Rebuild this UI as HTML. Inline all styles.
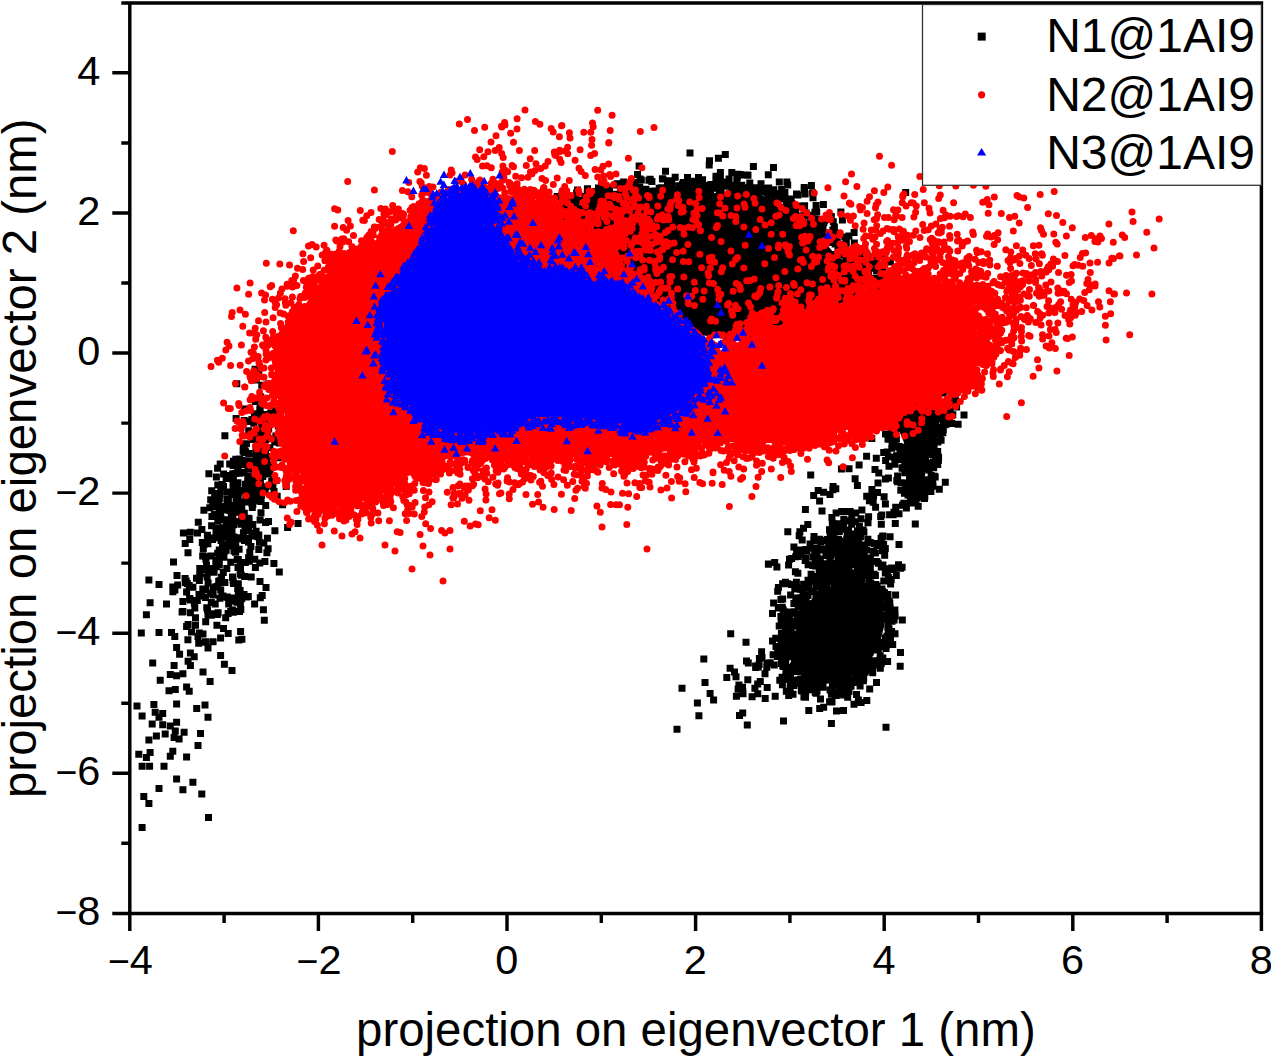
<!DOCTYPE html>
<html><head><meta charset="utf-8"><title>PCA projection</title>
<style>html,body{margin:0;padding:0;background:#fff;}svg{display:block;}text{font-family:"Liberation Sans",sans-serif;fill:#000;}</style></head><body>
<svg width="1271" height="1057" viewBox="0 0 1271 1057">
<rect width="1271" height="1057" fill="#fff"/>
<path d="M565 209L573 208L581 206L589 205L595 204L601 203L609 202L617 201L626 200L636 199L646 198L657 197L669 196L682 195L694 195L705 194L715 193L724 192L733 192L742 192L751 193L760 195L767 197L773 199L778 202L783 207L789 211L795 216L801 220L808 224L813 228L819 233L823 239L828 246L834 253L840 258L848 263L856 267L863 271L871 274L878 278L884 281L888 287L891 295L893 308L894 322L884 331L861 339L825 343L775 343L732 340L695 334L665 325L641 313L619 301L600 290L585 279L572 270L563 260L558 250L555 239L555 227L557 218L560 213z" fill="#000"/>
<path d="M904 404L915 403L924 401L934 400L942 400L948 399L951 400L950 399L950 398L948 402L946 407L943 412L941 418L939 423L937 429L935 436L933 442L931 449L930 455L928 462L927 468L925 475L924 480L922 484L921 488L919 491L918 492L919 492L919 492L920 492L919 491L918 488L916 484L914 478L913 471L911 465L909 459L907 452L905 446L903 440L901 435L898 430L896 425L895 420L894 415L894 411L894 409L898 406z" fill="#000"/>
<path d="M796 630L798 622L801 615L804 609L808 603L813 598L818 594L824 590L830 587L837 585L843 584L850 583L856 584L862 586L868 588L873 591L876 596L880 601L882 607L884 613L884 620L884 627L882 635L880 642L877 649L873 656L868 663L862 669L855 674L848 678L840 682L832 683L825 684L818 684L811 682L806 680L802 677L798 672L796 667L794 662L793 657L793 651L794 645L795 638z" fill="#000"/>
<path d="M566 203.7h0M570.1 199h0M562.8 199.3h0M557.2 196.6h0M570 209.9h0M573.9 207.4h0M561.9 195.1h0M570.1 207.1h0M568.1 196.8h0M574.2 205.3h0M572.1 208.2h0M572.1 206.6h0M566.1 195.2h0M571.3 204.2h0M575.5 200.5h0M575.4 203h0M575.3 199.6h0M577.9 207.9h0M577.5 190.1h0M580.8 200.4h0M576.6 193h0M587.7 203.9h0M585.2 204.1h0M589.8 197.6h0M584.7 196.4h0M588.9 201.7h0M587.2 193.2h0M587.4 189.6h0M587 196.7h0M589.2 199.8h0M592.4 203.7h0M594.1 191.5h0M587.5 188.7h0M592.2 193h0M594.8 198.1h0M597.8 196.8h0M597.3 197.7h0M596.5 204.1h0M595 197.7h0M599.5 195.1h0M605.4 199.8h0M598.5 188h0M598.8 191.4h0M599.9 204.7h0M601.7 189.3h0M604.6 204.7h0M599.3 201.5h0M599.7 191.7h0M601.6 186.4h0M601.7 195.8h0M604.2 202.8h0M611.1 202h0M604.3 194.2h0M605.7 185.8h0M602.5 191.7h0M604.8 193.7h0M610.6 194.9h0M610 195.8h0M612.6 199.7h0M613.5 196.5h0M609.2 194.5h0M615.3 185.1h0M620.5 196.9h0M617.2 183.7h0M615.8 195.8h0M620.4 188.7h0M613.8 194.2h0M621.9 191.8h0M625.7 197.4h0M621.7 185.5h0M620.7 192.1h0M625.8 199.6h0M623.5 195.5h0M629.6 200.6h0M623.6 182.1h0M628.1 188.2h0M630.2 194.3h0M633.4 190.7h0M631.8 190.6h0M629.5 186.2h0M640.4 199.8h0M631.6 199.7h0M628.2 192.9h0M635 182.5h0M631.7 194.3h0M636.4 197.3h0M638.3 197.4h0M639.1 191.4h0M641 198.4h0M639.6 196.4h0M642.5 197.1h0M638 191.8h0M639.1 165.9h0M639.7 187.3h0M646.3 194.7h0M652.1 192.2h0M645.5 193h0M646 189.2h0M650.2 179.3h0M650.6 191.4h0M648.9 180.3h0M654.7 192h0M651 192.4h0M656 192.1h0M641.3 179.9h0M655.5 193.8h0M655.1 194.2h0M653.8 191h0M651.9 181.5h0M659.2 188.3h0M663.1 187.9h0M662.4 178.8h0M661.3 193.1h0M662.8 195.5h0M662.2 192.5h0M662.8 179h0M663.9 191.5h0M665.8 193.8h0M667.1 194.8h0M661.4 187.7h0M667.5 181.6h0M665.5 171.2h0M671.8 183.5h0M670.5 187.6h0M669.9 193.6h0M666.6 188.1h0M673.7 195.9h0M678.5 194.4h0M668.9 180.8h0M679 196.9h0M674.5 190.5h0M681.5 191.2h0M682.3 194.9h0M676.2 190.7h0M684.2 189h0M682.6 184.3h0M676 193h0M678.9 185.8h0M675.8 191.6h0M683.2 193.7h0M683.3 182.4h0M683.9 190.9h0M687.9 191.5h0M689.1 192.3h0M679.9 188.7h0M690 195.4h0M688.6 188.8h0M692.8 181.3h0M694.9 184.2h0M691 185.6h0M687.5 177.6h0M689.6 181.8h0M692.6 184.2h0M691.8 182.8h0M697.4 183.1h0M696.4 184.9h0M697 192.5h0M694.4 191.9h0M703.7 190.9h0M702.6 179.8h0M704.1 186h0M701.6 184.7h0M697.7 191.7h0M703.2 189.7h0M699.5 180.7h0M700 186.7h0M706.2 187.3h0M703.5 188.3h0M706.3 185.5h0M707.3 187.5h0M704 187.2h0M710 186.9h0M706.3 192.6h0M710 192.3h0M710.6 189.6h0M709.2 165.1h0M709.3 187.3h0M710.8 184.4h0M714 187.2h0M712.4 184.8h0M715.9 179h0M717.4 185.2h0M717.2 188.2h0M720.4 179.1h0M717.1 186.5h0M731.8 172.6h0M719.3 192.3h0M720 188.5h0M721.1 190.9h0M709.5 160.8h0M720.9 185.3h0M722.1 184.6h0M716 176.3h0M718.4 158.3h0M724.3 186.3h0M729.1 179.1h0M729.5 193.7h0M731.2 185.7h0M728.9 186.3h0M726.7 182.1h0M731.8 187.8h0M735.9 192.9h0M734.7 185.2h0M735 193.4h0M735 187.5h0M737.4 176.9h0M738 189.3h0M739.5 186.7h0M740.7 174.7h0M747.3 174.9h0M737.4 174.2h0M738.3 187.5h0M742 189h0M736.8 179.8h0M739.4 174.6h0M744 175.1h0M725.3 154.6h0M741.8 185.3h0M749.2 189.6h0M747.2 188.2h0M749.8 190.7h0M751.2 191.6h0M749.1 187.5h0M753.5 190.8h0M753.4 166.6h0M754.3 187.7h0M760.5 189h0M756.7 195h0M763.8 191.4h0M764.4 188.3h0M766.9 192.6h0M765 191.4h0M768.7 187.9h0M769.4 192h0M769.9 193.7h0M772.7 194.7h0M769.2 191.1h0M779.3 182h0M768.5 194.8h0M773.5 167.4h0M773.8 189.8h0M786.9 181.9h0M782.3 193.6h0M774.5 197h0M778.8 194.8h0M784.9 192.6h0M780.7 197.8h0M780.9 193.5h0M781.6 189.6h0M781.9 199.1h0M781.1 195.3h0M782.9 197.8h0M784.2 195.9h0M787.4 198.9h0M790.7 200.8h0M784.3 207.2h0M782.3 207.9h0M797.9 195h0M804.1 189.7h0M786.6 204.8h0M787 208.7h0M791.1 199h0M791.8 203.6h0M792 206.4h0M796.5 193.9h0M787.3 211.1h0M805.1 194h0M804.2 187.6h0M792.2 213.2h0M792.4 208.2h0M804.6 205.8h0M796.9 205.9h0M793 214.2h0M795.6 212.4h0M802.4 222.1h0M801.3 206h0M791.5 215.6h0M804.6 189.4h0M797.6 217.9h0M813 197.8h0M802.3 216.9h0M802.1 215.9h0M803 215.8h0M816.1 205.6h0M806.2 212.9h0M808.4 216h0M811.2 216.9h0M811.2 228.8h0M810.9 217.7h0M811.8 215.3h0M823.4 204.5h0M809.8 223.6h0M814.9 212.3h0M816.7 212h0M818.1 219.5h0M813.8 227h0M813.5 226.8h0M816.2 224.1h0M820 225.2h0M825.5 219.4h0M824.6 220.5h0M816.5 224.2h0M822.7 233.3h0M819.5 228.1h0M823 227.1h0M822 228.6h0M823.9 222.6h0M820.3 229.6h0M833.3 221.7h0M834.4 227.1h0M842.4 220.1h0M840.9 212h0M831.3 216.5h0M823.1 237.8h0M825 237.2h0M833.6 233h0M832.9 230h0M828 233.1h0M833.6 233.8h0M826.5 241h0M848.9 236.1h0M831.9 236.2h0M831.4 242.4h0M837.3 242h0M835.2 233.1h0M833.4 230.5h0M834.2 241.5h0M835.2 244.1h0M835.2 238.6h0M835.9 240.9h0M835.5 243.8h0M845.4 247h0M854.3 242.9h0M833 254.6h0M839.7 245.6h0M844.8 237.1h0M835.5 240h0M846.3 242.4h0M842.7 251.4h0M838 249.4h0M840 252.4h0M842.5 251h0M843.8 253.3h0M842.7 247.9h0M844.3 249.5h0M840 244.4h0M854.1 232.4h0M841.8 250.2h0M842.8 251.7h0M843.7 255.1h0M847.2 254.4h0M844.9 246.5h0M846.6 254.4h0M855.1 254.3h0M851.6 264.1h0M847.8 252.3h0M846 259h0M859.6 251.6h0M853.9 260.3h0M855.1 263.5h0M862.8 258.4h0M863.8 250.1h0M860.1 256.9h0M858.2 264.1h0M859.8 248.7h0M858.6 269.9h0M860.4 265.4h0M859.3 264.8h0M863.7 254h0M862 268.7h0M862.3 266.5h0M867.1 256.3h0M863 268.6h0M864 264.5h0M865.1 262h0M876.8 256.2h0M870.3 256.9h0M864.3 252.9h0M867.6 262h0M868.5 263.6h0M876.8 263.4h0M868.1 262.9h0M869.6 268.2h0M868.6 271.5h0M876 265.6h0M871.3 264.3h0M874 264.3h0M875.8 267.2h0M876.3 278.2h0M881.2 272.9h0M881.7 269.6h0M890.4 261.9h0M876.6 270.8h0M881.8 270.8h0M882.4 272.1h0M878.1 278.2h0M882.7 269.4h0M881.6 279.3h0M883 281.5h0M883.1 256.6h0M890.3 273.3h0M884.4 279.8h0M893.3 278.4h0M894.6 290.2h0M907 259.2h0M886.6 281.6h0M893.8 279.5h0M892.1 281.9h0M891.1 279.8h0M891.3 280h0M890.3 285.3h0M889.7 290.4h0M896.9 287.1h0M897.5 287.4h0M897 289.6h0M897.5 287.7h0M894.7 293.3h0M897.5 288.1h0M898.3 289.6h0M897.4 288.4h0M894.8 297.4h0M899.4 291.1h0M900 292.3h0M895.4 290.5h0M905.3 299.7h0M897.3 302.6h0M901 298h0M898.1 300.8h0M898.2 295.8h0M899.2 306.9h0M897.1 317.5h0M897.2 316.2h0M896.6 321.6h0M909.9 313h0M900.2 319.8h0M905.5 328.4h0M900.5 324.7h0M894.6 320.3h0M896.3 330.6h0M888.1 333h0M876.4 338.7h0M875.3 340.3h0M872.9 358.3h0M863.8 348.7h0M849.6 345.7h0M553.1 259.1h0M545.1 253.1h0M550.3 251.2h0M551.7 250h0M553.4 239.8h0M555.3 247.6h0M546.5 246.8h0M552.8 242.1h0M550 237.3h0M555.3 239.8h0M557.2 236.5h0M546.7 235.9h0M546.7 231.8h0M548.8 231.8h0M549.6 226.4h0M553.9 234.6h0M544.6 230.8h0M554.6 227.4h0M546.4 229.5h0M541.6 227.1h0M542.7 221.5h0M548.5 229.4h0M551.4 226.5h0M552.1 224.8h0M557.5 221.1h0M555.5 220.6h0M547.9 217.6h0M557.9 216h0M552.4 226.2h0M546.4 219.8h0M557.1 217.4h0M548.2 214.4h0M557.1 217.2h0M546.3 206.4h0M544.4 206.4h0M549.7 217.7h0M559 212h0M557.1 204.8h0M554.9 209.7h0M549.6 211.7h0M557.1 208.5h0M554.1 206.1h0M561.1 203.8h0M552.5 199.6h0M564 206h0M550.4 199.3h0M930.1 401.9h0M935.2 391.9h0M934.9 394.5h0M937.2 398.5h0M943.4 391.2h0M942.8 393h0M953.4 394.3h0M951 390.9h0M955.3 395.6h0M951.5 394.1h0M955 393.5h0M955.2 405.2h0M956.1 402.1h0M948.3 399.5h0M949 399.5h0M964 414.9h0M956.6 407h0M945.5 408.7h0M952.8 414.7h0M950.1 411.4h0M950 413.9h0M942.8 409.7h0M948.6 417.4h0M951.7 423.6h0M942 413.1h0M949 420.5h0M942.7 416.6h0M946.8 417.6h0M944.1 415.6h0M949.2 422.7h0M941.2 428.2h0M943.2 419.6h0M958.1 424.3h0M943.3 429.5h0M943.6 422.1h0M945 424.7h0M941.5 419.1h0M947.6 421.1h0M946.4 423.9h0M939.7 429.8h0M940.1 429.5h0M942.9 432.8h0M934.4 432.3h0M940.1 433.5h0M941.1 427.1h0M935.9 429.7h0M933.8 434.8h0M940.1 431.1h0M939.6 430.9h0M941.1 440.3h0M937.6 441.9h0M936 440.9h0M937.3 441.6h0M937.9 441.7h0M934.6 440.9h0M934.1 445.4h0M931.1 443.7h0M938.6 457.3h0M937.7 451.6h0M933.6 450.9h0M935.7 454.9h0M929 449.4h0M931.2 451.5h0M930.3 454.2h0M931.1 451.8h0M935.4 463h0M938.4 460.4h0M933.5 462h0M926.8 463.1h0M937.7 464.6h0M930.4 464.5h0M926.2 467.1h0M933.7 467.8h0M934.4 476.3h0M929.2 469.9h0M935.2 477.1h0M931.2 475.5h0M932.8 479.8h0M930.7 480.9h0M928.3 482.5h0M945.3 482.3h0M929 483.7h0M925 479.8h0M928.3 485.8h0M930.9 491.5h0M939.3 489.2h0M933 486.2h0M927 486.3h0M925.5 484.9h0M922.1 487.5h0M922.4 483.7h0M922.5 496.7h0M924.5 498.4h0M920.7 495.6h0M924.5 492.1h0M919.7 495.2h0M924.8 496.6h0M919.2 496.9h0M914.9 500h0M918 491.6h0M918 493.1h0M917.4 494.3h0M917.1 498.1h0M915.1 494.4h0M914.1 495.9h0M920.1 496.3h0M910.4 501.9h0M893.1 514.8h0M914.6 497.1h0M914.1 488.5h0M908.9 493.6h0M911.3 491.3h0M919.8 491.5h0M911.6 503h0M914 487.3h0M913.2 487.1h0M920.1 492h0M911.6 486.9h0M914.1 492.6h0M904.4 493.2h0M907.3 490.7h0M911.7 481.4h0M908.4 483.5h0M910.3 487h0M910.7 479.6h0M906.9 484.6h0M907.1 483.7h0M916 481.3h0M900.8 490.2h0M905.8 483.1h0M912 480.5h0M909.5 478h0M905.9 484.5h0M901.1 482.7h0M897.6 481.7h0M888.4 478.1h0M896.8 480.4h0M910.7 473.7h0M904.8 472.8h0M904.8 472.8h0M913.6 477.9h0M897.6 475.9h0M885.4 479.1h0M903.6 468.3h0M905.1 468.3h0M905.4 472.8h0M902.9 467.7h0M904.1 466.9h0M904.6 466.8h0M902.1 468.2h0M905.7 465.9h0M906.5 463.7h0M908 465h0M908.2 458.2h0M908.1 460.8h0M903.5 455.7h0M905.7 456.8h0M898.9 457.4h0M900.6 459.6h0M878.8 473h0M894.5 457.2h0M875 469.5h0M897.9 455.7h0M889 466.3h0M899.2 457.4h0M904.5 449.4h0M900.1 451.2h0M908.7 450.5h0M895.3 458.8h0M905.8 451.3h0M899.3 447.2h0M896.5 455.8h0M887.2 451.9h0M888.3 456.8h0M885.6 460.4h0M892.1 443.9h0M891.8 448.3h0M903.5 447.3h0M899 446.5h0M894 446.2h0M876.3 458.3h0M893.3 435.7h0M883.7 452.4h0M896.4 439.3h0M866.6 456.3h0M894 437.7h0M890.6 435.7h0M895.3 434.8h0M885.5 434.1h0M888.9 439.3h0M888 439.1h0M894.4 424.8h0M892.7 425.5h0M899.8 427.8h0M895.7 428.2h0M892.4 429.7h0M871.8 438.6h0M874 422.5h0M892 428.2h0M892.2 421.2h0M893.6 426.3h0M892.2 424.4h0M889.3 426.4h0M887.3 422.2h0M893.6 423.3h0M893.8 417.4h0M888.3 414.5h0M891 412.3h0M888 420.8h0M894.6 414.6h0M881.2 420.8h0M881.8 414.5h0M889 408.6h0M888.8 412h0M879.4 413.1h0M887.1 405.5h0M890 403.4h0M882.8 391.6h0M901.2 398.9h0M786.4 632.7h0M779.2 625.9h0M791 629.3h0M786.3 624.7h0M795.7 621.4h0M782.2 621.6h0M784.7 620.9h0M794.1 625.9h0M786.6 622.4h0M792 622.1h0M787.1 624.9h0M786.7 621.8h0M793.2 621.8h0M773.6 603h0M797.1 618.7h0M778.3 608h0M790.3 612h0M792.1 613.3h0M789.4 617.2h0M802 614.8h0M779.9 607.4h0M794.7 612h0M802.4 607.6h0M799.3 614.4h0M780.9 599.4h0M783.2 610h0M789.3 614.6h0M790.5 612.3h0M798.1 607h0M794.6 611.7h0M782.3 607.2h0M793.9 603.5h0M799.1 606.9h0M799.1 603.5h0M782.7 599.1h0M782.6 583.7h0M787.8 583.8h0M790.6 594.9h0M808.7 603.8h0M807.9 603.9h0M801.3 603h0M805.7 602.5h0M774.7 562.6h0M794.9 584.9h0M795.4 571.7h0M803.8 596.9h0M804.1 596.8h0M796.4 582.2h0M806.1 598h0M808.9 588.3h0M808 595.6h0M810.8 591.4h0M813.8 591.6h0M816.3 581.9h0M815.9 596.8h0M821.3 590.1h0M816.2 586.6h0M819.9 579h0M817.6 583h0M819.5 568.2h0M825.3 588.9h0M805.7 558.3h0M817.3 583.8h0M823.6 582.9h0M826.4 583.9h0M828.1 581.5h0M816.2 563.8h0M826.6 587.9h0M833.9 587.6h0M826.2 576.4h0M832.3 580.3h0M835 539.7h0M832.2 577.4h0M830.9 579.4h0M833.5 553.6h0M835.8 569.7h0M834 577.1h0M836.9 582.1h0M840.8 574.1h0M837.7 579.4h0M838.1 583.1h0M836.8 567.4h0M835.5 576.6h0M840.6 574.9h0M837.1 586.3h0M828.7 567.1h0M836.3 573.7h0M834.3 579.6h0M833.9 572.1h0M843.8 571.5h0M846.1 561.9h0M846.4 583.2h0M837.5 580.9h0M845.8 572.1h0M839.4 583.6h0M843.5 569.8h0M846 576.1h0M848 578.1h0M845.8 585.1h0M845.6 563.5h0M843.6 576.9h0M850.5 577h0M851.1 573.4h0M848 578.3h0M856.3 579.6h0M850.7 573.6h0M849.1 566.6h0M848.5 558.5h0M851.3 576.6h0M857.2 570.5h0M856.3 581.2h0M859.7 575h0M853.8 576.6h0M857.6 572.1h0M861.7 578.8h0M861.3 581.8h0M861.6 576.8h0M858.3 574.8h0M870.3 571h0M864.4 575.3h0M867.8 586.4h0M870.4 572h0M869.8 572.2h0M869.2 583.3h0M868.9 579.7h0M870.7 582.9h0M870.6 583h0M871.8 575.4h0M867.2 586.2h0M875.8 584.4h0M875.8 589.1h0M874.9 585.4h0M875.1 586.5h0M872.4 587.6h0M877.4 588.9h0M877 585.9h0M881.9 589h0M882.6 591.5h0M877.3 597h0M879.8 593.6h0M879.2 599.8h0M889.1 601.4h0M885.9 597.1h0M883.8 595.7h0M884.5 592.7h0M879 599.2h0M888 594.4h0M880.6 606.2h0M889.8 603.1h0M886.7 605.6h0M890.1 607.2h0M888.4 604.1h0M894.7 613.9h0M888.7 612.2h0M894.2 609.9h0M886.5 619.3h0M894.9 609.9h0M889.3 616.8h0M895.1 615.9h0M894.1 620.1h0M886.5 615.6h0M902.3 619.9h0M883.7 617.9h0M892 614.1h0M890.3 619.8h0M892 621.2h0M887.8 625.1h0M891.1 631.4h0M891.6 631.6h0M889.5 633h0M889.8 632h0M889 628.8h0M895 633.7h0M885.3 638h0M887 636.3h0M888.3 634.1h0M888.7 634.5h0M889.3 638.6h0M888.2 636h0M887.9 627.4h0M884.6 642.7h0M890.5 637.8h0M892.7 644.5h0M885.7 638.7h0M886.3 645.5h0M880.8 646.6h0M881.6 642.5h0M876.3 646.6h0M886 648.5h0M879.7 660.3h0M882.8 658h0M880.2 655.7h0M878.3 650h0M887.6 661.4h0M881.2 659.8h0M879.5 661h0M873.1 660.8h0M881.2 663.8h0M880.1 665.3h0M873.6 665.2h0M880.3 668.3h0M868.6 663.7h0M872.7 666.5h0M873.4 664.8h0M867.4 662.4h0M872.7 672.8h0M870.9 670.6h0M872.2 663h0M865.1 672.3h0M867.5 668.1h0M861.4 672.4h0M868.5 667.5h0M864.9 669.9h0M860.7 677.5h0M862.9 675.8h0M861 674.8h0M855.2 671.4h0M863.7 678.3h0M855.9 672.8h0M860.1 685.9h0M863.4 680.8h0M856.9 678.3h0M856.6 678.6h0M857.2 681.7h0M852 679.3h0M853 682.6h0M852.5 679.2h0M844 678.2h0M851 685.1h0M852.3 679.1h0M849 691.6h0M843.6 684.1h0M851 686.3h0M844.4 682.4h0M847.6 689.2h0M861.1 702.5h0M844.4 682h0M843.1 683.1h0M846.5 684.4h0M839.3 682.7h0M856.5 694.4h0M846.1 691.4h0M841.9 689.4h0M843.7 694.9h0M858.4 699.9h0M846.7 680.5h0M840.3 692h0M843.6 689h0M835.2 693.4h0M841 688.3h0M834.6 682.3h0M832.4 682.9h0M834.4 682.2h0M831.7 701.9h0M836.6 695.2h0M832.1 689.7h0M838.9 685.1h0M836.5 710.9h0M833 690.9h0M832 701.4h0M835.6 695.5h0M831.4 694.2h0M833.5 682.9h0M823 687.2h0M819.7 708.4h0M829.6 701.8h0M830.1 689.9h0M831.4 723.4h0M818.9 686.9h0M817.8 681.7h0M815.2 692.2h0M820.5 683.4h0M817 691.1h0M818.1 683.6h0M820.5 699.1h0M818 684.2h0M808.8 710.6h0M819 685.8h0M814.3 689.7h0M816.2 693.3h0M811.8 682.4h0M805.5 697.2h0M808.5 688.5h0M808 684.5h0M808.3 687.2h0M809.5 689.2h0M808.6 689.7h0M806.8 684.8h0M805.3 693.7h0M811.2 688.2h0M802 690.9h0M805.7 691.7h0M807.6 681.1h0M807.5 680.6h0M807.8 681.5h0M801.3 690.2h0M800.3 683.6h0M794 683.3h0M795 680h0M800.6 679.1h0M788.7 695.6h0M790.4 681.6h0M752.1 696.7h0M796.3 668.6h0M754.9 688.2h0M784 679.4h0M765.2 698.5h0M792.8 667.9h0M796.8 671.5h0M790.5 675.3h0M786.3 672h0M789.5 671.3h0M779.8 680.2h0M793.3 670.7h0M792 667.6h0M782.1 677.3h0M789.6 672.5h0M758.2 667h0M788.2 667.7h0M782.8 666.1h0M793.4 665.9h0M774.2 664.9h0M785.9 673.5h0M781.9 663.2h0M794.5 661h0M785.7 662.3h0M794.8 656.2h0M755.6 666h0M746 642.3h0M773.1 654.8h0M784.3 654.3h0M767 663.3h0M791.6 656.7h0M785.9 656h0M793 649.4h0M788.8 648.6h0M776 646.5h0M787.6 655.8h0M794.9 652.5h0M783.8 652.8h0M795.2 652.4h0M784.9 647.4h0M793.4 642.9h0M789.5 644.7h0M782.7 648.8h0M775.7 638.3h0M787 641.3h0M781.2 644.8h0M786 638.3h0M772.5 641h0M787.3 637.5h0M787.1 643.8h0M789.7 641.4h0M790.8 642h0M784.1 635.4h0M781.4 633.4h0M782 625.9h0M787.9 631.9h0M794.5 634.6h0M675.2 177.3h0M609.5 187.7h0M637.5 174.4h0M812.6 192.8h0M703 214.4h0M639.9 179.1h0M749.7 195.4h0M748 175.2h0M703.4 185.9h0M759.4 190.4h0M698.8 197.2h0M811.4 185.4h0M779 198.7h0M720.4 172.4h0M749.8 183h0M787.7 185h0M717.2 186h0M761 183.8h0M715.7 203.7h0M701.1 181.3h0M589.9 195.3h0M635.8 189.5h0M651.7 205.9h0M725.9 183.1h0M905.7 192.5h0M655.3 191.1h0M690 153h0M630.5 189.5h0M693.1 195.9h0M704.1 200.9h0M768.3 174.8h0M622.5 183.5h0M754.8 197.9h0M736.9 174.3h0M698.5 177.5h0M632.2 191.6h0M645.1 192.6h0M704.9 199.2h0M759.2 197h0M711.8 187.8h0M917.6 434.8h0M914.1 470.9h0M915.7 488.1h0M919.6 481.3h0M913.6 502.1h0M922.4 482.9h0M911 484.7h0M923.2 428.5h0M903.8 503.2h0M934.5 463.7h0M913.2 496.3h0M931.6 438.6h0M930.9 454.4h0M915.8 502.9h0M922.2 444.7h0M914.1 477.8h0M918.1 464.8h0M899 513.8h0M913 483h0M918.2 506.3h0M920.5 474.1h0M931.2 435.2h0M915.3 524h0M925.6 461.8h0M918.9 475.9h0M919.8 473.9h0M931.4 438.2h0M912.8 491.1h0M910.5 463.7h0M931.5 433.5h0M924.8 439h0M935.4 421.4h0M917.1 454.6h0M907.7 467.2h0M921.2 450.8h0M914.1 472h0M913.2 463.9h0M927 487.5h0M920.4 473.6h0M911 467.8h0M835.8 488.7h0M823.6 492.2h0M833.1 486.6h0M871.9 489.6h0M841.6 511.6h0M902.5 505.2h0M884.1 496.8h0M818.2 490.5h0M868 522.8h0M890.1 536.7h0M836.1 512.9h0M894 512.3h0M841.4 469h0M908 495h0M878 483h0M855.1 478.7h0M805.4 509.4h0M857.4 485.4h0M831.9 517.4h0M869.4 500.7h0M832.8 489.8h0M873.6 495.7h0M849 468.8h0M877.5 492.6h0M880.7 516.4h0M861.9 510.1h0M873.2 502.2h0M889.6 514.8h0M830 494.6h0M875.6 507.2h0M858.7 541.2h0M906.4 507.9h0M859.1 465h0M894.9 464.3h0M810.7 474.9h0M895.7 507.3h0M868.6 516.8h0M870.7 498.5h0M885.4 504h0M819.6 501.1h0M815.6 565.9h0M841.8 591.3h0M852.6 573.7h0M832 603.7h0M819.7 595.3h0M858.1 625.7h0M874.2 603.9h0M845.2 581h0M776.9 567.1h0M820.8 594.3h0M831.1 607.4h0M855.2 628h0M829.5 574.8h0M830.6 555.5h0M870.3 542.5h0M878.2 563.3h0M844.8 583.5h0M811.5 581.3h0M808 580.2h0M860.4 587h0M820.3 596.3h0M841.4 545.5h0M836.8 588.9h0M846.2 583.5h0M851.4 583.1h0M812.9 576.6h0M823.7 540.4h0M846.9 599.2h0M842.5 575.3h0M803.6 584.3h0M895.6 595h0M802.5 588.3h0M871 597.7h0M795.8 598.1h0M868.8 564h0M791.6 558.5h0M867.2 607.8h0M846.2 567.8h0M863.8 641.6h0M820.3 559.6h0M848.7 591.3h0M848.2 585.5h0M845.9 593.8h0M825.6 563.7h0M879.5 595.3h0M790.2 637.1h0M797.9 573.3h0M799.9 531.7h0M881.3 603.1h0M816.3 597.4h0M820.6 603.7h0M820.7 566.7h0M832.2 597.3h0M833.9 609.1h0M827.4 574.8h0M798.3 588.2h0M852.9 599.8h0M841.2 605.6h0M883.8 581.1h0M853 591.9h0M839 636.8h0M800.8 637.6h0M843.7 560.7h0M858.2 641.5h0M888.4 577.5h0M852.6 613.5h0M864 556.1h0M858.4 582h0M887.5 570.6h0M873.8 607.3h0M843.1 591.9h0M800.8 597.7h0M887.7 596.6h0M844.2 591.7h0M819.1 609.6h0M801 589.6h0M791.6 584.5h0M848.9 570.7h0M836.8 564h0M850.3 573.1h0M875.9 595.6h0M824.2 611.9h0M849.8 583.3h0M826.5 636.2h0M817 617.5h0M778.4 587.4h0M819.4 595.2h0M872.2 585.9h0M826.9 540.7h0M850.1 606.8h0M845 591.8h0M899 544.5h0M883.2 608.3h0M823.5 572.3h0M829.6 580.4h0M874.2 543.4h0M848.7 585.3h0M845.1 596.9h0M875.4 575.6h0M858.3 585.9h0M846.7 538.9h0M854.1 584.8h0M804.7 584.9h0M852 602.7h0M850.2 611.7h0M890.6 583.9h0M852.1 608.5h0M824.9 631.7h0M853.2 558.6h0M808 588.1h0M832.3 545.1h0M852.7 594.4h0M818.4 620h0M785.4 582.2h0M812.9 556.9h0M819.2 572.1h0M858.2 595.9h0M828.6 548.1h0M839.8 550.3h0M851.8 517.3h0M808.1 564.7h0M842.5 523.9h0M815.1 554.8h0M802.2 539.9h0M860.2 555.7h0M867.9 539.3h0M822 510.9h0M896.3 575.4h0M844.8 550.5h0M853.8 548.1h0M845.6 577.8h0M815.3 562.8h0M866.3 569.7h0M845 547.2h0M853.9 552.9h0M845.4 558.5h0M832.4 540.3h0M898.5 564.8h0M852.6 558h0M836.5 545.3h0M858.2 543.7h0M812.9 565.4h0M851 547.7h0M825.9 555.5h0M854.1 547.2h0M813.7 495.6h0M843 556.5h0M869.1 564.3h0M817.7 539.7h0M819.7 539.2h0M870.3 565.6h0M848.6 530.2h0M858.3 571.7h0M855.1 560.3h0M811.1 574.2h0M800.9 550.1h0M796.6 552.6h0M854.2 555.6h0M807.8 524.6h0M799.2 535.8h0M828.6 569.7h0M838.4 539.3h0M848.4 534.6h0M798 556.5h0M874 574.3h0M819.1 550h0M845.4 546.3h0M840.7 550.4h0M817.8 558.2h0M851.6 524.2h0M850.2 557.1h0M869.4 557.9h0M888.6 568.8h0M894 569.4h0M865.3 562.1h0M858.8 585.4h0M833.6 551.4h0M805.9 549.4h0M852.7 579h0M828.4 553.4h0M836 541.5h0M830.8 542.1h0M852.7 551.2h0M832.7 528.4h0M900.5 568.2h0M863.8 556.6h0M830.3 573h0M851.7 534h0M876.9 545.4h0M813.8 540.4h0M848 560.3h0M830 557.9h0M844.4 564.1h0M830.9 563.3h0M847.3 533h0M854.1 556.1h0M858.2 552.8h0M806.9 551h0M860.2 559.9h0M843.8 519.3h0M827.6 539.6h0M841.7 546.5h0M882.3 536.9h0M839.3 531.4h0M822 566.6h0M860.5 565.7h0M838.5 579.7h0M860.6 535h0M850.1 511.5h0M876.9 561.6h0M828.9 544.6h0M834.4 532h0M870.4 558.8h0M885.3 548.5h0M849 520.7h0M873.5 551.2h0M855.5 521.8h0M844.2 558.5h0M803.5 528.3h0M895.3 523.6h0M872.5 561.4h0M788.6 565.1h0M863.3 544.9h0M829.5 529.7h0M819.1 559.3h0M830 551.3h0M861.8 553.1h0M842.4 542.5h0M838.6 523.8h0M839.6 541h0M834.4 573.1h0M856.6 537.8h0M793.9 547.1h0M811.2 548.1h0M839.6 564.9h0M815 553.8h0M847.5 541.9h0M834.4 580.8h0M853.1 552h0M839.5 554.2h0M858.3 537.9h0M843.7 523.5h0M861.7 556.6h0M835.4 543.3h0M801.2 554.4h0M844.5 511.6h0M844.9 577.4h0M832.4 549.8h0M869.1 562.7h0M857.5 531.1h0M882.5 550.8h0M835.9 551.8h0M835.6 567.9h0M857.7 562.4h0M881.8 514.9h0M828.5 552.8h0M857.6 551.5h0M844.8 543.9h0M838.3 552.9h0M868 559h0M867.2 565.4h0M863.2 530.1h0M830.1 535.1h0M845.9 550h0M805.2 560.4h0M859.1 533.2h0M814.6 549.4h0M839.5 528.1h0M866.6 550h0M840.3 546.4h0M849.8 557.9h0M830 572.6h0M816.8 556.6h0M832.3 523h0M843.1 554.7h0M833 523.6h0M848.4 540.9h0M866.7 496.2h0M795.7 556.7h0M869.2 586.3h0M856.5 533.9h0M884.7 555.2h0M885.3 573h0M860.5 536.7h0M875.4 553.1h0M832.8 536.8h0M820.8 541.7h0M843.1 550.2h0M853.6 564.5h0M841.4 553.7h0M859.5 549.2h0M864.6 547h0M891.7 568.1h0M845.5 558.4h0M838 556.9h0M861 518.7h0M855 546.4h0M863.9 531.9h0M891.2 579.5h0M829.8 561.3h0M867.9 574.6h0M882.9 536h0M881.3 524.2h0M814 536.5h0M842.4 560.9h0M881.1 538.6h0M850 562.4h0M860.7 573.2h0M847.3 544.7h0M881.3 567h0M855.8 513.1h0M842.8 529.3h0M852.2 540h0M883.6 544.6h0M859.4 526.2h0M810.1 544.1h0M855.3 563.1h0M847.8 649.1h0M832 618.1h0M781.2 619.1h0M869.7 641.2h0M840.8 629.7h0M777.7 591.3h0M853.3 630.5h0M803 591.5h0M836.8 693h0M830.6 621.2h0M838.5 629.1h0M873.3 613.1h0M831.9 649h0M821.8 634.4h0M815.9 597.5h0M834.9 684.7h0M840.4 638.7h0M768.4 563.9h0M821.7 549h0M847.6 592.1h0M859.5 572.1h0M816.7 600.2h0M900.5 652.4h0M841 689.6h0M806.8 648.2h0M790.4 652.8h0M836.7 685.3h0M886 727.3h0M793.8 685.5h0M781.4 663.6h0M730.7 633.8h0M845.4 598.6h0M777.4 656.4h0M790.2 687.5h0M777.6 651.8h0M784.3 617.4h0M847.2 662.9h0M788.2 635.7h0M823.6 615.1h0M789.5 559.3h0M803.1 661.1h0M842 612.5h0M841.7 686h0M772.5 613.6h0M817.7 642.6h0M780.9 616.5h0M843.5 710.4h0M793 694.2h0M781.1 638.9h0M847.7 697.2h0M794.8 589.1h0M821.1 665.8h0M843.3 617.1h0M795.7 634h0M803.9 621h0M838.7 663.7h0M902.1 567.3h0M838.5 620.9h0M844 695.1h0M817.1 548h0M814.4 631.2h0M872.7 585.7h0M787.8 531.8h0M789.3 655.9h0M872.3 620.3h0M786.3 691.3h0M768.4 564.3h0M834.2 655.1h0M854 704.2h0M882.9 565.1h0M900.2 666.2h0M730.1 668.3h0M808.6 648.7h0M803.9 696.9h0M830.3 667.7h0M783.7 611.6h0M817.7 609.5h0M826.9 635.1h0M823.7 707.3h0M783.8 635.4h0M825.4 677h0M782.9 635.2h0M783.7 666.4h0M806.3 662.8h0M846.7 690.9h0M739.5 715.5h0M813.8 621.1h0M869 594.9h0M822 638.3h0M795.6 640.1h0M825.8 652.5h0M876.5 682.4h0M809.6 624.8h0M789.1 642.1h0M845.2 642.5h0M805.8 687h0M789.1 624.8h0M847.4 690.9h0M783.5 721.1h0M804.1 633.6h0M866.8 700.4h0M821.5 665.1h0M864.3 640.3h0M747.3 725h0M757.8 693.7h0M785.4 630.8h0M810.3 666.5h0M738.1 689.1h0M705 682.4h0M812.2 686.9h0M767.2 687.6h0M829.2 661.9h0M766.8 667.3h0M770.2 662.8h0M760.3 681.4h0M761.6 651.7h0M736.4 696.3h0M748.3 662.9h0M697.4 703h0M698.9 715.7h0M710.1 693.6h0M736 676.7h0M755.7 667.5h0M757.7 684h0M801.5 643.7h0M857.6 643.9h0M677 729.3h0M807 626.6h0M794.1 652.4h0M742.8 691.7h0M762 657.8h0M682 688.2h0M746.5 661.1h0M828.2 671.6h0M703.8 658.9h0M738.9 685h0M765 673.8h0M788.2 669.5h0M759.1 664.6h0M742.5 687.2h0M783.7 660.6h0M734.5 671.9h0M869.7 689.1h0M815.8 678.4h0M759.4 658.4h0M726.8 677.6h0M743 693.7h0M742.7 713.1h0M747.8 679.7h0M782.4 684.7h0M713.6 699.9h0M775.2 696.2h0M232.6 494.5h0M226.9 499.2h0M247.1 491.6h0M249.8 484.7h0M249.4 476.5h0M270.1 472.9h0M268.1 456.6h0M265.5 439.7h0M214.4 514.6h0M290.3 401.4h0M262.8 476.5h0M228.4 501.2h0M210.3 568.5h0M243.6 445.2h0M229.8 528.8h0M226.6 522.8h0M210.7 499.7h0M219.3 550h0M277.6 392.4h0M229.8 510.4h0M268.4 470.3h0M250.8 491.5h0M266.6 468.1h0M262.5 430.2h0M304.4 393.9h0M233.7 483.7h0M266.6 462.8h0M255.2 401.5h0M257.5 464.7h0M257.9 413.7h0M247.8 421.5h0M258.5 480.2h0M241.1 504h0M294.5 384.5h0M254.8 464.1h0M245.8 495.7h0M275.2 410.7h0M256.4 452.2h0M249 481.8h0M268.5 521.4h0M259.8 409.8h0M261.8 385.3h0M251.9 433.3h0M253.4 439.6h0M261.9 467.3h0M268.4 474h0M304.9 385.6h0M238.1 496.4h0M294.3 395.3h0M274 491.4h0M254.3 491.5h0M265.1 491.6h0M235.6 473.5h0M260.6 486.4h0M280.1 434.8h0M252.6 421.4h0M216.9 560.4h0M234.8 539.6h0M217.8 520.8h0M252.3 507.6h0M296.9 400h0M224.9 551.1h0M257 455.2h0M252.4 463.2h0M246 501.9h0M282.4 441.8h0M211.9 516.4h0M300.9 358.2h0M235.8 521.6h0M233 483.4h0M251.9 419.6h0M236.1 501.8h0M209.8 507.7h0M243.1 502h0M233.4 505.5h0M243.4 447.5h0M235.4 512.2h0M223.3 507.3h0M220.9 518.3h0M258.7 501.1h0M273.7 385.2h0M208.9 473.8h0M282.3 407.1h0M253.8 423.3h0M244.3 452.7h0M273.2 479.6h0M259 449.3h0M260.4 482h0M226.2 477.5h0M237 464.5h0M241.9 460.6h0M258.8 481.5h0M233.1 488.7h0M244.8 408.9h0M292.9 398.2h0M228.7 505.3h0M254.2 466.8h0M308.2 360.5h0M265.6 522.5h0M234.3 511.1h0M311.1 386.5h0M257.9 398.7h0M267.4 437.3h0M282.1 406.4h0M236.1 418.5h0M243.1 451h0M227.6 499.8h0M307.8 350.6h0M247.2 460.8h0M229.9 506.4h0M290.5 346.1h0M256.2 476.8h0M255.9 456.6h0M264.8 434h0M238.3 493.3h0M240.8 524.2h0M225.4 506.4h0M217.7 553.2h0M268.7 428.7h0M298.3 370.2h0M279.3 442.9h0M257.3 470.7h0M215.5 506.7h0M259.7 491.5h0M283.6 441.4h0M248.5 530.8h0M259.6 487.3h0M229.7 463.9h0M257.7 452.5h0M259.5 485.3h0M256.8 493.1h0M254.1 463.3h0M301.4 355.2h0M256.8 416.8h0M253.6 484.7h0M198.3 522.2h0M231.3 515.1h0M249.1 518.7h0M207.4 535.2h0M261.1 501.5h0M258.8 534.9h0M244.3 513.2h0M243.9 472.4h0M265.1 421.5h0M268.5 383.9h0M257.6 488.9h0M262.6 402.8h0M260 461.3h0M226.8 492h0M275.9 436h0M219.4 498.8h0M252.3 467.8h0M261.5 421.1h0M258.7 497.8h0M236.3 496.2h0M261.7 442.8h0M261.6 495.1h0M260.2 408.5h0M235.4 464.6h0M248.4 479.4h0M259.3 413.8h0M276.1 480.4h0M229.9 532.9h0M269.8 438.8h0M270.7 413.1h0M236.8 383.8h0M286.3 438.5h0M273 415.6h0M256.4 379.9h0M237.2 465.3h0M247.7 481.6h0M289.2 429.6h0M257.6 471.8h0M241.9 511.7h0M251.9 485.5h0M237.9 470.8h0M232 494.8h0M266 437.9h0M218.6 500.8h0M219.8 552.8h0M274.8 442h0M255.1 369.2h0M263.7 433.7h0M268 420.9h0M250.7 478.8h0M255.5 533.2h0M223.5 486.5h0M248.6 557.8h0M254.3 493.3h0M286.2 486.6h0M283.4 378.8h0M250.9 488.8h0M263 439.5h0M269.8 447.7h0M245.5 451.8h0M212.4 538h0M234.6 507.6h0M261.4 473.9h0M260.8 397.1h0M256 448h0M248.9 453.6h0M240.9 510.4h0M254.4 498.7h0M222.3 484.6h0M256 420.7h0M230.5 510.1h0M189.2 585.5h0M298.2 413.5h0M295.4 431.4h0M262.2 475.8h0M242.2 515.6h0M232.8 473.7h0M237.6 467.4h0M231.7 537.6h0M293.5 427.6h0M285.7 372.7h0M285.1 399.9h0M261 512.8h0M260.1 520h0M246.4 443.7h0M283.7 402.7h0M280 431.1h0M223.6 473.9h0M229.3 506.9h0M267.9 438.3h0M261.7 424.6h0M278.2 426h0M259.8 434.7h0M217.8 485.1h0M233.1 465.6h0M217.6 468.2h0M233.4 461.2h0M258.5 476h0M281.8 406.2h0M280.4 418.4h0M265.7 486.7h0M230.5 475.4h0M227 510.1h0M256.9 461.2h0M293.1 433.9h0M261.4 456.4h0M256.2 452.3h0M248 490.1h0M243.9 451.6h0M216.4 476.9h0M249.9 492.3h0M237.3 487.2h0M248.5 494.7h0M254.4 414.2h0M219.1 512.8h0M232.7 546.1h0M239.8 506.4h0M235.7 546.2h0M234.3 484.5h0M262.2 445.5h0M250.9 498.3h0M264.3 473.7h0M252.6 464.5h0M225.6 544.9h0M265.7 430.4h0M228.1 521.3h0M260.1 445.6h0M288.5 395.7h0M218.3 497.4h0M247.7 476.7h0M231.8 476.4h0M245.4 484.2h0M226.2 520.7h0M245.1 490.8h0M250.1 461h0M248.3 469.3h0M220.9 487.1h0M277.9 457.8h0M222.1 484.8h0M258.7 373h0M255.1 471.6h0M256.6 477.5h0M234 506.2h0M263 424.5h0M235.8 459.2h0M265.7 505.6h0M172.9 591.8h0M277.2 496.3h0M214.7 493.4h0M243.3 445.2h0M205.7 569.6h0M245.7 462.3h0M259 467h0M233.4 476.5h0M266.7 414.5h0M244.2 420.4h0M271.2 464.9h0M258.8 435.9h0M220.4 512.8h0M258 451.2h0M221.5 577.3h0M249.3 487h0M252.4 436.2h0M248.6 480.6h0M241.8 505.3h0M255.4 474.9h0M237.6 490h0M263.5 465.7h0M248.7 430.8h0M253.8 467.8h0M207.9 543.8h0M258.6 453.7h0M243.7 464.7h0M287.6 406.9h0M257.1 439.2h0M261.9 491.4h0M244.4 449.5h0M245 526.7h0M222.2 507.8h0M224.9 435.7h0M239.5 459.1h0M251.9 503.4h0M248 486.3h0M263.8 458.5h0M279 385.9h0M232 531.5h0M237.4 464.5h0M272.9 486.2h0M286.7 446.8h0M231.7 537.1h0M245.8 461h0M239.8 473.2h0M296.6 383.7h0M265.5 450.5h0M240.9 461h0M233.1 581h0M249.8 552.2h0M229.9 544.9h0M258.8 549.6h0M251.2 484.7h0M218.7 581.3h0M215.2 604h0M203.9 510.3h0M173.5 561.9h0M273.9 563.6h0M177.7 585.1h0M224.1 528.6h0M240.5 569.3h0M202.8 589.1h0M251.2 577.1h0M185.2 543.4h0M235.1 550.7h0M251.9 536h0M279.3 571.9h0M274.9 530.8h0M197.3 600.6h0M244.8 576.6h0M239.1 549.2h0M219.7 494h0M208.1 583.1h0M240.4 603.8h0M219.3 565.1h0M199.7 574.5h0M207.1 576.9h0M202.3 542.6h0M197.5 532.9h0M237.2 559.6h0M227.3 597h0M259.5 542.3h0M211.7 490.8h0M203.3 548.7h0M238.1 559.7h0M234 551.1h0M223.9 557.3h0M215.1 506.1h0M231.6 522.6h0M201.9 529.6h0M264.9 561.4h0M240.1 573.9h0M199.8 568.6h0M255.4 567.6h0M207.9 540h0M252.8 524.6h0M238.1 537.7h0M237 498.1h0M267.4 538.2h0M188 552.7h0M216.2 566.8h0M232.9 515.8h0M177 575.6h0M220.2 463.9h0M226.8 568.6h0M235.4 552.3h0M208.8 537.9h0M238 567.4h0M244.5 540.4h0M223.5 628.4h0M229.1 533.6h0M231.2 538.7h0M240.2 564.5h0M237.9 482.8h0M212.6 539.6h0M217.6 495.7h0M227.3 597.3h0M263.8 543.1h0M190.3 532.2h0M243 490.5h0M228.1 613.5h0M282.6 504.8h0M252.8 504.5h0M221.3 519.8h0M271.7 481.6h0M298 523.4h0M245.7 538.6h0M237.7 588.6h0M260.3 597.7h0M212.7 501h0M257.8 536.7h0M260 581.6h0M244 594.6h0M247.5 523.3h0M229.5 538.1h0M222.5 544.8h0M204.3 544.2h0M226.3 537.3h0M189.6 598.6h0M234.9 541.3h0M217.2 586.4h0M215.8 562.7h0M188.1 661.3h0M220 598.3h0M227.1 478.6h0M241.3 575.3h0M259.8 484.6h0M232.8 598.1h0M230.1 537.8h0M252.1 479.5h0M248 518.3h0M240.5 539.1h0M210.6 593.6h0M226.2 550.3h0M217.8 561.3h0M233.5 524.7h0M223.4 527.8h0M233 494.2h0M217.3 528.1h0M268.1 548.7h0M221.1 540.5h0M241.7 519.3h0M216 532.7h0M243.4 532.8h0M259.8 563h0M226.6 519.8h0M245.6 527.1h0M243.8 515.7h0M216.3 537.7h0M213 588h0M196.5 578.2h0M240.6 631.4h0M240.8 609.5h0M232.5 577h0M233.3 612.3h0M182.1 612h0M208.5 570.1h0M222.2 534.6h0M235.7 552.3h0M240.1 590.6h0M249.3 561.3h0M185.1 578.4h0M211.4 615.3h0M246.6 597.1h0M198.7 643.2h0M233.4 583.6h0M189.8 539.5h0M220.7 589.9h0M207.5 610h0M183.4 532.9h0M236.9 602.3h0M241.9 639.3h0M239.3 595.8h0M199.3 633h0M229.1 542h0M201.3 596h0M248.5 541.9h0M245.7 539h0M266.9 552.8h0M213.6 613.7h0M241.7 598.8h0M205.7 621.7h0M210.8 555.9h0M233.9 537.1h0M194.4 602.9h0M206 559.3h0M250.9 546.6h0M232.7 610.1h0M194.8 608.1h0M205.4 556.7h0M215.4 587h0M199 594.6h0M245.3 562.4h0M219.3 559.1h0M187.3 583.4h0M188.1 624.5h0M238.3 559.6h0M264.3 620.3h0M228.7 604.1h0M186.2 581.1h0M200.1 573.2h0M230.8 562.2h0M211.3 602.4h0M224.9 582.4h0M287.6 527.5h0M192.9 587.3h0M202.7 556.1h0M220.2 580.6h0M205.9 642.3h0M222.9 595.9h0M256.1 531.3h0M223.3 572.4h0M254.8 559.3h0M217.4 614.4h0M255 493.1h0M174.9 589.9h0M199.4 580.6h0M214.1 572.2h0M233.2 600.9h0M191.5 632h0M211.6 525.8h0M206.5 565.5h0M262.2 595.4h0M148.9 580h0M159 584.5h0M172.8 587h0M185.4 582.5h0M186.6 592.1h0M205.5 590.1h0M218.1 586.3h0M238.3 583.8h0M266 587.6h0M248.3 596.4h0M254.6 603.9h0M263.4 609.7h0M150.1 602.7h0M166.5 603.9h0M182.9 601.4h0M190.4 600.1h0M205.5 597.6h0M213.1 595.1h0M221.9 596.4h0M238.3 595.1h0M146.4 614.7h0M182.9 611.5h0M190.4 612.7h0M195.5 617.8h0M206.8 607.7h0M208 615.2h0M218.1 612.7h0M225.7 617.8h0M230.7 611.5h0M239.5 611.5h0M186.6 626.6h0M195.5 625.3h0M216.9 625.3h0M141.3 632.9h0M159 632.4h0M171.5 632.4h0M174.8 636.6h0M187.9 639.7h0M198 636.6h0M203 634.1h0M205.5 641.7h0M213.1 641.7h0M220.6 637.9h0M228.2 633.4h0M238.8 639.9h0M176.6 647.5h0M179.6 654.3h0M190.4 653h0M194.2 656.8h0M208 648h0M152.7 663.1h0M174.1 665.6h0M190.4 665.6h0M203 671.9h0M220.6 655.5h0M224.4 664.3h0M232 670.6h0M170.3 674.4h0M176.6 675.7h0M182.9 673.7h0M160.2 680.2h0M210.1 681.5h0M169 690.8h0M175.3 689.5h0M186.6 687h0M189.2 691.3h0M137 705.9h0M153.9 704.6h0M176.6 703.9h0M196.7 708.4h0M205 705.1h0M142.1 716h0M155.2 712.2h0M159 717.2h0M162.7 713.4h0M208 717.2h0M152.2 724h0M162.7 724.8h0M170.3 726h0M176.6 722.2h0M175.3 731.1h0M184.1 732.3h0M200.5 733.6h0M148.9 739.9h0M156.4 736.1h0M165.2 734.1h0M174.1 737.4h0M179.1 739.1h0M198 745.4h0M138.8 754.2h0M150.1 752.5h0M146.4 757.5h0M172.8 751.2h0M170.3 756.2h0M186.6 757h0M142.1 766.3h0M149.6 766.3h0M164 766.3h0M176.6 778.9h0M192.9 782.2h0M159 788.5h0M182.9 789.7h0M201.8 794h0M143.8 796.5h0M148.9 803.6h0M208.5 817.4h0M142.1 827.5h0" fill="none" stroke="#000" stroke-width="7" stroke-linecap="square"/>
<path d="M280 364L284 352L288 340L292 329L297 319L302 310L307 302L312 294L317 286L322 280L328 274L334 268L341 263L350 258L359 252L367 246L376 240L385 233L394 227L401 223L408 219L414 216L421 213L428 209L436 205L443 202L452 199L461 196L472 195L484 194L496 194L507 195L517 196L527 198L535 200L542 203L547 206L552 209L557 214L563 219L569 225L576 231L584 239L592 247L601 255L610 264L621 273L632 282L645 292L658 301L670 309L681 317L692 325L701 332L708 343L713 359L715 381L715 407L711 427L704 440L693 447L677 450L661 452L646 454L632 456L620 457L607 457L595 457L582 457L570 457L557 456L545 456L532 455L520 455L507 455L495 455L482 455L469 455L457 457L447 459L438 462L432 466L426 469L420 472L414 474L408 476L401 479L396 482L390 486L386 489L380 493L374 497L366 500L357 504L348 507L340 508L333 509L326 508L321 507L316 505L313 502L311 498L308 493L305 487L302 479L299 471L296 461L294 451L291 439L288 427L285 416L283 407L280 398L278 392L278 384L278 375z" fill="#f00"/>
<path d="M701 362L706 359L712 355L720 351L730 346L741 341L753 336L765 331L777 326L790 321L802 316L815 312L827 307L840 303L852 299L864 295L875 291L886 287L896 285L905 283L914 282L922 283L930 284L936 286L942 290L948 294L953 300L959 306L965 314L971 323L976 330L979 337L982 343L983 348L984 353L983 357L980 362L976 367L971 373L966 378L960 383L954 387L948 392L941 395L933 398L924 401L914 405L903 409L891 414L878 419L866 424L853 428L841 432L829 435L816 438L804 440L792 442L779 443L767 443L755 443L742 443L730 442L717 441L704 440L692 439L680 438L672 435L667 431L665 425L665 416L667 407L670 398L675 389L683 381L689 373L695 367z" fill="#f00"/>
<path d="M277.6 364.7h0M266.1 353.9h0M241.4 344.9h0M265.9 359.9h0M282.6 356.9h0M275.8 355.9h0M275.7 365h0M277.1 362.2h0M211 366.5h0M254.1 355h0M251 352.2h0M274.3 358.3h0M274.2 355h0M274.8 360h0M281.3 359.9h0M284.9 357.4h0M258.2 356.6h0M229 346h0M267.9 358.2h0M240.2 365.2h0M280.3 359h0M279.5 362.3h0M227.1 342.2h0M284.6 357.3h0M276.2 351.7h0M280 354.2h0M273.6 355.7h0M278.7 351.6h0M273.4 353.2h0M253.4 353.3h0M271.3 354.4h0M254.4 347h0M266 350.1h0M286 357.4h0M280.2 349.1h0M279.2 350.6h0M273.5 353.3h0M262.5 344.9h0M276.9 345.2h0M255.7 339.3h0M275.5 353.5h0M267 340.9h0M280.1 352.1h0M265.8 337.3h0M283.5 350.2h0M280.7 343.6h0M275.3 344.8h0M249.6 333h0M279 344.8h0M263.4 330.7h0M275.2 346h0M286.3 347.2h0M273.1 342.5h0M268.5 345.1h0M279.9 344.5h0M281.9 346.1h0M263.8 346.2h0M273.4 336.5h0M286 342.8h0M276.2 346.9h0M254.4 333.6h0M232.2 312.6h0M277.9 339.5h0M255.2 328.2h0M256.8 334.7h0M277 340.6h0M279.4 339.7h0M242.8 326.2h0M285.2 342.9h0M285.2 339.6h0M288.9 342.7h0M278.9 335.9h0M272.1 339.4h0M288.2 337.7h0M288.8 345.7h0M289.6 336.9h0M272.7 331.6h0M240 310.1h0M291.7 337.2h0M283.5 338.8h0M282.6 332.4h0M286.7 330.5h0M273.1 317.8h0M285.5 332.8h0M290 326.7h0M292.3 333.8h0M258.5 320.7h0M291.1 323.7h0M266 322.1h0M280.6 323.5h0M286.2 328.5h0M264.7 312.5h0M281.3 327.6h0M288.2 321.9h0M231.5 316.5h0M287 327.2h0M291.1 327h0M291.4 320.9h0M290.7 323.6h0M289.4 324h0M291.3 326.4h0M290.1 320.5h0M289.8 323.5h0M280.2 313.1h0M245.4 314.3h0M275.2 307.5h0M292.8 322h0M294.4 325.6h0M292.7 315h0M283.6 314h0M294.1 320.4h0M297.5 321.3h0M276.6 304.8h0M292 313.2h0M264.5 300h0M261.6 293h0M275.3 302.8h0M272.4 299.2h0M299.8 315.3h0M292.5 311.5h0M292.5 311.5h0M297.2 311.7h0M285.3 302.4h0M288.1 316h0M250.1 283.1h0M271.7 285.4h0M297.4 308.3h0M236.9 288h0M296.6 311.5h0M297 315.1h0M294.6 313.6h0M296.8 306.8h0M270.2 286.8h0M285.8 305.3h0M304.3 308.4h0M294.3 307.7h0M291 302.9h0M298.9 304.4h0M265.6 294.9h0M285.1 298.8h0M278.5 298h0M295.5 308.1h0M299.3 309.1h0M298.1 306.2h0M307 307.3h0M299.9 298.4h0M248.6 294.2h0M292.5 287.1h0M304.5 297.5h0M303.9 308.5h0M304.8 306.5h0M292.4 297.1h0M300.6 296.4h0M280.4 293.1h0M266.3 263.2h0M287.1 286.3h0M309.5 296.6h0M296.9 285.6h0M306.9 295.8h0M291.8 280.5h0M281.9 289.1h0M287.5 285h0M305.1 293.2h0M293.6 280.3h0M303.4 280.4h0M309.9 291.5h0M279.8 264.1h0M306.6 292.2h0M313.2 295.2h0M311.4 293h0M287.1 284.3h0M311.8 284.7h0M314.7 290.7h0M308.3 288.5h0M312.1 291.1h0M289.5 265h0M306.7 282.9h0M317.1 288.7h0M310.3 284.4h0M313.4 283.2h0M311.5 285.6h0M314.3 284.1h0M315 289h0M316.6 277.9h0M295.4 276h0M302.7 269.4h0M323.5 282.7h0M310.7 280.4h0M318.9 280.1h0M308.6 278.2h0M297.5 268.2h0M306.3 287.3h0M322.3 283.7h0M315.4 277.5h0M320.3 279.7h0M322.2 283.7h0M312.5 276.8h0M313 276.8h0M316.7 277.2h0M321.5 276.2h0M318.9 275.3h0M320.7 275.8h0M312.3 282.3h0M319.7 275.4h0M323 277.1h0M313.2 270.1h0M302.9 253.8h0M303.6 261.4h0M310.7 257.7h0M320.1 274.3h0M317.8 265.9h0M330.9 270.8h0M328.4 276.8h0M324.2 270.2h0M312.1 244.5h0M293.3 230.7h0M331.5 268.2h0M331.4 268.4h0M330.2 274.3h0M324.9 260.7h0M328.4 267.3h0M333.7 273.1h0M331.2 269h0M330.2 269.7h0M332.5 263.3h0M308.5 246.1h0M330.4 257h0M326 251.6h0M330.5 268.1h0M328.9 261.9h0M326.9 258.6h0M329.7 262.2h0M322.2 255h0M334 270.6h0M333.4 264.3h0M316.2 246.9h0M324.1 245.3h0M333.5 262.3h0M333.6 257.1h0M331.5 261.3h0M334.9 267.8h0M337.4 260.3h0M333.1 257.7h0M332 263.2h0M337.8 265.8h0M335 260.4h0M326.9 250.3h0M330.3 253.9h0M330.8 265.6h0M334.4 254.2h0M340.2 257.4h0M338.6 257.8h0M339 251.3h0M340.7 256.7h0M339.7 263.2h0M338.2 256.2h0M341.3 256.4h0M344 253.5h0M340 246.6h0M341.9 259h0M339.9 257.4h0M342.5 241.8h0M348.5 257.5h0M344.5 256.9h0M336.9 241.1h0M342.7 242.1h0M341.8 239h0M335.8 239.9h0M346.8 260.3h0M344.6 261.4h0M348.9 257.2h0M350 254.1h0M353.5 255.5h0M355.9 254h0M348.4 253.6h0M334.6 226.3h0M351.9 246.6h0M349 252.7h0M334.6 208.7h0M343.8 238.7h0M353.3 249.8h0M359.9 252.8h0M359.5 251.3h0M352.8 247.7h0M355.4 248.9h0M350.4 226h0M337.8 210.1h0M348.7 241.8h0M360.7 246.9h0M343.1 227.5h0M361.5 240.7h0M362.2 246.3h0M346.6 230.3h0M366.5 243h0M368.1 248.4h0M368.8 235.1h0M364.7 242.4h0M366.8 237.6h0M367.2 240.8h0M367.7 246.7h0M366.3 240.2h0M368.3 246.6h0M353.5 235.5h0M364.5 244h0M367.3 242.7h0M372.2 242.6h0M370.4 240h0M365.8 243.1h0M368.6 241h0M368 240.2h0M373 243.2h0M371.4 236.8h0M366.8 215.8h0M370.4 239.5h0M369.5 237.8h0M348.1 220.5h0M373.3 235h0M371 212.4h0M371.1 231.6h0M375.2 228.6h0M379.6 237.8h0M373 233.4h0M379.2 219.5h0M376.4 227.2h0M381.5 235.4h0M360.3 210.5h0M382.3 230.2h0M382.7 231.1h0M388.6 234.3h0M374.3 227h0M362.8 220.2h0M347.7 181.6h0M381.4 235.4h0M382 234.4h0M384.4 221.6h0M364.4 220.5h0M381.8 225.3h0M386.3 214.7h0M382.3 220.5h0M388.5 228.3h0M390.9 231.4h0M384.8 222.3h0M382.5 224.3h0M382.2 219.7h0M390.9 233.2h0M386.7 222.4h0M380.8 208.6h0M390.8 224.8h0M383.9 213.9h0M389.6 211.8h0M392.7 205.6h0M391.3 219.1h0M396.1 216h0M389.7 223.8h0M394.8 211.4h0M398.4 209h0M385.4 209.1h0M395.6 219.9h0M400.9 217.3h0M403.6 214.2h0M401.4 217.9h0M399.9 217.8h0M403.3 216.5h0M374.4 190h0M403.9 224.3h0M398.7 216.1h0M402.6 213.5h0M405.4 222h0M410.6 218.8h0M413.8 217.2h0M415.5 217.7h0M412.6 207.9h0M410.1 210.2h0M414.9 212.5h0M410.8 216.4h0M412 207.6h0M413 212.1h0M413.7 206.5h0M411.8 196.7h0M402.4 190.6h0M422.8 214.4h0M419 206.2h0M425.9 206.6h0M418.6 215.5h0M423.6 208h0M407.9 191.7h0M420 209.5h0M417.7 171.9h0M421.5 206.3h0M426.6 207.5h0M426.4 207.4h0M422.8 200.1h0M419 203.8h0M429.7 205.2h0M422.3 203.7h0M430.8 211.1h0M421.7 195.1h0M429.3 208.9h0M429.6 204h0M430.8 202.1h0M433.7 208.7h0M425 203.1h0M425.6 201.5h0M430.1 200.4h0M424.1 192.7h0M429.2 186.4h0M422.2 186.3h0M430 193.2h0M408.8 182.4h0M420.3 167.8h0M424.4 168.5h0M440.9 201.4h0M433.9 204.9h0M419.9 181.6h0M441.6 201.9h0M442.4 198.8h0M426.4 175.3h0M441.2 192h0M433 187.1h0M421.2 182.8h0M439.1 196.9h0M442.1 198.4h0M438.3 197.9h0M439.8 198.2h0M448.2 193.4h0M454.7 199.6h0M448.4 189.6h0M455.5 197.6h0M450 174.9h0M451.3 195.4h0M455.7 200.1h0M451.2 170.1h0M454 191.4h0M456.9 197.2h0M464.2 195.8h0M461.4 191.8h0M461.3 181.1h0M452.1 172.7h0M463.7 184.2h0M456 181.2h0M459.4 181.3h0M465.9 194.7h0M467.7 191.3h0M463.5 195.6h0M472.7 195.8h0M473.5 192.7h0M471.7 189.3h0M472.2 185.1h0M477.9 187.4h0M465.1 174.9h0M473.8 188.8h0M473.9 190.9h0M471.6 179.3h0M479.9 180h0M478.4 194.1h0M478.2 182h0M477.3 183.8h0M478.9 188h0M479.6 193.7h0M476.8 191.5h0M479.7 149.8h0M467.5 119.5h0M487 165.7h0M482.5 166.1h0M480.4 191.5h0M480 180.6h0M477.2 159.5h0M483 188.8h0M475.5 157.1h0M483.8 156.7h0M488 151.7h0M487 193.4h0M486.6 192.9h0M491 183.4h0M487.6 188.4h0M492.9 179.3h0M491.3 167.7h0M483.6 185.6h0M495.6 195.2h0M491.4 187.8h0M491.2 194.6h0M493 188.7h0M494.8 190.7h0M489 192.2h0M501.5 126.2h0M495.1 183h0M492.5 187.7h0M491.9 191.1h0M497.9 188.6h0M492.9 189.4h0M501.7 153.4h0M491 141.9h0M499.2 147.5h0M496.1 187.2h0M502.9 166h0M500.1 184h0M502.5 180.2h0M496 135.7h0M504 179.1h0M500.5 183.2h0M504.8 192.8h0M507.7 171.7h0M503.8 176.9h0M502.8 188.3h0M510.8 191.5h0M517.1 118.7h0M495.2 150.6h0M503.8 171.2h0M510.2 183.5h0M509 182.6h0M512.2 188h0M509.8 185.7h0M517 129.1h0M512.1 165.6h0M505.3 170.2h0M512.1 189.7h0M512.7 188.3h0M515.2 193.3h0M502.2 171.9h0M530.2 158.7h0M512 186.9h0M515.7 186.2h0M515.7 176.3h0M515 191.3h0M513.5 142.2h0M513.5 166.7h0M517.6 188.6h0M514.4 188.6h0M517.1 183.8h0M503.2 157.4h0M521.1 197.5h0M519.4 150.5h0M521.5 177.7h0M522.5 193.7h0M524.6 194.2h0M517.4 196.2h0M519.7 192h0M530.4 172h0M520.3 191.4h0M522 197.3h0M527.9 177.2h0M530.3 189.6h0M523.4 190.6h0M532 173.8h0M540.7 168.5h0M534.7 150.4h0M524.3 189.3h0M527.7 196.7h0M526.3 165.6h0M529.7 193.6h0M526.1 192h0M530.4 193.4h0M533.8 190.3h0M545.2 166.1h0M543.5 187.7h0M524.7 198.3h0M532 201.6h0M534.3 190.6h0M542 178.5h0M535 170.5h0M543.9 187.4h0M553.2 132h0M548 161.6h0M529.3 197.1h0M541.5 192.1h0M536.5 203.7h0M540 192.5h0M541.1 193h0M545 195.3h0M542 191.4h0M549.1 192.1h0M554.3 151.9h0M554.8 154.8h0M544.3 195.1h0M545.6 180.5h0M534.8 196h0M544.4 200.9h0M546.1 192.9h0M547.1 204.7h0M542.5 202.8h0M538.6 197.2h0M561.1 162.5h0M545.4 202.1h0M539.3 202.8h0M549.8 197.7h0M545.8 206.8h0M554.5 197.9h0M549.6 199.4h0M553.3 184.6h0M590.7 155.4h0M566.7 190.7h0M554.1 201.9h0M552.2 208.3h0M554 200.3h0M569.3 180.4h0M562.1 190.5h0M564.7 186.4h0M561.7 194.1h0M557.2 178h0M557.4 211.3h0M551.1 208h0M552.9 205h0M552.9 212.5h0M557.2 205.4h0M551.8 208.4h0M559.8 203.5h0M555.5 206.8h0M553.7 206.6h0M562.6 197.9h0M554.7 211.5h0M559.9 212.2h0M558.5 208.1h0M561.4 214.8h0M554.5 209.1h0M560.7 209.2h0M558.4 211.9h0M556.5 209.8h0M567.7 202.9h0M597.7 177h0M564 214.5h0M579.2 193.2h0M568.5 215.6h0M563.1 210.9h0M568.5 211.2h0M560.5 214.3h0M563.3 215.2h0M564.2 215.2h0M563.1 215.1h0M569.1 211.4h0M562.5 213.9h0M563.2 214.7h0M567.6 215.2h0M610.6 176.5h0M578 211.8h0M567.5 215.8h0M586.2 197.1h0M590.1 194h0M573.3 210.4h0M569.4 223.9h0M586.9 200.3h0M581 213.2h0M571.7 217.1h0M570.3 216h0M571.3 213.6h0M575.3 211.4h0M566.9 222.1h0M571.7 218.5h0M574.8 212.5h0M575.7 221.8h0M571.1 224.5h0M572.6 221.7h0M577.6 218.8h0M579.2 221.2h0M577.8 225.2h0M578.3 222.7h0M578.7 235h0M586.4 221.3h0M582.6 222.5h0M590 223h0M591.4 213.7h0M581.1 227.7h0M577.9 232.1h0M602.6 204.7h0M580.4 228.8h0M577.8 232.3h0M583.2 231.4h0M591.4 223.4h0M577.3 234.7h0M582.3 234.5h0M594 232.4h0M590.6 228h0M590.3 229.5h0M614.1 197.5h0M584.7 237.8h0M585.8 240.2h0M589.4 240.8h0M586.3 234.9h0M592.2 235.3h0M587.7 242.7h0M588.8 239h0M588.6 234.8h0M590.3 243.8h0M592.5 243.9h0M594.2 243.7h0M595.4 252.2h0M605.7 237.1h0M596.9 235h0M592 250h0M597.1 242.8h0M594 245.9h0M595.8 250.9h0M590.5 244.9h0M594.4 252.6h0M605.7 248.7h0M606.9 239.6h0M598.3 248.5h0M605.5 252.3h0M599.1 252.6h0M603.6 254.6h0M604.8 249.4h0M601.2 248.9h0M610.7 239.9h0M606.6 247.7h0M598.2 249.4h0M599.6 250.8h0M609.7 250.2h0M611.4 255.4h0M606 249.3h0M609.2 248.5h0M603.3 248.3h0M606.4 254.4h0M616.1 254.7h0M606.1 257.1h0M604 260.1h0M602.9 258.8h0M609.4 256.3h0M614 256.2h0M611.7 258.8h0M606 255.9h0M610.9 262.4h0M614.3 250.6h0M610.6 259.5h0M613.3 260.4h0M613.5 262.6h0M612.6 264.5h0M609.2 265.5h0M614.1 260.2h0M608.9 265.3h0M614.4 266h0M616.2 257.4h0M636.3 251.4h0M619.6 260.6h0M645.9 232.5h0M617.3 268.3h0M616 265.9h0M616.6 270.1h0M620 261.1h0M621.6 265.9h0M617.9 273.9h0M622.4 272.7h0M617.4 272.3h0M629.6 270.8h0M629.7 267.2h0M624.7 271.5h0M632.8 281h0M630.4 276.2h0M627.9 277.4h0M627.9 280.4h0M633.3 278.3h0M633.5 275.6h0M636.2 278.1h0M631 280.9h0M639.5 279.8h0M636.7 279.8h0M636.1 281.4h0M640.5 287.9h0M633 281h0M639.2 278.4h0M639.2 286.7h0M638.4 287.2h0M643.6 286.2h0M644.6 279.9h0M637.6 285.2h0M642.6 287.1h0M646.7 282.5h0M644.4 287.8h0M643.7 292h0M642.6 283.6h0M651.8 286.9h0M647.8 284.5h0M644.9 287.9h0M647.3 286.5h0M651.6 288.5h0M649.4 293.7h0M651.1 290.1h0M656.6 295.8h0M659.3 292.3h0M655.1 296.7h0M659.3 291.5h0M663.1 299.9h0M658.8 292.7h0M661 288.5h0M669.5 301.1h0M666.1 308.7h0M672.8 303.1h0M667.5 302.1h0M673.2 308.2h0M679.4 314.5h0M677.6 312.9h0M688.4 303.8h0M709.8 337.9h0M712.1 343.6h0M730 336.9h0M719.9 353.7h0M720.2 354.6h0M710.8 357.8h0M711 357.8h0M720 358.8h0M712 360.3h0M711.8 366.3h0M716.8 366.1h0M711.9 365.2h0M714.4 369h0M724.8 370.6h0M717.7 368.9h0M714.4 367.6h0M714.2 365.1h0M722.7 370h0M715.1 370.2h0M715.8 371.8h0M718 377h0M715.3 381.4h0M715.1 377.5h0M739.4 377.5h0M749.3 379.8h0M715.5 379.9h0M728.6 382.1h0M727.2 384h0M712 381.5h0M724 386.4h0M716.1 386.9h0M719.7 387.4h0M717.4 393.7h0M713 391.3h0M715.8 384.6h0M735.1 391h0M714.7 393.2h0M729.2 400.6h0M719.4 397h0M716.8 395.8h0M715.5 399.6h0M721.3 398.1h0M716.8 397.5h0M716.5 394.1h0M719.6 399.9h0M718.5 399.2h0M719.3 399h0M716.3 407.5h0M722 409.4h0M730.3 403.3h0M721.7 405.3h0M720.3 404.8h0M719.4 406h0M715.3 405.8h0M722.5 408h0M718.5 407.7h0M720.8 407h0M731.4 422.6h0M727.6 415.1h0M720.8 418.4h0M719.9 411.7h0M717.6 413.4h0M738.8 409.6h0M734.6 418.4h0M759.8 430.4h0M709.7 420.5h0M715.5 420.7h0M723 417.2h0M714.2 428h0M718.7 419h0M721 427.5h0M712.2 426.7h0M727 428.3h0M713.5 431h0M720.3 427.9h0M709.1 424.2h0M717.2 429.1h0M712.2 429.3h0M715.9 432.4h0M715.3 431.4h0M709.1 432.1h0M710.4 429.9h0M757.7 446.5h0M732.2 445.9h0M716.6 438.8h0M726.5 441.5h0M713.2 435.4h0M714.2 439.4h0M717.6 432.7h0M715.1 429.5h0M711.4 442.2h0M717.1 430.4h0M718.5 438.3h0M746.7 458.6h0M732.8 453.6h0M720.9 440h0M706.7 438h0M704 433.7h0M708.2 430.7h0M711.5 443h0M710.3 442.9h0M743.1 456.8h0M711.5 437.2h0M708.1 444.9h0M713.6 443.8h0M707.7 443h0M724.2 470.3h0M729.4 506.6h0M705.2 442.2h0M704.2 455h0M726.5 462.5h0M709.6 450h0M742.6 477.6h0M696.1 445.3h0M696.5 441.7h0M696.7 454.7h0M708.9 453.2h0M694.2 442.6h0M695.5 447.8h0M713 472.7h0M700.3 456.1h0M694.9 449.9h0M694.3 459.5h0M689 448.8h0M689.4 452.1h0M691.2 450h0M702.6 483.8h0M694 462h0M693.4 451.3h0M687.8 445.4h0M693 459.3h0M696.4 468.3h0M683.5 453.7h0M686.3 448.7h0M683.9 454.3h0M683.6 453h0M694.2 477.6h0M685.1 452.6h0M686.1 452h0M684.9 461.8h0M682.3 453.2h0M676.8 455.5h0M691.5 469.8h0M681.5 450.6h0M680.8 449.8h0M676.7 446h0M685.1 483.7h0M679.7 477.7h0M677.7 450h0M684 452.2h0M677.7 456.1h0M672 455.4h0M670.6 448.7h0M672.8 455.4h0M677 456.1h0M673.8 455.4h0M677.6 476.5h0M675.7 459.4h0M677 467.1h0M667.9 461h0M671.3 456.8h0M672.9 452h0M670.3 452h0M669.9 459.9h0M679.2 481.3h0M671.2 459.1h0M659.1 454.1h0M665.9 475.2h0M668.6 464.9h0M671.6 453.5h0M666.7 456.2h0M660.7 465.7h0M661.7 456.7h0M667 487.9h0M665.2 456h0M661.9 455.8h0M663.2 458.3h0M666.6 461h0M671.4 481.4h0M671.6 498h0M665.1 460.8h0M660.9 460.6h0M659.2 456.9h0M658 466.9h0M663.6 463.4h0M651.9 474.3h0M649.2 482.2h0M655.5 457.1h0M660.9 490h0M685.8 491.7h0M659.7 467.1h0M649.3 468.4h0M652.8 460h0M654.9 458.6h0M657.9 470.6h0M652.1 452.2h0M651.4 468.8h0M641.2 467.7h0M645.8 456.2h0M647.7 452.6h0M640.4 459.9h0M639.8 452h0M643 474.9h0M644.2 466.9h0M645 476h0M648 481.8h0M639 457.5h0M644.3 462.3h0M645.4 480.7h0M646.5 475.1h0M637.1 452.7h0M642.4 451.8h0M634.9 482.8h0M643.4 466.1h0M650 487.1h0M652.8 469.3h0M638.4 466.6h0M636.7 496.5h0M639.8 487.4h0M638.5 457.2h0M639.7 456.1h0M622.5 493.2h0M634.2 463.3h0M632.8 456.5h0M627 482.9h0M634 453.1h0M629.7 466.7h0M627.7 471.5h0M635.4 463.6h0M633.2 468.5h0M626.8 458.6h0M626.3 452.8h0M630.3 455h0M626.8 524.5h0M628.6 493.7h0M632.8 459.7h0M626.9 462.3h0M627.8 457.1h0M626.2 468.4h0M623.9 476.2h0M623.7 469.8h0M639.7 483.4h0M628.5 460.4h0M616.2 504.8h0M623.7 457.8h0M619.8 464.2h0M641.7 487.5h0M610.6 504.5h0M619.5 504.8h0M621.9 458.2h0M622.7 458.8h0M616.9 456.6h0M621.7 463.6h0M614.9 459.3h0M623.2 472.8h0M617.2 459.6h0M622.2 458.4h0M621.6 470.9h0M618.6 460.4h0M620.9 463.2h0M627.8 507.3h0M617.9 458.2h0M614.6 465.1h0M618.8 460.4h0M624.7 474.9h0M615.7 455.1h0M613.7 473.7h0M602.3 483.4h0M609.2 467.6h0M612.6 461.3h0M611 491.9h0M606.4 461.8h0M606.8 458.9h0M605.7 489.6h0M606.5 460.5h0M605.3 455.7h0M605.9 461.5h0M597.2 459.7h0M597.3 458.1h0M593.6 467.5h0M600.2 465.1h0M597.9 472.3h0M599.2 458.8h0M587.4 476.1h0M597.1 471.4h0M594.8 464.3h0M599 456.8h0M590.8 457.8h0M599.7 460.2h0M587.4 460.5h0M593.1 462.5h0M581.1 469.8h0M587.7 471.7h0M600.3 512.3h0M602 488h0M588 460.4h0M590.2 465.6h0M586.7 461.9h0M586.5 483.3h0M587.8 469.6h0M582.5 470.1h0M575.9 490.3h0M588 464.8h0M581.1 465.3h0M583.3 461.5h0M591.1 460.1h0M593 469.8h0M588.1 459.1h0M587.4 458.4h0M583.7 478h0M585.3 488.2h0M584.2 459h0M596.9 506.1h0M585.4 459.8h0M578.9 460.3h0M582 481.2h0M577.5 488.3h0M579.3 467.4h0M581.9 461.9h0M575.1 466.2h0M576.8 459.2h0M583.3 461.9h0M575.1 468h0M581.1 475.4h0M567.3 485.3h0M572.8 481.6h0M574.2 474.2h0M574.7 498.5h0M576.5 474.8h0M584.1 486.5h0M571.2 510.5h0M564.6 459.1h0M568.8 458.3h0M565.7 470.6h0M566.6 463.3h0M570 460.2h0M562.3 460.6h0M564.9 465.2h0M570.3 466.4h0M564 470.1h0M567.8 457.1h0M567.2 458.5h0M566.9 462.9h0M570 456.4h0M562.8 461.5h0M558.1 476.9h0M564.5 459.9h0M565 459.3h0M561.4 494.3h0M563.6 479.8h0M547.8 475.4h0M557.8 460.4h0M555.1 457.5h0M556.2 459.3h0M560.4 455.7h0M554.1 454.7h0M559.6 456.2h0M551.6 479.4h0M551.5 455.6h0M550.1 461.9h0M551.2 460.1h0M554.2 509.6h0M551.1 465.9h0M550 463h0M532.5 504.2h0M546.3 466.9h0M537.7 494.6h0M543.1 471.1h0M551.2 473.1h0M553.9 484.4h0M546.7 461.9h0M543.3 470.3h0M548.1 457.3h0M542.6 463.3h0M544.6 460.1h0M546.1 461.3h0M544 461.9h0M539.2 467.4h0M547.1 455.5h0M547.2 463h0M543.1 507.2h0M540.1 470h0M544.2 468.9h0M543.6 453.8h0M544 454.9h0M537.2 455.7h0M541.1 463.6h0M543 469h0M544 472.7h0M542.5 486.2h0M541.4 459h0M538 457.7h0M538.9 461.3h0M536.2 452.2h0M539.6 482.2h0M535.2 460.4h0M541 459.3h0M535.5 456.1h0M534.4 454.6h0M540.8 481.2h0M538.6 502h0M535.4 459.5h0M534.1 461.1h0M534.4 466.5h0M531.7 455h0M534.4 457.2h0M530.8 475.5h0M533.3 476.5h0M529.9 475.4h0M531.4 461h0M531.4 459.1h0M533.4 461.5h0M532.1 462.1h0M531 479.9h0M528.5 452.8h0M528 464.4h0M524.9 455.1h0M528.3 465.3h0M522.7 470h0M525.2 472.3h0M525.5 462.1h0M525 461.6h0M525.4 461.5h0M529.2 453.4h0M531.1 459.7h0M518.2 484.8h0M526.3 468.9h0M522.6 482h0M524.7 458.9h0M524.6 478.8h0M521.8 472.9h0M524.9 473.9h0M519.8 464.9h0M520.2 456h0M519.6 483.4h0M522 461.4h0M523.8 460.2h0M509.2 493.9h0M520.1 470h0M517.9 466.2h0M515 455.3h0M523.4 452.5h0M521.3 474.1h0M518.6 455.5h0M522.8 455.4h0M526 494.6h0M513 489.4h0M513.4 460.8h0M516.4 456.3h0M517.3 459.3h0M510 456.2h0M505.9 458.5h0M514.9 458.6h0M509.3 464.5h0M514.8 467.4h0M516.8 468.5h0M511 460h0M514.7 462.6h0M512 459.6h0M510.8 459.9h0M514.7 463.3h0M512.4 458.4h0M507.5 464.4h0M514.7 482.8h0M499.5 493.7h0M507.5 477.8h0M500.9 492.9h0M507.7 463.5h0M509.6 482.1h0M508.6 464.5h0M501.1 467.3h0M500 458.4h0M505.1 455.9h0M500.6 459.6h0M499.9 452.8h0M503.4 457.6h0M495.7 483.9h0M497.5 485.2h0M504.9 467.2h0M497.3 451.7h0M500.6 464h0M501.9 459.4h0M498.1 461.6h0M503.6 468.9h0M498.1 483.1h0M496.4 467h0M499 454.8h0M488.2 481.7h0M507.1 480.9h0M498.1 456.2h0M492.9 477.3h0M496.3 467.8h0M492 509.8h0M497.9 472.2h0M496.1 470.7h0M498.1 467.6h0M498.4 456h0M491.1 451.7h0M493.4 459.1h0M491.4 453.2h0M486.8 473.3h0M489.9 456.2h0M497.5 456.8h0M492.4 460.1h0M488.1 453.9h0M485.5 458.5h0M493.7 458.2h0M494.8 459h0M509.3 498.7h0M486.4 467.9h0M480.6 456.1h0M483 470.7h0M484.9 479h0M481.1 461.9h0M483.7 474.2h0M494.5 465.1h0M479.2 463.3h0M482.1 460.7h0M477.7 477.8h0M480.6 463.4h0M484.3 456.4h0M485.9 499.9h0M474.6 456.3h0M477.3 459.5h0M472.4 478.7h0M468.8 485.9h0M474.9 464.7h0M473.6 484.2h0M474.9 473.1h0M477 468.3h0M473.8 454.9h0M472.5 460.4h0M470.6 452.5h0M465.7 486.1h0M480.3 510.8h0M480.2 476.2h0M472 452.9h0M462 498.3h0M475 468.1h0M464.7 460.3h0M464.7 462h0M464.2 460.7h0M471.8 462.8h0M464.3 521.2h0M473.3 470.5h0M468 467.4h0M459.8 469.2h0M458 486.1h0M462.6 460.5h0M464.3 488.1h0M463 459.8h0M459.9 464.5h0M461.7 462.8h0M455.1 470.5h0M478.2 524.7h0M489.2 517.7h0M472.5 485.8h0M457.5 458.8h0M457.8 473h0M460 493.6h0M468.4 490h0M459.9 484.1h0M469 500.2h0M460.1 474.3h0M451.1 456.2h0M450.2 461.9h0M449.4 472.9h0M449.2 465.4h0M449.6 472.3h0M449.4 464.8h0M485.1 489h0M453 487.6h0M441.7 459.8h0M450.8 462.5h0M449.4 465h0M454.8 463.9h0M457.9 493.7h0M449.7 470.5h0M442.1 461.7h0M452.9 497.8h0M444.6 466h0M439.5 471.3h0M439.6 459.7h0M439.7 459.4h0M453.5 498.1h0M438.3 465.1h0M465.1 495h0M441.8 466.5h0M438.4 459.1h0M454.2 496.3h0M447.3 492.2h0M436.6 467.1h0M431.3 465h0M438 470h0M435.6 468.5h0M443.6 469.3h0M434.2 473.7h0M440.6 474h0M432.7 470.4h0M457.5 504.1h0M433.5 468.4h0M429.8 469.2h0M432 471.6h0M436.3 479.6h0M454.3 493.2h0M428.8 471.5h0M441.6 530.5h0M428.9 477.5h0M426.6 471.7h0M427.2 468.1h0M435.1 466.3h0M439.4 466.7h0M433.6 472.5h0M435.3 479.6h0M427.5 469.7h0M424.7 469.9h0M429.3 469.4h0M451.1 504.7h0M426.2 480.5h0M422.6 471.4h0M429.7 479.6h0M429 492.1h0M428.5 483.5h0M423.3 477.5h0M415.3 475.2h0M421.3 474.2h0M424.3 482.8h0M425.7 476.3h0M444.9 533h0M416.8 478.2h0M425.5 497.8h0M423 482.5h0M415.1 476.6h0M417.1 478.5h0M425 469.4h0M418.6 474.5h0M423.4 490.6h0M432.1 501.8h0M418.2 475.9h0M415.1 474.1h0M424.3 512.1h0M413.6 473.8h0M428.9 504.7h0M409.3 493.7h0M425.7 523.7h0M410.5 486.3h0M414.3 490.2h0M403.6 481.2h0M404.8 478.8h0M405.5 493.4h0M404.8 483.7h0M403 480.3h0M412.2 507h0M400.2 478.6h0M407 492.5h0M402.5 483.5h0M401.5 485.3h0M402.8 496.7h0M403.9 488.8h0M409.2 513.5h0M395.8 480.8h0M402.3 483.5h0M400.9 485.7h0M405.6 488.8h0M397.6 484.7h0M405.2 513.7h0M398.1 480h0M396.2 477.8h0M398.9 487.8h0M402.1 488.7h0M393.4 481h0M398.9 483.9h0M406.3 494.7h0M408 490.1h0M420.1 534.5h0M393.4 483.2h0M398.1 492.9h0M403.8 500.6h0M407.3 505.1h0M410 505.4h0M391.2 492h0M391.7 489.7h0M407.7 509.9h0M400 488.3h0M384.9 488.6h0M415.1 502.4h0M384.9 488.5h0M390.6 492.4h0M390 494.6h0M390.4 484.7h0M388.9 493.8h0M387.3 490.8h0M390.9 493.7h0M392.2 491.9h0M414.3 513.9h0M390.2 499.2h0M390.6 492.8h0M389.9 497.3h0M394.8 490.9h0M386.9 494.7h0M390.8 501.6h0M383.6 490h0M385.5 497.1h0M386.8 501.6h0M387 503.7h0M379.8 495.7h0M380.4 497.4h0M387.1 497.6h0M387.5 504.4h0M381.9 498.1h0M378.2 497.2h0M397.2 531.7h0M393.4 507.7h0M383.5 505.6h0M378.3 498.8h0M382.8 501.8h0M373 495.9h0M389.4 520.8h0M370.8 506.9h0M372.7 499.7h0M369.5 495.8h0M375.6 502.1h0M370.8 503.9h0M377.9 512.9h0M365.8 506.9h0M370.5 496.4h0M372.8 508.6h0M367.4 501.9h0M372.2 514.3h0M370.7 503.1h0M362.3 512.1h0M378.7 520.8h0M371.2 522.9h0M366.3 512.8h0M367.3 503.1h0M373.3 512.5h0M370.8 517.5h0M364.6 512h0M365.1 505.3h0M369.9 504.4h0M361.8 514h0M357.5 505.9h0M363 505.3h0M363.8 511h0M356.7 516.5h0M359.8 505.3h0M354.1 514.7h0M350.9 510.2h0M356.3 519.6h0M360.2 504.7h0M357.1 524.5h0M351.1 506.3h0M357.9 519.6h0M356.1 504.2h0M348.1 505.7h0M345.9 520.2h0M355.1 531.8h0M344.2 508.8h0M344 508.1h0M346.6 512.2h0M343.9 515h0M344.1 520.9h0M341.7 505.9h0M349 516.6h0M339.7 514.3h0M342.3 512.3h0M343.1 511.5h0M340.4 510.6h0M339.5 518.7h0M333.3 510.4h0M335.8 513.4h0M339 513.9h0M341.2 510.8h0M333.8 510h0M340.7 510.9h0M343 511.5h0M333.8 513.3h0M334.3 531h0M332.3 513.1h0M327.8 516h0M327.5 508.4h0M332.4 509.4h0M332.1 515.2h0M325.8 513.5h0M319.7 530.7h0M327.9 509.1h0M324.9 518.2h0M326 510.9h0M317.4 525.2h0M324.4 523.7h0M318.2 514.4h0M318.5 512.9h0M326.1 509.4h0M320.9 506.6h0M315.9 519.5h0M321.8 509.4h0M320.6 508.3h0M318 512h0M322.1 509.4h0M317.9 510.7h0M319.5 506.4h0M315.6 514.1h0M309.8 518.8h0M314.5 521.6h0M317.1 507.2h0M317.8 509.7h0M320 506.3h0M319.2 503.1h0M315.1 515h0M317.9 504.5h0M312.1 509.2h0M318.5 508.3h0M315 503.8h0M310.4 508.9h0M316.2 508.2h0M317.3 510.1h0M308.6 519.1h0M314.6 515.6h0M307 512.7h0M317.7 502.6h0M313.3 500h0M314.6 505.8h0M306.4 512.2h0M308.7 508.1h0M289.6 524.4h0M310.3 501.7h0M305.9 502.8h0M304.6 507.8h0M307.3 507.5h0M299.6 499.8h0M309.9 502.8h0M291.1 522.3h0M304.6 497.9h0M308.3 497.6h0M304.8 499.1h0M304.1 497.8h0M311.6 497.8h0M305.4 495.6h0M313.9 497.7h0M300.8 505.9h0M287.3 518h0M296.9 511.6h0M296.2 500.6h0M300.7 500.3h0M307.6 492.9h0M299.9 489.8h0M303.3 498.4h0M302.2 494.9h0M302.3 494.6h0M278.8 501.4h0M300.9 489.5h0M303.8 496.6h0M284.4 502.7h0M287.6 500.1h0M306.5 487.1h0M242.3 516.4h0M303.5 490.4h0M302.5 492.7h0M295.6 490.3h0M306.9 480.7h0M302.6 480.9h0M262.9 493.1h0M275 494.3h0M299.5 490.6h0M300.8 488.6h0M298.8 488.5h0M299 488.7h0M274.5 499.2h0M268.4 484.8h0M299.9 481.2h0M295.6 486.5h0M295.8 487.7h0M286.6 486.2h0M290.2 501.3h0M272 497.3h0M295.7 480.6h0M284.8 480.5h0M298.1 477.4h0M300.5 478.2h0M296.4 479.5h0M298.9 484.7h0M296.3 481.6h0M302.6 478.6h0M295.7 475.7h0M295.4 477.7h0M274.9 475.4h0M288.8 479.4h0M276 480.9h0M292.2 477h0M269.3 495.2h0M285.7 485h0M246.1 495.7h0M299.9 470.3h0M277.4 480.3h0M296.1 476.4h0M286.3 476.4h0M292.3 467.8h0M295.1 472.3h0M292.9 468.3h0M291.8 465.6h0M258.8 483.8h0M276.8 467h0M256.4 472.8h0M258.7 477h0M286.1 471.1h0M290.5 467h0M295.9 469.3h0M286.1 470.4h0M273.6 467.8h0M288.6 471.1h0M290.7 462.9h0M295.2 461.3h0M286.5 468.6h0M281.5 467.6h0M289.6 460.1h0M290.2 463.4h0M299.8 463.9h0M286.8 471.3h0M292.7 459.8h0M292.5 456.9h0M286.5 457h0M254.8 474.3h0M282 464.9h0M295.2 463h0M281.8 450.7h0M295.1 456.3h0M284.5 459.3h0M289.6 455.9h0M286.7 457.4h0M295.9 458.7h0M278 456.2h0M273.7 461.3h0M282.8 454.9h0M292.3 452.5h0M288.9 452h0M287.8 454.3h0M290.5 453.2h0M279.6 451.4h0M277.1 454.5h0M294.3 448.7h0M285.5 452.4h0M283 452.8h0M255.1 469.4h0M286.5 459.1h0M290.3 448.8h0M272.3 455.6h0M284.9 445.4h0M264.6 461.5h0M273.8 451.3h0M295.5 450.6h0M291.8 444.1h0M287.6 444.3h0M290.3 437.2h0M285.6 446.1h0M291.3 442h0M292.9 442.2h0M271.4 439h0M287.2 446.3h0M265.3 445.9h0M282.6 441.8h0M249.7 465.2h0M261.1 444.9h0M264.7 450.7h0M263.2 438.9h0M284.2 437.9h0M283 436.8h0M257 449h0M288.3 440.8h0M285 439.5h0M280.8 441.5h0M255.6 445.8h0M250.6 433.9h0M254.3 433.1h0M280.4 438h0M266.9 446.8h0M241.3 429.2h0M281.2 443.1h0M280.8 437.6h0M285.4 436.3h0M285.7 438h0M283.1 440.5h0M279.7 428.4h0M287 433.4h0M287.4 426.2h0M285.3 432.5h0M278.5 432.5h0M282.2 433.3h0M282.7 432.6h0M282.9 431.9h0M277.6 433.7h0M279.5 425.5h0M283.1 429.4h0M280.1 433.3h0M287.6 433.9h0M288.3 427.5h0M267.1 436.3h0M281 430.7h0M256.3 428.8h0M267.8 428.4h0M224.7 456h0M279.5 430.4h0M268 432.2h0M249.9 437h0M284.2 419.1h0M283.5 422.5h0M279.1 420.8h0M272.4 423.2h0M264.3 429h0M259.1 439h0M254.1 431.5h0M281.8 418.1h0M287.9 421.7h0M282.7 424.9h0M271.7 424.7h0M268 416.8h0M239.8 441.4h0M278.3 425.4h0M275.7 418.1h0M284.1 421.2h0M280.9 418.1h0M275.9 419.6h0M242.2 435.3h0M271.9 421.5h0M254.7 419h0M265.3 424.9h0M235.1 428.6h0M279.8 413.9h0M236.9 421h0M279.3 422.7h0M268.2 417.6h0M270.4 419.6h0M244.6 436h0M273.1 421.6h0M281.5 417.2h0M240.8 427.6h0M280.1 410.7h0M283 409.8h0M281.4 411.9h0M273.4 416.8h0M279.8 414.1h0M283.5 408.8h0M250.2 408.8h0M270.1 406.3h0M278.5 407.8h0M279.7 412.6h0M264.7 417.1h0M271.2 405.1h0M262.4 404h0M269.2 405.9h0M276.2 403.5h0M280.5 401.9h0M242.8 421.4h0M267.2 416h0M281.6 398.7h0M259.5 421h0M252.4 399h0M263.6 418h0M282.9 409.1h0M238.7 403.6h0M261.6 398.9h0M266.5 405.5h0M238.3 422.1h0M250.1 399.7h0M250.8 410.4h0M241.8 412.5h0M275 393.2h0M272.4 395.6h0M273.9 400.8h0M274.1 402.3h0M228.3 408.6h0M266.8 398.1h0M230.3 408.5h0M277.1 395.2h0M243.8 424.8h0M245.8 411.1h0M256.6 398.1h0M273 390.8h0M249.9 407.4h0M280.1 391.8h0M261.9 398.2h0M251.8 396.5h0M235.4 383.6h0M276.7 389.4h0M239.1 405.6h0M244.6 386.9h0M259.6 392.3h0M277.5 384.7h0M268.8 389.4h0M272.5 386.5h0M244.9 387.1h0M223.6 403h0M277.5 386.4h0M279.7 386.8h0M264.1 399.5h0M265 385h0M264.4 386.5h0M280.7 381.1h0M252.2 373.8h0M218.7 362.3h0M260.5 376.6h0M268.7 383.5h0M256.6 378.9h0M254.7 374.7h0M273.8 382.7h0M274.3 381.4h0M271.6 374.2h0M253.3 379.5h0M250.3 377.6h0M277 374h0M272.6 384.9h0M279.3 380.3h0M255.1 377.4h0M278.1 369.2h0M246.6 371.6h0M251.4 380.7h0M248.5 361h0M271.8 375.1h0M256.7 374.5h0M253.8 370.7h0M252.9 358.6h0M264 368.1h0M222.3 358.3h0M252.1 379.9h0M250 376.3h0M264 377.3h0M282 368.3h0M276.4 377h0M261.2 368.6h0M225.8 350h0M259.1 363.4h0M271.4 367.9h0M276.7 366.6h0M275.5 362.4h0M217.4 360.3h0M280.5 368.2h0M230.6 365.6h0M259.6 364.8h0M259 362.2h0M691.9 349.9h0M702.1 363.6h0M703.3 357.7h0M702.7 355.7h0M701.1 354h0M701.9 356.6h0M700.6 350.5h0M695 341.6h0M704.4 354.5h0M694.5 333.6h0M709.2 356h0M707.4 357.9h0M706.1 340.9h0M715.1 345.4h0M715.2 350.4h0M716.9 350.2h0M715.1 353.8h0M714.8 345.3h0M715.6 347.2h0M711.4 319.1h0M726.4 345.9h0M727.8 349.2h0M714.4 335.1h0M729.2 344.7h0M724 342.6h0M729.6 346.6h0M725.5 344.1h0M721.8 335.2h0M719.1 334.6h0M726 342h0M724.3 342.2h0M731.8 344.4h0M732.8 339.1h0M728.1 343.6h0M715.6 321.3h0M723.2 335.1h0M730.7 343.7h0M729.6 337.3h0M710.6 321h0M733.6 344h0M730.8 336.6h0M730.2 334.3h0M727.5 304.9h0M734.5 345.5h0M738.6 337.3h0M734.8 332.3h0M737.7 335.8h0M730.8 334.3h0M744.4 338h0M735.4 330h0M735.9 336.4h0M741.7 337.8h0M744.1 332.9h0M740.9 344.7h0M731.6 310.7h0M733.1 291.2h0M738.4 329.4h0M738.3 327.5h0M745 338.1h0M740.5 338.3h0M736.7 324.5h0M741.6 330.4h0M747.2 334.9h0M752.2 332.3h0M748.1 332.9h0M746.9 329.1h0M753.6 331.5h0M748.7 330.7h0M748.5 324.7h0M754.2 335.5h0M753.8 333.7h0M751.8 330.7h0M746.9 322.4h0M749.9 323.8h0M751.5 331.8h0M751.6 331.1h0M753.7 320.3h0M755.2 331.6h0M759.3 331.1h0M753.9 334.1h0M754.9 329.7h0M758.6 336.1h0M756.1 326h0M757.6 328.3h0M754.6 330.3h0M758.3 336.9h0M735.5 305.2h0M765 325.4h0M761.1 326.8h0M757.1 321.4h0M763.6 331.9h0M759 326.8h0M760.9 322.3h0M753.4 318.9h0M750.7 317.2h0M766.1 332.2h0M761.2 327.8h0M766.7 319.6h0M762.9 329.3h0M763.9 329.4h0M762.4 333.9h0M764.2 327.5h0M766.1 330.2h0M767.5 322.6h0M758.2 324h0M771.1 330.5h0M765.3 321.5h0M769.1 332.3h0M762.8 315.3h0M767.2 317.9h0M757.7 315.2h0M768.9 320.3h0M770.7 327.5h0M769.9 325.7h0M772 321.1h0M775.4 328.6h0M768 324.9h0M750 280.6h0M775.2 328.5h0M773 328.8h0M771.8 317.3h0M777.1 318.6h0M773.7 328.8h0M775.9 320.5h0M772.6 310.6h0M767.4 310.2h0M784 318.6h0M776.5 298h0M790.6 322.3h0M783.6 313.4h0M789.1 314.4h0M783.3 309.9h0M777 296.3h0M788.6 321.6h0M782.2 315.3h0M786 320.7h0M789.2 313h0M778 291.8h0M786.2 322.6h0M787.5 321.1h0M790.6 323.7h0M785.1 298.3h0M787.4 314.5h0M795.5 319.8h0M788.6 315.2h0M786.9 312.2h0M791.7 320.3h0M798.1 318.7h0M793.1 304.7h0M795.9 311.4h0M785.1 299.1h0M786.6 310.6h0M794.8 322.3h0M794.1 317.8h0M790.2 308.8h0M795.7 307.1h0M785.8 306.5h0M800.2 316.6h0M798.5 319.2h0M793.6 316.5h0M791.5 304.3h0M803.8 314.1h0M798.5 316.6h0M803.2 313h0M799.8 312.5h0M778.7 285.6h0M794.1 301.7h0M797.3 294.1h0M801.1 306.9h0M801.2 312.3h0M786.4 287.4h0M805.2 312.2h0M803.4 312.9h0M800.8 289.7h0M790.4 293.8h0M812 311.4h0M775.9 277.8h0M809.3 314.4h0M808.8 315.5h0M794.3 285.3h0M809.6 294.9h0M811 310h0M814.1 312.7h0M813.8 303.4h0M811.2 313.6h0M809.9 304.9h0M809.4 297.5h0M808.7 300.9h0M817.8 310.2h0M818.6 306.2h0M806.9 282.8h0M815.4 307h0M818 300.3h0M797.8 269.1h0M818 304.5h0M809.7 307.7h0M816.2 305.7h0M820.3 312.3h0M822.8 308.2h0M823.6 309.3h0M824.3 302.3h0M818.9 298.8h0M812.7 256.3h0M822.9 302.8h0M825.6 301.4h0M825.3 304.4h0M822.6 279.6h0M825.4 298.4h0M807.8 241.1h0M826.3 301.9h0M824.8 291.4h0M814.3 262.4h0M830.2 306h0M831.3 306.2h0M816.9 301.5h0M821 289h0M827 287.6h0M830.8 276.2h0M828.7 291.1h0M827.9 300.5h0M829.2 291.7h0M832.4 304h0M832.6 298.9h0M830.7 298h0M832.8 300.5h0M835.4 306.9h0M835.2 307.4h0M834.2 300.2h0M832.3 303.9h0M816.7 261.7h0M830.3 239.8h0M838.3 290.6h0M833.1 295.6h0M833.6 295.5h0M835.2 300.4h0M835.4 303.4h0M838.3 297.5h0M846.1 299.1h0M837.3 294.7h0M833.9 272.8h0M840.3 232.7h0M842 290.7h0M848 298.7h0M846.8 299.7h0M850.3 301.3h0M847.6 295.6h0M847.2 294.7h0M844.4 271.8h0M842.2 247.9h0M848.3 302.6h0M848.4 299.4h0M841.6 280.8h0M849.6 288.6h0M857.2 297.3h0M844.8 281.3h0M850.3 296.9h0M852.9 285.7h0M848.8 268.7h0M850.7 291.6h0M857.3 286.7h0M852.5 302h0M859.9 291.1h0M847.7 288.6h0M859.1 291.7h0M838.5 251.8h0M856.5 264.8h0M824.4 243.2h0M858.3 290.9h0M859.2 252.2h0M843.3 280.7h0M846.6 265.7h0M844.2 266h0M859.6 294.3h0M856.4 286h0M858.8 285.7h0M854.4 254h0M857.1 290h0M858.4 291.5h0M863.8 293h0M869.3 286.4h0M864.3 287h0M863 290.5h0M865 287.4h0M861.9 279.4h0M865 290.7h0M850.1 251.2h0M871.4 294.1h0M871.6 293.4h0M864.4 294.1h0M866.6 289.7h0M864.8 280.7h0M860.4 249.6h0M866.4 254.5h0M814.3 193h0M858.3 265h0M868.5 281.5h0M871.8 294.9h0M872.4 294h0M857.7 266.2h0M865.5 259.6h0M875.2 288.5h0M849.1 250.3h0M875.1 290.7h0M874 283.1h0M872.8 280.6h0M873.3 283.6h0M865.9 262.3h0M874.9 289.9h0M874.3 291.3h0M853.4 215.9h0M870.7 278.6h0M881.8 252.2h0M874 281.1h0M879.7 283.5h0M880.7 283h0M865.7 236h0M867.6 275.2h0M864.3 247.5h0M883.9 290.3h0M855.9 258.5h0M870.9 257.6h0M880.8 273.6h0M881.9 284.5h0M869.3 266.7h0M878.3 266.7h0M874.5 283.2h0M884.9 273.5h0M881.7 285.3h0M885.3 287.5h0M882.9 289.3h0M875.5 207.7h0M882.4 265.5h0M888.5 287.6h0M884.1 281.7h0M874.5 248.6h0M899.3 228.9h0M881 284.8h0M865.5 244.1h0M886.5 284.1h0M889.9 287h0M893.5 283.8h0M893.4 277.8h0M886.5 259.3h0M878.8 257.2h0M886.6 282.2h0M886.5 276h0M888.1 278.8h0M886.6 241.5h0M892.6 281.5h0M892.9 273.4h0M889.5 281.5h0M891.3 281.7h0M892.6 286.8h0M893.5 283.9h0M886.7 250.7h0M894.4 283.2h0M892.3 278.4h0M894.2 219.8h0M898.6 248.1h0M898.2 236.7h0M893.2 257.3h0M898.7 277.7h0M900 285.4h0M898.4 271.9h0M906.7 248.2h0M898.4 252.7h0M897.1 265.7h0M887 248.5h0M907.7 235.3h0M893.7 229.6h0M902.3 283h0M905.7 274.7h0M905 279.7h0M909.5 241.5h0M902.8 278.7h0M894.1 231.8h0M901 283.1h0M904.8 280.6h0M904.7 280h0M905.6 285.7h0M912.1 263.6h0M893.5 209.8h0M903.7 260.5h0M907.1 280.7h0M900.4 238.4h0M909.5 266.3h0M910.5 280h0M904.7 284.7h0M911.3 277.3h0M913.9 217.1h0M910 277.2h0M906.4 263.3h0M913.2 203h0M904.2 234.1h0M909.8 278.5h0M908.5 257.7h0M925.9 278.2h0M916.6 271.4h0M914.9 282.5h0M912.5 268.8h0M915.2 283.8h0M916 277.1h0M924.3 202.8h0M919 271.4h0M919.3 273.3h0M922.6 255.8h0M911.2 281.4h0M920.2 272.8h0M931.1 249.4h0M921.1 280.7h0M918.4 278.9h0M918.5 273h0M913.3 235.3h0M916.1 254.9h0M915.4 258.2h0M926.7 278.1h0M924.7 283.2h0M921.8 270.9h0M940.4 232.2h0M928.3 229.8h0M926.8 282.6h0M928.2 274.1h0M939.6 233.1h0M932.6 248.2h0M924.6 275.4h0M930.4 281.3h0M933 255.7h0M928.5 279.4h0M955.8 186h0M929.4 283.2h0M934.2 278.2h0M935.3 285.2h0M933.8 252h0M935.2 279.2h0M942.3 242.7h0M949.5 226.2h0M941.3 276.5h0M934.7 243h0M948.5 256.5h0M955.1 261h0M935.3 283.8h0M933.1 287.1h0M932.5 281h0M972.7 231.9h0M935.6 266.6h0M954.4 264.5h0M942.3 227.2h0M932.1 250.1h0M928.2 283.9h0M937 278.5h0M943.5 270.5h0M958.5 215.7h0M940.1 277.8h0M940.2 273.7h0M946.8 273.7h0M937.8 281.7h0M937 286h0M939.1 286.4h0M939 286.1h0M944.5 284.7h0M989 204.7h0M953.7 267.3h0M940.7 287h0M945.4 273.1h0M946.6 266h0M946.6 281.3h0M956.5 216.6h0M988.2 213.3h0M952.3 260h0M940 257.2h0M955.4 277.2h0M944.8 282h0M973.4 234.4h0M961.6 263.3h0M945 294.7h0M944.8 279h0M942.4 291h0M947.7 286.4h0M946.7 288.2h0M951.6 261.3h0M956.8 274.1h0M987.2 235.4h0M954.3 270.5h0M977.1 252.7h0M987.5 253.7h0M952.7 266.5h0M947.6 289h0M945.3 292.5h0M981.2 251.7h0M951.3 294.6h0M951.1 292.9h0M964.2 285.4h0M962.7 269.6h0M950.9 283.5h0M953.2 294h0M951.1 290.3h0M986.1 277.2h0M972.6 277.4h0M968.3 278.5h0M1054.2 191.5h0M966.5 283.8h0M961.4 290.5h0M953.6 295h0M954.8 291.3h0M955.2 275.5h0M967.3 281.9h0M1005.8 249.8h0M975.5 276.4h0M954.9 298h0M976.9 285h0M970.4 284.8h0M975.7 269h0M964.3 286.5h0M997.3 266.2h0M965.7 293.5h0M957.6 296.1h0M957.8 295.2h0M960.8 297.8h0M960.3 301.4h0M962.7 301.5h0M959.9 301.6h0M967.9 294.9h0M971 284.8h0M964.2 289.2h0M959.6 299.2h0M961.1 301h0M985 275.8h0M964.6 305h0M976.5 294.1h0M976.7 277.8h0M1008 260.5h0M964.9 304.6h0M964.6 302.4h0M968.2 293.2h0M968.9 293.6h0M1050.8 263.9h0M972.8 294.8h0M1009.4 278.3h0M1019.2 223h0M982 276.3h0M966.2 302.3h0M959.6 305.6h0M1009.6 286.9h0M991.5 291.2h0M977.4 299.6h0M967.7 309.3h0M965 311.8h0M972.8 296.4h0M969.9 310h0M967.7 307.4h0M1029.1 258.6h0M979.6 301.8h0M970.8 307.3h0M985.9 297.1h0M986.7 307.6h0M984.1 301.9h0M987.8 286.2h0M992.5 306.2h0M1013.4 284.5h0M973.6 308.8h0M969.7 313.6h0M1014.4 282.6h0M975 313.1h0M1038.6 287.4h0M972.5 318.5h0M964.9 314.8h0M974.4 318.1h0M968.5 321.4h0M1029 281.1h0M985.6 301.5h0M1026 274.5h0M998.8 302.9h0M970.8 319.2h0M978.6 315.9h0M1009.7 280.7h0M989.6 313.9h0M969.8 322.5h0M975 324.6h0M979.5 317.7h0M971.2 322h0M1014.6 302.5h0M1042.2 272.4h0M975.8 323.3h0M976 322.2h0M1001.6 305.8h0M1027.8 296h0M981.6 322.7h0M1042.6 315.3h0M1008.7 289.6h0M991.7 320.5h0M996.2 305.3h0M974.4 321.2h0M1000.5 318h0M1066.5 275.3h0M983.3 330.7h0M981.8 321.2h0M999.2 321.4h0M986.1 325.8h0M987.5 321.4h0M983.9 327.8h0M983.8 330.6h0M974.7 333.5h0M979.4 322.5h0M970.3 327.2h0M987.4 325.2h0M980.3 330.9h0M981.4 333.2h0M985.7 330.8h0M980.9 341.8h0M981.6 340.4h0M987.6 337.4h0M1004 321.2h0M999.5 321.9h0M990.3 326h0M978.6 337.4h0M996 331.9h0M985.5 337.6h0M1021 316.5h0M984.7 341.7h0M996.7 339.7h0M988.2 335.6h0M983.9 345.9h0M995.5 340.4h0M1007.6 348.2h0M996.6 342.3h0M986.4 341.4h0M984.4 351.2h0M988.7 345.3h0M986.9 352.3h0M987.9 345.6h0M1009.1 349.9h0M1001.9 342.7h0M995.2 347.6h0M988.2 355.6h0M993.8 353.5h0M995.3 351.9h0M984.4 351.3h0M995 354.7h0M988.1 352.8h0M1019.8 355.2h0M1008.4 361.4h0M992 361.2h0M988 356.6h0M988 357.2h0M1013.1 363.8h0M983.1 362.1h0M1038.9 368.1h0M986 362h0M986.4 365.4h0M992 363.4h0M983 364.6h0M985.4 364h0M986 362.5h0M980.2 360.7h0M993.3 376.6h0M999.3 384.1h0M973.3 371.5h0M977.9 375.1h0M971.7 370.9h0M975.5 374h0M981.1 380.9h0M967.1 372.9h0M1006.7 416.6h0M980.3 378.3h0M982.4 378.6h0M981.6 390.2h0M969.9 381.1h0M970.9 378h0M973.4 382.8h0M970.8 373.4h0M971.4 372.5h0M967.2 383.7h0M978.3 381.7h0M965.7 378.7h0M977.2 387.5h0M973 379.7h0M971.5 384h0M968.8 385.3h0M970.8 383.4h0M963.5 382.5h0M968.7 379.8h0M969.4 387.1h0M981.9 390h0M969.3 381.1h0M966.5 391.6h0M973.7 383.3h0M963 385.4h0M967.9 391.3h0M962.2 384.9h0M956.4 382.9h0M962 381h0M965.7 383.3h0M957.1 384.3h0M962.1 383.7h0M958.2 391.8h0M961.8 389.8h0M975.3 393.7h0M964.4 396.5h0M955 390.2h0M957.7 386.5h0M960.3 401.4h0M950.5 390.1h0M957.7 393h0M949.6 390.4h0M952.7 392.2h0M957.1 392.5h0M949.3 389.2h0M955.9 394.2h0M950 392.1h0M954.5 394.4h0M955.7 406.5h0M947.6 398.5h0M948.5 398.4h0M948.4 406.2h0M946.8 399.2h0M945.1 401.1h0M945.9 402.9h0M949.4 403.6h0M942.6 404.7h0M944.2 410.4h0M948.7 416.9h0M938.7 399.2h0M939 397.1h0M952.3 416.3h0M938.8 396.7h0M936.1 403.2h0M941.2 402.4h0M938.7 399.2h0M934.7 404.6h0M934.5 397.8h0M939.2 409.1h0M937 400.9h0M930.8 406.1h0M934.1 397.2h0M933.2 397.4h0M932 405.9h0M935.9 401.7h0M934 397.9h0M936 399.7h0M935.1 402.8h0M938.3 411.9h0M935.2 406.8h0M931.2 405.8h0M927.3 403.6h0M929.2 404h0M929.9 404.1h0M932.2 402.8h0M932.9 406.7h0M929.3 402.3h0M929.9 407.1h0M926.5 402.2h0M928.3 401.8h0M922.8 403.5h0M928.4 412.4h0M922.4 411.2h0M919.8 406.7h0M920.7 408.8h0M925.1 406h0M929.6 405.9h0M924.3 399.5h0M919.7 405.6h0M922 404.7h0M920.1 408.2h0M921.8 418.8h0M910.7 402.7h0M913.5 407.4h0M921.6 422.7h0M910.6 405.8h0M918.3 430.3h0M910.5 411.1h0M905.7 409.6h0M905.1 409.3h0M904.1 412.6h0M913 433.6h0M899.7 407.8h0M901.1 411.8h0M907.1 424.5h0M913.1 425.1h0M909.4 424.1h0M904.8 436.1h0M900.7 411.1h0M905.2 410.8h0M901.1 409.3h0M908.2 423.5h0M906.2 410.2h0M903.3 411.1h0M905.5 409.8h0M904.7 409.7h0M899 417.9h0M900.8 413.1h0M896 414.3h0M897.6 411.1h0M900.2 415.1h0M894.3 412.6h0M896.5 417.1h0M895.5 419.4h0M896.8 415.2h0M891.1 417.6h0M895 421.8h0M907.1 421.7h0M891.8 415.3h0M890.3 411.1h0M896.2 426h0M895.2 410.4h0M885.7 413.1h0M891.1 422.5h0M888.7 426.2h0M890.2 416.1h0M893.1 415h0M889.2 414.7h0M892 427.8h0M884.6 418.6h0M889.7 418.5h0M894.1 428.7h0M883.9 422.6h0M885.5 420.4h0M889.2 426.3h0M896.4 434.6h0M876.2 419.2h0M878.6 418.1h0M887.1 423.8h0M882.3 423.2h0M881.3 419.4h0M887 427.1h0M880.1 424.8h0M893.1 427.2h0M882.2 427.7h0M880.2 425.5h0M882.8 419.5h0M885.4 424.4h0M878.9 424.4h0M872.3 428.6h0M874.5 424.9h0M871 418.4h0M877.8 426.5h0M876.5 431h0M876.5 424.9h0M871.2 419h0M869.9 431.4h0M872.3 428.3h0M872.4 426.3h0M868.4 424.4h0M871.1 429.6h0M864 424.3h0M871.5 436.9h0M858.7 424.2h0M866.4 429.6h0M868 427.2h0M861.6 427.4h0M866.7 428.4h0M860.3 426.6h0M863.9 430.8h0M865.3 438.6h0M862.4 444.6h0M867.2 436.4h0M859.2 422.7h0M854.2 428.9h0M864.9 437.1h0M858.1 435h0M855.6 429.2h0M856.1 429h0M861.9 438.9h0M853.3 433h0M855.4 447.4h0M859.8 434.4h0M852.8 426.9h0M858.8 428.9h0M852.4 457.8h0M855.3 434.4h0M855.6 439.8h0M850.4 427.6h0M852 443.8h0M852.1 431.1h0M859.1 439.1h0M852.3 436.3h0M847.8 440.4h0M851.1 432.6h0M847.9 439.9h0M848.6 435.5h0M849.5 435.1h0M842.1 434.6h0M843.4 439.3h0M842.6 432.5h0M842.4 439.6h0M844.2 444h0M843.4 435.8h0M833.8 433.6h0M841.5 434.2h0M839.8 438.7h0M842.2 432.2h0M843.6 434h0M838.5 445.8h0M837.1 438h0M831.2 439.9h0M836 451.1h0M831.5 442.2h0M837.7 438.2h0M829.8 442.8h0M833.5 441.6h0M829.2 450.2h0M827.3 436.6h0M831.4 432.8h0M831.7 434.8h0M826.2 439.9h0M823.7 438.7h0M822.7 437.9h0M823.2 441.6h0M824 443.1h0M828.7 462.7h0M843.1 466.7h0M817.8 436.3h0M824.2 443.1h0M830.1 441.5h0M826.4 445h0M817.2 439.2h0M817.9 442.3h0M823.9 437.9h0M816.2 438.7h0M824.4 446.7h0M818.4 442.7h0M827.1 459.9h0M814.7 435.1h0M819.5 444h0M813.8 441.3h0M810.1 439h0M814.9 445.5h0M811.2 442.6h0M809.4 447.5h0M811.1 440h0M809.2 448.3h0M811.2 445.6h0M806.4 442.7h0M807.5 459.2h0M806.1 441.9h0M809.6 437.7h0M811 439.3h0M811.2 437.5h0M809.6 442.7h0M803.5 440.1h0M802.8 447.6h0M800.9 453.5h0M804.8 446.3h0M802.8 448.6h0M806.1 443.5h0M798.3 442.8h0M795.9 446.5h0M800.3 445.5h0M795.5 444.1h0M799.9 447.9h0M794.2 449.6h0M793.9 444.9h0M795.1 447.1h0M799 441h0M792.9 439.9h0M790.4 441.1h0M800.3 447h0M799.7 448.3h0M793.6 438.4h0M789.9 450.5h0M790.2 440.8h0M791.3 471.5h0M792.4 442.2h0M788.8 446.6h0M790.8 443.8h0M790.1 441.7h0M789.8 444.2h0M788.3 461.6h0M789.3 445.1h0M784.2 457.4h0M781.3 441h0M783.7 451.1h0M784.5 450.8h0M784 449.2h0M790.6 466h0M779.4 448.7h0M784.2 442.1h0M780.7 477.4h0M782.4 462.6h0M778.9 440.4h0M779.5 443.7h0M774.5 441.3h0M773.6 448.1h0M779.7 446.5h0M775.6 442.2h0M780.2 448.8h0M775.4 445.9h0M773.2 458.3h0M777.3 452.1h0M777.6 447.7h0M774.1 447.4h0M777.7 444h0M779.2 454.7h0M774 450.8h0M770.6 452.6h0M775.9 454.3h0M773.4 448.6h0M773.2 449.1h0M768.4 456.5h0M769.1 454.2h0M765 450.3h0M764.9 447.8h0M767.9 447.7h0M763 441.4h0M756 486.5h0M771.3 469h0M759.8 447.7h0M756.3 447.8h0M761.8 447.8h0M758.1 477.3h0M758.7 449.3h0M759.5 445h0M763.3 450.9h0M750.9 444.8h0M761.7 471.5h0M762.3 463.2h0M756.5 465.2h0M758.9 443.1h0M756.4 442.7h0M749.1 457.9h0M756.6 460.9h0M759.3 452.4h0M750.2 445.5h0M754.2 444.6h0M755.7 447h0M754.7 447.2h0M759.7 444h0M751.1 448.6h0M760.7 450.1h0M750.5 450.5h0M752 456.8h0M754.8 452.4h0M753.5 450.6h0M748.2 443.6h0M751.1 442.1h0M754.6 441.4h0M751.8 445.6h0M749.1 446.7h0M741.9 449.2h0M746.4 447.1h0M745 444.2h0M744.1 456.4h0M743.7 468.9h0M750.7 448.4h0M739.9 449.8h0M740.2 441h0M745 441.2h0M745.7 450.9h0M738.8 466.9h0M747.3 449.2h0M741.8 443.1h0M737.6 441h0M741.5 441.3h0M739.7 448.2h0M729.2 471.6h0M740.6 479.3h0M739.9 446.5h0M743.8 448.2h0M737.1 453.7h0M735.8 439.5h0M738 454.8h0M736.4 447.4h0M735.6 447.5h0M736.1 446.6h0M731 453.9h0M751.9 496.6h0M728 447.8h0M729.1 458h0M734.2 460.7h0M723.2 438.3h0M729.6 452.6h0M734.8 452.8h0M720.9 450.4h0M722.2 484.5h0M720.3 443h0M723.4 451.1h0M714.7 446.1h0M730.9 476.3h0M713 472.1h0M717.8 443.5h0M717.2 444.7h0M716.1 441.9h0M720.6 464.7h0M712.2 483.2h0M710.6 445h0M711.8 437h0M712.6 442.1h0M712 440h0M715.1 447.9h0M709.8 438.6h0M708 442.4h0M711.3 446.7h0M705.5 437.9h0M708.6 443.8h0M699.8 482.6h0M706.8 441.2h0M712.2 444.4h0M702.4 440.3h0M705.7 443.1h0M701.6 448.1h0M696.2 441.9h0M707.2 441.2h0M702 452.2h0M702.7 453.2h0M708.3 446h0M698 445h0M692.9 454.7h0M701.1 437h0M690 444.4h0M689.9 448h0M688.6 456.1h0M683.1 436.1h0M692.4 441.8h0M685.3 436.8h0M691.9 448h0M682.4 449.9h0M684.4 443.8h0M682.9 436.9h0M683.5 445.2h0M682.5 438.7h0M684.6 440h0M687.6 447.8h0M686.5 447.8h0M679.8 448h0M683 442.1h0M678.6 446.2h0M676.9 434.2h0M678.4 439.8h0M671.7 442.3h0M675.4 435.7h0M668.6 438.6h0M662.6 437h0M685.8 375.3h0M688.4 367.9h0M690.8 360.1h0M696.1 355.7h0M697.7 359.9h0M671.3 298.1h0M702.2 208.5h0M712.1 257.2h0M619.2 199.3h0M822.1 293h0M730.9 251h0M649.8 281h0M788.1 247.4h0M789.5 255h0M784.8 271.6h0M795.7 204.3h0M793.3 218.4h0M717.7 289.5h0M611.8 207.4h0M746.7 280.8h0M623.1 225.7h0M844.3 246.3h0M752.9 319h0M806.6 213.1h0M778.3 203.7h0M782 303h0M699.8 254.3h0M732.3 264h0M657.4 219h0M697.1 215.4h0M692.9 219.6h0M716.3 227.4h0M665 288.3h0M735.8 221.5h0M713.5 283.5h0M823.8 240.7h0M693.9 213h0M700.5 230.7h0M661.8 249.6h0M776.9 203.1h0M833.9 280h0M761.7 312.9h0M714.7 262.3h0M697.2 224.8h0M646 207.6h0M831.8 265.6h0M867.9 272.6h0M760.3 219.6h0M778.6 244.9h0M782.7 234.2h0M757.9 318.3h0M788.4 252.6h0M796.1 225.4h0M743.8 267.9h0M826.4 244.1h0M695.8 203.6h0M649.2 197.6h0M775.9 216.2h0M717.5 225.5h0M755.1 203.2h0M738.4 284.5h0M837.3 255.4h0M632.4 218.2h0M752.3 313.1h0M725 208.3h0M811.4 266.4h0M844.9 280.2h0M642.6 260h0M672.7 226.9h0M620.1 235.5h0M691.6 296.3h0M768.5 248.4h0M637.9 241.2h0M828.5 267.7h0M659.5 259.2h0M731.1 215.5h0M704.2 291h0M692.4 227.7h0M665.8 241.7h0M689.7 201.9h0M732.6 315.2h0M835.5 285.9h0M865.8 271.3h0M624.4 232.4h0M660.7 196.2h0M727.5 193.7h0M786 210.6h0M646.3 235.2h0M698.8 191.3h0M818.6 256.9h0M788 250.3h0M735.8 216.4h0M760.8 288.5h0M702.8 299.3h0M828.6 256.1h0M670.1 281.8h0M662.2 215h0M709.3 258.1h0M633.6 198.5h0M686.6 295.7h0M657.8 206h0M696.3 214.6h0M688.8 261.7h0M710.3 268h0M670 209.3h0M721.3 271.8h0M708.7 275.8h0M759.9 292.5h0M812.5 284.1h0M665.4 232.5h0M683.4 229h0M645.2 239.9h0M727.8 193.5h0M667.5 246.3h0M638.5 197.9h0M746.3 194.5h0M688.7 227h0M680.1 227.5h0M781.3 207.7h0M802 220h0M683.8 277.1h0M708.1 272.8h0M748.5 303h0M811.6 218.2h0M764.3 312.2h0M720.9 294.3h0M803.8 223.8h0M676.5 199.5h0M804.8 236.3h0M695.7 220.6h0M765 225.1h0M630.4 220.4h0M694.5 305.4h0M837.4 252.3h0M779.1 215h0M668 230.4h0M708.1 272.8h0M736.1 326h0M756.3 297h0M629.7 225.4h0M828.1 270.1h0M801.6 237.2h0M803.3 237.7h0M745.2 245.3h0M800.3 216.7h0M832.7 237h0M609.7 204.2h0M639.6 272.1h0M722.8 215.9h0M793.6 283.4h0M771.2 234.3h0M677.6 289.1h0M681.2 212.3h0M834.8 266.7h0M717.4 212.7h0M678.5 205.7h0M754.8 296.1h0M802.2 208.5h0M684 234.3h0M687.9 244.4h0M665.8 243.5h0M698.6 224.5h0M655.6 270h0M688 298.9h0M803.4 262.5h0M671.8 276.6h0M655.8 267.6h0M824.3 245.7h0M695.3 290.4h0M842.3 248.4h0M719.6 203.7h0M791.4 305.8h0M736.2 283.5h0M855.2 276.2h0M645 247.1h0M728.6 303.6h0M683.9 228.6h0M699.2 197.6h0M827.2 261.1h0M618.2 210.4h0M813.5 224.2h0M743.8 226.9h0M721.1 241.4h0M802.1 259.6h0M682.8 207.2h0M668.1 216.3h0M764.8 263.7h0M740.4 289.4h0M669.8 276.8h0M769.9 287h0M822.5 289.4h0M633.6 241.9h0M641.9 223.3h0M737 208.1h0M711.5 237.5h0M750.5 306.7h0M829.4 293h0M795.6 216.6h0M638.9 238.1h0M866.6 274.5h0M600.8 201.2h0M671.5 293.3h0M785.4 244.8h0M773.3 308.7h0M756.4 317.2h0M778.4 247.8h0M774.5 257.6h0M795.3 301.9h0M811.4 295h0M851 253.2h0M637.4 219.3h0M790.5 298.2h0M739.9 286.5h0M694.3 282.2h0M753.9 198.4h0M709.3 282.9h0M667.7 287.8h0M740.1 323.7h0M845 254.1h0M805.6 241.2h0M709.7 261.1h0M722.6 267.7h0M789.3 246.4h0M648.8 228.6h0M647.9 277.1h0M634.4 206.4h0M758.3 294.6h0M671.2 202.4h0M786.4 302.1h0M676.6 252.6h0M744.1 204h0M683.3 211.6h0M821.7 292.8h0M719.8 212.9h0M829 232.4h0M754.2 278.9h0M663.5 267.3h0M768.1 314.2h0M735.6 259.6h0M827.3 288.1h0M650.8 211.9h0M737.7 196.1h0M771.3 222.8h0M732.2 313.1h0M631.3 245.6h0M718.9 299.4h0M720.5 197.1h0M745 207.2h0M737.9 308.8h0M640.1 269.7h0M701.6 267.8h0M755.8 229.4h0M683.2 251.2h0M646.5 206.3h0M737.5 257.4h0M603.6 242.2h0M618.3 236.2h0M627.3 273.1h0M610.3 228.2h0M642.8 228.6h0M594.3 255h0M603.1 240.2h0M625.1 258.1h0M546.8 287.9h0M585.7 250.4h0M603.9 231.8h0M589.1 226.7h0M603.6 201.5h0M598.5 231.7h0M622.6 211.8h0M563.9 243.4h0M625.3 233.7h0M618.7 196.3h0M621.9 245.8h0M597.5 263.1h0M610.6 253.5h0M585.2 237.5h0M594.3 272.9h0M582.8 202.6h0M614.9 242.6h0M646.8 241.4h0M587.7 240.3h0M626.6 204h0M549.6 241.1h0M588.8 212.7h0M613.8 257.6h0M576.6 256.2h0M608.5 239.9h0M609.8 294.6h0M603 204.6h0M652.6 229h0M571.1 195.5h0M597.1 218.1h0M594.7 248.9h0M602.4 268.3h0M546.7 213.4h0M655.6 234.4h0M617.2 221.6h0M625.5 188.2h0M626.5 240.6h0M620.4 188.6h0M621 266.7h0M623.2 203.3h0M583.2 279.9h0M608.6 164h0M656.8 273.6h0M579 168.3h0M560.8 202.6h0M613.4 215.9h0M585.9 236.9h0M669.3 298.8h0M655.8 282.4h0M635.7 194.6h0M578.6 254.3h0M647.5 195.5h0M600.2 205.7h0M647.5 288.1h0M632.4 200.7h0M656.8 226.8h0M662.9 249.6h0M626.5 197.2h0M654.2 261.4h0M603.6 176.1h0M615.8 265.4h0M617.4 240.4h0M623.9 232.5h0M598.4 262.9h0M668.4 217.2h0M599.6 240.8h0M624.1 246.1h0M598.3 223.4h0M658.9 253.1h0M643.4 227.6h0M637.3 197h0M631.4 178.6h0M612.8 249.8h0M595.7 251.1h0M575.5 215.9h0M574 209.2h0M667.7 209.1h0M564 262.8h0M660.2 236.6h0M586 243.9h0M615.3 253h0M648.1 219.3h0M551.2 213h0M559.5 232.6h0M620.1 226.6h0M683.3 261.5h0M553 225.8h0M641.9 167.7h0M597.2 237.4h0M615.9 226.3h0M612.6 228.5h0M613.5 184.5h0M640.3 219.9h0M654.2 235.9h0M650.2 224.4h0M536.5 203.5h0M649.9 221.7h0M604.3 217.4h0M596.5 214.7h0M625.2 288.8h0M624.3 229.4h0M678.8 200.4h0M585.3 175.4h0M640.1 254.4h0M597.6 244.6h0M633.1 222.3h0M616.7 209.4h0M602.7 240.9h0M600.8 169.8h0M572.4 229.4h0M672.5 259.7h0M610.7 238.8h0M677.4 194.7h0M599.3 235.3h0M644.2 267.5h0M623.7 224.8h0M621.6 210.3h0M610.5 196.1h0M645.6 235.5h0M578.9 237.3h0M588.7 227.2h0M659.2 259.3h0M607.3 265.7h0M620.9 216.3h0M581.1 171.5h0M606.3 185h0M649.4 236.6h0M597.5 223.7h0M558.9 212.5h0M623.2 278.6h0M578.5 190.3h0M629.9 231.3h0M697.1 209.2h0M670.3 204.3h0M625.5 193.9h0M598.8 209.6h0M566 279.1h0M620.4 235.4h0M610.7 237.5h0M670.3 207.5h0M620.6 216.1h0M658.8 216.4h0M621.8 258.1h0M669.4 243.3h0M535.3 229.6h0M634 203.7h0M591 220.1h0M597.2 239h0M542.6 250.9h0M603.3 281.2h0M589 191h0M633.5 274h0M669.9 244h0M656.3 242.2h0M570.7 206.2h0M609 233h0M662.6 190.2h0M573.4 227.9h0M650.6 226.5h0M645.8 246.3h0M603 166.2h0M630.4 231.3h0M624.5 221.1h0M623 225.5h0M646.9 242.1h0M604.5 253.3h0M635.2 238.1h0M606.8 241.7h0M606.6 208.1h0M591.8 191.6h0M643 223.4h0M605.2 207.6h0M654.8 262.8h0M609.2 245h0M581.5 240.7h0M591.9 232.8h0M632.3 224.4h0M646.7 211.6h0M593.7 255.6h0M575.6 248.1h0M633 190.1h0M592.2 293.7h0M648.5 224.4h0M568.3 252h0M663.4 220.1h0M579.6 231.5h0M590.9 228h0M631.3 266.4h0M646.1 250.1h0M616.3 210.4h0M596.7 271h0M635.4 190h0M600.7 212.9h0M628.7 185.8h0M644.3 269.8h0M657.3 251.7h0M622 223.3h0M606.9 274.9h0M614.1 252.3h0M660.3 237.9h0M574.3 214.7h0M622.3 239.7h0M618.8 230.9h0M599.9 256.6h0M608 245.1h0M581.8 226.1h0M611.3 247.6h0M625.1 225.1h0M593.6 251h0M624 275.9h0M649.4 260.2h0M642 233.6h0M614.4 234.6h0M613.4 217.3h0M600 265h0M565.3 251.7h0M619 223.8h0M640 251.2h0M613.4 216.6h0M622.4 240.3h0M598.4 211.8h0M603.9 271.2h0M632.5 218.8h0M606.9 266h0M562.5 200.1h0M592.3 240.1h0M606.7 229.3h0M607.7 214.7h0M632.8 220h0M605.5 238.5h0M552.1 232h0M595.9 242.8h0M581.4 239.7h0M640.7 237.9h0M618.7 269.2h0M624.3 230.9h0M652.1 244.2h0M620.6 232.5h0M606.3 240.5h0M601.3 182.4h0M635.8 257.7h0M606.1 239.5h0M627.7 256.1h0M522 303.8h0M659.7 257.4h0M638.9 207.3h0M643.7 216.6h0M600.1 248h0M582.4 212.5h0M611.8 248.5h0M599.8 240.6h0M597.2 219.3h0M616 173.9h0M638.2 212.7h0M615.7 212.8h0M576.5 225.7h0M632.3 216.7h0M624.4 241.3h0M606.6 286.5h0M603.6 203.9h0M609.7 174.5h0M629.9 181.7h0M650.4 250.4h0M590.7 213h0M563.6 279.9h0M614.4 195.5h0M595.1 169.5h0M663 242.8h0M585.8 240.9h0M618.5 281.7h0M575.6 273.6h0M660.7 282h0M642.5 242.8h0M632.3 228.4h0M652.1 225.3h0M635.3 255.4h0M582.4 223.7h0M640.4 207.1h0M624.2 227.1h0M668.7 219.8h0M623.8 247.8h0M589.2 236.9h0M660.7 269.9h0M629.5 210.5h0M603.6 210.3h0M588.2 215.4h0M649 196.2h0M585.5 205.7h0M616.9 226.3h0M622 239.5h0M567.9 196.5h0M562.8 260.8h0M548.4 230.4h0M625.9 220.8h0M618.9 214h0M616.4 225.7h0M603.1 245.5h0M627.2 260.9h0M719 294.2h0M632.6 255.6h0M616.8 247h0M628.4 208.4h0M674.2 242.9h0M573.5 222h0M611.5 246.7h0M665.1 217.2h0M583.3 246.6h0M641 277.4h0M604 181h0M629.6 186.6h0M608 195.7h0M625.7 209.7h0M543.3 215.5h0M596.7 259.6h0M601.2 264.2h0M606.9 221.5h0M651.5 227.4h0M617.4 280.1h0M595.2 248h0M633.2 251.7h0M596.1 213.9h0M616.3 216.7h0M592.5 122.9h0M561.5 125.8h0M555.7 155.6h0M551.2 128.4h0M590.8 132.2h0M608.9 142.6h0M591.6 145.3h0M567.6 147.3h0M474.5 130.6h0M583.8 132.2h0M559.4 136.8h0M459.3 123.9h0M536 163.7h0M510.7 133.3h0M560.1 151.4h0M561.9 125.4h0M593.2 126.8h0M654 127.4h0M484.7 127.2h0M612.1 115.3h0M501.8 127.1h0M608.7 143.1h0M567.7 153.7h0M559.6 150.2h0M392.3 151.6h0M575.1 160.3h0M592 139.6h0M565.1 151.1h0M594.6 153.4h0M640.3 131.6h0M570 137.9h0M580.1 149.7h0M559.7 159.2h0M504.6 122.5h0M628.4 158.2h0M610.2 130.6h0M535.4 121.5h0M539.9 124.3h0M597.7 110.3h0M569.4 132.8h0M896.6 216h0M973.4 185.3h0M930.7 259h0M966.5 299.8h0M1027.6 207.5h0M994.3 196.9h0M874.2 219.8h0M856 253.8h0M902.8 232.2h0M889.4 229.2h0M931.3 226.1h0M874.8 253.6h0M859.2 267.2h0M957.5 241.1h0M920 281.5h0M967.5 241.1h0M968.2 260.4h0M863.7 238.4h0M949.6 235.6h0M930.2 239.6h0M940.1 183.4h0M935.5 247.7h0M858.3 288.9h0M866.9 279.8h0M832.8 258.1h0M819.7 247.4h0M849.4 203.1h0M806.1 249.9h0M943.1 210.3h0M912.8 255.1h0M892.5 270.3h0M938.7 198.6h0M799.4 221.3h0M1006 275.4h0M839.9 243.9h0M906.6 240.7h0M893 277.9h0M857.7 279h0M924.2 230.5h0M883.8 192.5h0M941.3 232.1h0M943.5 249.8h0M879.2 302.3h0M994 281.5h0M940 229.7h0M864.8 271.4h0M864.1 222.9h0M935.9 224.1h0M762 209h0M839.5 235.3h0M900.8 260.3h0M925.9 256.9h0M902.1 217.5h0M898.1 241.9h0M851.5 174.1h0M841 214.2h0M985.9 186.3h0M875.7 230h0M902.2 293.4h0M884.6 259.7h0M970.4 217.6h0M786.1 246.4h0M886.3 252.8h0M850.4 218.8h0M880.5 233.6h0M916.3 205.9h0M835.9 274.3h0M963.7 242.5h0M867.1 201.2h0M940.3 195.1h0M886 276.7h0M902.8 195.4h0M938.2 232.7h0M895.7 215.3h0M922.7 224.5h0M892.9 243.2h0M917.8 257.7h0M829.6 217.8h0M830.3 219.7h0M907.2 255.2h0M888 245.1h0M880.3 264.2h0M869.5 196.7h0M800.4 259.9h0M914.9 274.2h0M929 208.2h0M870.7 236.3h0M802.6 242.9h0M809.6 237.7h0M922.9 269.7h0M868 275.4h0M889.8 274h0M862.5 207.5h0M926.8 284.7h0M894.5 267.3h0M829.4 212.6h0M796.2 205.4h0M849.5 253.7h0M830.1 218.7h0M826.9 218.4h0M950.1 216.3h0M940.9 274.9h0M915.8 230.9h0M889.7 270.8h0M1014.8 216.3h0M847.6 216.1h0M890.5 246.2h0M860 260.1h0M833.1 291h0M948.7 249.8h0M883 230.9h0M850.9 204.3h0M838.4 275.6h0M876.6 244.3h0M857.5 247.3h0M820.1 241.8h0M843.8 245.2h0M905.2 240.4h0M807.7 240.3h0M855.8 246.1h0M1010.5 257.7h0M907.5 267.8h0M860.2 250.8h0M902.3 202.7h0M876.2 204.8h0M876.5 218.8h0M948.2 249.1h0M900.1 261h0M924.2 268.6h0M867.3 252.7h0M872.8 239.3h0M930 213h0M969.2 256.4h0M914.5 255.5h0M867.1 213.6h0M937.4 260.1h0M914.9 253.7h0M875.8 219h0M865.2 248.8h0M893.8 250.6h0M821.5 218.9h0M875 236.9h0M810.1 236.6h0M958.8 239.9h0M914.7 194.6h0M926.4 250.2h0M844 195.9h0M934.8 265.3h0M921.6 252.9h0M852.2 266.6h0M957.8 251h0M887.2 228.5h0M902.6 240.1h0M915.6 212.3h0M849.9 259.1h0M877.2 251.7h0M887.6 240.4h0M893.7 276.5h0M878 202h0M926.7 248.8h0M860.5 210h0M827.9 187.8h0M903.4 231.2h0M877.6 214.8h0M901.9 282.8h0M987.7 234.1h0M953.6 202.7h0M949.6 291.9h0M897.9 258.9h0M900.4 266.4h0M882.8 251.7h0M898.1 254.8h0M922.9 278.6h0M933.2 279h0M902.5 231.1h0M853.1 271.4h0M948.7 177.9h0M799.6 225.7h0M863.1 229.3h0M906.5 237.4h0M989.7 259.9h0M936.7 248.1h0M979.2 290.3h0M923.2 189.5h0M826.1 214.9h0M880.9 253.1h0M852.9 247.7h0M897.9 210h0M871.3 230h0M876.7 225.7h0M932.1 242.8h0M933.7 240.1h0M1001.3 213.6h0M888.4 217.4h0M906.1 206h0M938.4 241.7h0M903.7 270.9h0M868.7 276.8h0M883.4 264.5h0M807.8 237.9h0M856.9 186.5h0M906.3 246.2h0M902.7 196.7h0M859.7 206.4h0M884.5 217.6h0M1035.3 253.8h0M962.2 245.9h0M911.3 202.7h0M845.6 181.8h0M949.8 251.1h0M975 326.9h0M923.2 342.3h0M999.6 339.6h0M939.9 339.7h0M996.4 305.4h0M1033.1 376.3h0M1029 276.5h0M972.5 285.7h0M938.6 351h0M1055.1 329.4h0M931.9 373h0M981.6 355.8h0M963.4 370.4h0M972.5 300.4h0M1014.1 337.5h0M1000.6 276.7h0M939 346.1h0M878.4 328.8h0M1004.8 320.9h0M1015.8 323.4h0M992.6 331.5h0M1009 301.6h0M952 310.2h0M974.2 359h0M933.3 385h0M986.6 307.4h0M928.3 278.1h0M993.3 316.7h0M959 359.9h0M934.8 328.6h0M897 337.3h0M972.5 349.8h0M967.8 367.1h0M974.6 293.9h0M920 307.2h0M975.1 310.2h0M934.2 291.2h0M966.1 340.6h0M923.9 296.2h0M968.4 368.3h0M977.4 307.4h0M1009.1 299.2h0M961.6 354.6h0M981 340h0M1008 321.3h0M966.9 345h0M1015.3 286.2h0M981.4 383.9h0M959.6 282.7h0M991.1 298.3h0M970.3 291.3h0M992.9 282.8h0M1021.6 340.9h0M1013.5 351.4h0M993.9 357.3h0M936 348.2h0M952.5 274.5h0M971.6 271.5h0M940.8 298.8h0M985.5 290.1h0M983.1 330h0M981.8 331.3h0M960.4 322.2h0M959.8 273.5h0M990.5 336.2h0M964.3 324.4h0M968.8 265.6h0M937.1 346.6h0M965.2 297h0M1009.2 371.7h0M905.9 300.7h0M971.7 342.4h0M969.7 310.2h0M928.7 267h0M979 270.7h0M1015.3 258.5h0M1013.3 294.4h0M994.7 350.6h0M1003.5 322.7h0M1051.9 342.7h0M977.3 342.9h0M996 354.1h0M995.9 317.1h0M1014 325.7h0M965.1 345.7h0M990 302.9h0M913.8 347.9h0M983.1 293.5h0M957.2 318.2h0M961.2 295.1h0M1051 282.1h0M966.2 309.8h0M928.7 368.9h0M976.8 296.1h0M987.9 287.9h0M967 330.2h0M965.3 306.6h0M983.7 299.2h0M985.4 319.5h0M936.7 343.7h0M950 331.3h0M997.1 346.9h0M1004.2 365.4h0M987.7 350.8h0M1011.3 297.4h0M987.7 273.5h0M946.3 292h0M995.3 314.1h0M989.9 265.1h0M935.7 342.9h0M954.3 308.5h0M972.9 316.2h0M922 355.1h0M1015.4 309h0M994.1 244.6h0M871.9 300.8h0M956.3 370.6h0M1011.6 297.8h0M1049 336h0M987.4 306.8h0M1033.3 305.6h0M984.1 293.7h0M985.3 329.5h0M1035.8 322.5h0M954.4 331.9h0M965.3 350.2h0M972.2 326.1h0M942.8 262.4h0M940.2 350.1h0M948.6 355.5h0M1024.4 273.5h0M983.3 345.4h0M940.5 291.2h0M925.3 328.9h0M944.8 342.1h0M938.2 250.9h0M933.7 349.8h0M1006.8 306.1h0M964.2 349.6h0M984.2 297.7h0M946.8 324.9h0M968.2 319h0M914.8 339.5h0M931.8 301.4h0M963.5 363.9h0M977.9 272.3h0M933.3 319.9h0M1013.5 313.9h0M931.7 307.1h0M978.8 346.8h0M974.3 301.1h0M954.7 303h0M947.1 342.7h0M959.8 384.1h0M974.4 313h0M953.1 361.9h0M1019.7 281.7h0M989.6 310.4h0M958.5 325.4h0M933.2 356.7h0M1006.1 322.2h0M1026.5 273.4h0M934.1 313.1h0M913.2 334.5h0M998.8 325.9h0M1056.9 371.1h0M988.7 312.9h0M955 383.8h0M975.3 386.3h0M988.5 299.6h0M928.6 305.7h0M991.6 348.1h0M974.4 271h0M1020.6 348.3h0M936.9 329.5h0M982.4 340.9h0M997.1 323.1h0M948.3 271.7h0M1006.1 340.3h0M965.7 334.2h0M914 262.8h0M905.9 283.5h0M959.9 330h0M966.9 324.3h0M1000.5 306.1h0M978.1 319.6h0M924.7 302.9h0M980.1 299h0M1042.5 334.7h0M919.7 260.5h0M950 238.3h0M922.2 379.5h0M1049.8 307.7h0M1015.3 357.4h0M1021.5 327.5h0M987 349.5h0M985.5 324.6h0M951.5 281.7h0M940.2 299h0M1041.1 325h0M1010.4 312.3h0M962.2 349.6h0M976.9 369.8h0M975.9 316.7h0M1007.4 376.7h0M1022.6 284.4h0M918.1 338.4h0M956.1 349.2h0M916.8 367.1h0M948 320h0M982.9 346h0M1010.8 252h0M1008.6 319.5h0M1012.9 338h0M962.3 328.9h0M1039.2 296.2h0M1016.4 310.3h0M955.2 297.3h0M978.1 383.5h0M1001 318.2h0M937 327.9h0M949.4 330.2h0M999.4 325.5h0M971.9 303.9h0M947.9 288.3h0M985.5 349.9h0M963.9 304.5h0M963.8 310.2h0M964.4 262.6h0M925.9 353.6h0M1011.4 335.7h0M974.5 341.1h0M974.3 334.5h0M957.5 265.9h0M1011.9 363.3h0M1061.6 309.3h0M947.4 316.3h0M957.3 353.3h0M972.7 330.5h0M964.5 337.3h0M916.8 324h0M964.1 327.9h0M955 316.7h0M1030.3 318.7h0M1001.7 303.4h0M917.3 353.6h0M906.6 345.1h0M1040.1 318h0M976 349h0M916.1 349.7h0M969.3 359.9h0M1020.5 307.3h0M1021.4 402.8h0M1056.2 332.6h0M1042.6 339.1h0M952.4 283.9h0M1005.4 297.7h0M933.9 339.7h0M1001.8 330.2h0M996.8 327.9h0M992.7 333.2h0M983 284.5h0M1069.2 355.6h0M953.7 341.2h0M966.1 347.2h0M983.2 322.9h0M971.3 327.2h0M1006.7 310.9h0M1000.7 368.9h0M930.7 325.4h0M997.9 331.9h0M978.9 362.8h0M922.2 297.7h0M997.9 284.6h0M940.9 298.6h0M970 338.9h0M983.4 263.6h0M951.6 318h0M950.7 327.7h0M956.6 314.2h0M965.6 264.9h0M993.5 369.7h0M1005.1 282.1h0M943.5 308.2h0M1028.6 335.6h0M990.8 295.2h0M994.9 293.2h0M967.2 290.3h0M928.4 321.6h0M970.2 326.8h0M1011.8 344.1h0M1012.6 300.9h0M962.4 328.7h0M955 260.8h0M993.6 317.9h0M1013.6 331h0M996.1 344.2h0M921 279.4h0M933.7 300.5h0M964.2 264.5h0M959.1 317.6h0M1069.8 323.9h0M921.2 283.4h0M986.2 325.9h0M947.8 304.2h0M1003.7 341.1h0M1030.9 275h0M891.2 284.9h0M961.8 300.6h0M958.1 312.4h0M986.8 292.9h0M947.8 296.4h0M987.2 327.7h0M947.8 338.9h0M1006.8 291.4h0M1016.2 319.6h0M962.8 328.3h0M918.2 380.5h0M984.6 372.1h0M992.9 372.8h0M937.8 315.8h0M1029.6 318.3h0M922.4 330h0M1047 306.6h0M991.9 331.2h0M1000.6 305.5h0M942.9 324.5h0M945.1 356.3h0M986.2 299.1h0M1034.4 274.1h0M958.4 287.2h0M1009.9 262.5h0M998.6 333.7h0M963.2 357.3h0M991.9 303.7h0M999.8 285.3h0M990.4 359.3h0M997.7 299.3h0M984.8 291.6h0M1020.4 286.8h0M974.7 340.7h0M968.1 322.4h0M1020 351.2h0M935.3 361.2h0M979.2 323.1h0M944.8 269.8h0M954.2 294.1h0M1026.4 349.4h0M1000.5 350.4h0M984.8 337.5h0M1016.7 327.5h0M939.1 336.3h0M1003.4 308.1h0M947.7 295.5h0M1000.5 333h0M1037.6 311.4h0M969.8 282.4h0M937.9 289.7h0M934.1 344.6h0M949.3 304.2h0M971.1 372.1h0M944.6 332.1h0M929.6 297.7h0M950.4 310h0M944.9 303.6h0M961.9 297.2h0M971.7 340.9h0M1014.3 277.5h0M953.1 288.6h0M940.9 252h0M989.8 330.7h0M986.3 321.4h0M931 261.6h0M959.8 361.3h0M956.6 309.9h0M974.4 376.8h0M1012.5 308.5h0M936 310.9h0M968.2 341.6h0M989.6 348.5h0M978.2 275.1h0M1026.3 307.7h0M971.4 338.2h0M965.3 310.7h0M1010.6 268.5h0M1012.1 283.5h0M983.2 348h0M951.7 357.8h0M995.7 319.9h0M951.8 387.9h0M1028.4 321.9h0M1012.8 338.7h0M945.2 355.2h0M1010 316.1h0M946.6 328.4h0M971.1 344.3h0M1012 292.2h0M936.9 332.8h0M884.9 265.2h0M924.7 297.4h0M971.9 273.9h0M1000.5 370.1h0M928 268.4h0M913.1 347.7h0M971.9 350.6h0M937.6 319.5h0M995.9 303.3h0M915.2 346.8h0M976.6 250.3h0M965.3 317.2h0M995.3 352.9h0M997.4 336h0M990.1 312.4h0M938.4 330.1h0M1010.2 339h0M925.2 307.7h0M1002.2 317.3h0M988.2 350.8h0M946.3 288.4h0M973.1 312h0M1057.8 288h0M1111.8 258.2h0M979.2 326.5h0M1057.5 261.4h0M1091.3 235.6h0M1046.3 272.1h0M1016.3 273.3h0M998.1 232.7h0M950 269.3h0M1086.8 283.6h0M955.1 311.5h0M1009 278.8h0M1002 305.8h0M1040.3 296.1h0M1012.4 336.6h0M1084.7 292.6h0M938.6 322h0M931.5 335.8h0M1018 300.8h0M931.9 252.3h0M1067.6 338.4h0M1033.3 245.8h0M1060.6 301.7h0M963.2 293.5h0M974 277.1h0M1009.8 339.6h0M1013.7 260.1h0M1011.4 275.5h0M1019.2 196.9h0M1000.4 318.2h0M1097.9 241.9h0M1019.3 256.2h0M1048.8 312.9h0M910.3 322.5h0M944.4 217.8h0M1066.5 293.8h0M978.7 262.6h0M980.7 271.3h0M954.4 278.9h0M986.5 236.2h0M1042.4 255.2h0M1016.3 283.9h0M1079.6 298.9h0M991.7 346.5h0M1036 258.9h0M1046.1 346h0M1022.8 280.7h0M969.9 358.7h0M1020.4 300.2h0M1029.5 289.6h0M920 237.5h0M1110.4 301.8h0M997.6 239.7h0M967.3 332.4h0M1048.3 213.7h0M943.9 242.1h0M1013.3 231h0M927.3 270.1h0M1053.8 234h0M1036.6 293.1h0M1019.5 307.9h0M986.2 320.4h0M979.6 345.7h0M1089.3 289.7h0M1011.8 310.6h0M1071.1 274.6h0M988.4 351.4h0M1017.7 289.8h0M944.1 244.7h0M1025.9 255.3h0M945.2 365.6h0M1048.8 269.8h0M953.1 294.3h0M1049.2 323h0M1023.9 293.9h0M1014.4 296.6h0M1014.9 293.2h0M1110.7 313.7h0M973.3 320h0M986.6 309.5h0M1069.3 282.4h0M1039.4 263.7h0M1074.7 264.5h0M1055.4 348.5h0M998.3 302.3h0M1030.1 336.3h0M1031.3 265.5h0M1047.2 268.7h0M1019.9 263.5h0M983.5 307.2h0M1021.5 331.6h0M1085.7 252.9h0M979.6 294.8h0M1062.8 222.6h0M965.6 344.2h0M986.3 333.6h0M952 323.1h0M1075.2 315.3h0M1006.5 321.6h0M1008.1 289.4h0M1056.5 215.6h0M1035.7 279.8h0M944.9 283.1h0M975 320.8h0M952.7 350.1h0M1048.2 266.7h0M991.1 236.9h0M989.1 344.8h0M1024.7 319.6h0M1054.9 312.5h0M1043.5 234.3h0M1113.3 242.2h0M996.9 331.4h0M1070 311.8h0M1073 304.7h0M1009.5 217.6h0M920.6 389.9h0M948.7 291.8h0M1095.4 238.8h0M991 331.5h0M1022.9 272.9h0M974.6 288.2h0M1109 262.9h0M1058.5 272.6h0M981.9 304.3h0M962.6 296.1h0M1039 245.3h0M1064.9 255.6h0M1002.1 285.8h0M1052.6 266.3h0M1033.7 305.4h0M1049.3 348h0M1016.4 245.7h0M959.3 318.2h0M991.9 314.5h0M1022.7 249.9h0M1014.8 275.1h0M1082.4 253.5h0M957.5 306.9h0M1035.5 272.5h0M1124.7 237.5h0M1055.6 307.5h0M1041.5 230.5h0M1009.6 315h0M1015 322.3h0M1048.6 300.7h0M966.9 258.2h0M949.2 260.9h0M953.9 299.9h0M953.5 287.4h0M1057.2 244.1h0M1070.6 317.8h0M1055.8 242.3h0M1039.9 313.8h0M1050.4 329.5h0M984.3 357.8h0M1037.5 359.8h0M1065 315.4h0M992.3 309.5h0M925.8 273.2h0M1041.8 276.1h0M962.9 297h0M1072.3 337h0M1013.4 323.3h0M989.7 304.5h0M975.1 259.2h0M983.2 261.4h0M1040.7 271.6h0M1048.8 291h0M1070.5 310h0M1129.7 334.7h0M1098.5 301.8h0M1113.6 258.5h0M1035.5 282.5h0M1061.2 292.7h0M1041.7 253.8h0M1080.2 257.4h0M1113.8 294.1h0M1081.7 311.4h0M1024.1 318.7h0M1088.9 284.1h0M1036.5 293.2h0M1085.3 237.5h0M987.9 293.8h0M1146.8 232.2h0M1044 295.3h0M1133.1 221.5h0M1094.9 241.6h0M1151.9 293.9h0M1119.5 255.7h0M1068.6 319.4h0M1060.4 290.7h0M1043 272h0M1040 289.8h0M1108.9 223.9h0M1057.9 323h0M1076.5 312.4h0M1021.3 336.6h0M1095.2 284.1h0M1019.1 297h0M1159.2 218.9h0M1087.1 305.6h0M1071.5 281h0M1090 262.9h0M1045.8 284.9h0M1064 291.3h0M1073 265.7h0M1088 279.4h0M1114.5 294.1h0M1091.9 310h0M994.7 301.2h0M1071.2 299.2h0M1046.6 291.3h0M1053.4 259h0M1066.4 236.1h0M1083.8 300.5h0M1074.9 306.6h0M1066.2 338.2h0M1106.1 339.9h0M1105.4 325.2h0M1122.3 235h0M1058.7 304.5h0M1097.6 262.3h0M1072.3 227.7h0M1099.8 306.9h0M1078.2 265.2h0M1105.3 316.2h0M1029.3 296.3h0M1058.1 293.3h0M1082.8 266.2h0M1136.5 255.1h0M1126.5 292.9h0M1094.6 285.1h0M1095 286h0M1090.3 272.6h0M1109 290.7h0M1101.5 238.6h0M1027.3 315.5h0M1075.8 302.5h0M931.7 238.3h0M1021.9 157.7h0M965.3 214h0M891.6 165.3h0M945.7 214.7h0M987.2 199.6h0M963.1 216.8h0M874.4 190.7h0M982.7 202.3h0M926 174.2h0M960 153.9h0M850.4 220.3h0M1040.5 227.7h0M1040.2 194.6h0M957.2 234.2h0M879.5 156.2h0M975.1 179.2h0M1058.6 165.3h0M1017 195.4h0M1073.5 152h0M887.8 186.9h0M1023.8 198.1h0M940.4 218.4h0M939.3 185.8h0M994.4 235.4h0M965.7 156.1h0M904 193.9h0M855.2 225.8h0M939.5 147.1h0M919.8 176.6h0M486.1 494.1h0M470.1 526h0M421.8 516.5h0M430.6 528.6h0M475.5 524h0M495.3 520.3h0M405.9 502.1h0M424.7 507h0M400.1 532.5h0M376.8 487.2h0M414.8 483.6h0M450 530.5h0M406.6 520.4h0M322 545h0M342 536h0M352 534h0M360 538h0M385 545h0M395 551h0M412 569h0M423 546h0M430 555h0M443 581h0M450 549h0M602 527h0M647 549h0M525 110h0M505 125h0M1154 248h0M1132 212h0M1120 256h0M1100 236h0" fill="none" stroke="#f00" stroke-width="7" stroke-linecap="round"/>
<path d="M386 340L385 333L384 326L384 320L385 315L387 309L388 304L390 300L393 295L396 291L399 286L403 280L408 273L413 266L417 259L422 253L425 248L429 243L432 237L434 231L436 225L438 218L439 213L441 209L442 205L444 202L446 200L448 198L452 196L456 194L461 193L466 192L472 191L477 190L481 191L483 192L485 194L487 198L488 203L490 208L491 215L493 222L495 229L497 235L500 241L503 247L507 252L512 257L518 261L525 265L532 268L540 271L549 274L559 275L569 277L578 279L588 280L597 282L605 283L612 286L618 288L622 291L628 294L634 298L641 301L648 305L654 309L661 312L668 316L674 320L680 324L685 328L689 332L693 337L696 342L698 347L700 352L702 357L703 362L703 367L703 372L703 377L702 382L700 387L697 392L693 397L689 402L685 406L679 410L674 413L667 416L661 419L655 421L648 423L641 424L634 425L625 424L616 423L606 422L597 420L588 419L578 418L569 417L559 417L550 417L540 417L531 418L523 419L516 421L509 423L503 425L497 427L490 429L484 431L478 433L472 434L466 434L460 434L454 433L448 432L442 430L437 428L431 424L425 420L420 415L414 410L409 405L404 400L400 396L398 394L396 389L393 383L392 376L390 366L389 357L387 348z" fill="#00f"/>
<path d="M383 337l4.2 7.4h-8.4zM384.1 337.6l4.2 7.4h-8.4zM385.9 329.9l4.2 7.4h-8.4zM365.6 347l4.2 7.4h-8.4zM376.8 333.4l4.2 7.4h-8.4zM381.6 330.5l4.2 7.4h-8.4zM380.3 328.2l4.2 7.4h-8.4zM381.3 323.7l4.2 7.4h-8.4zM379.9 325.6l4.2 7.4h-8.4zM376.4 326.2l4.2 7.4h-8.4zM384.3 328.2l4.2 7.4h-8.4zM374.9 330.1l4.2 7.4h-8.4zM387.2 325.6l4.2 7.4h-8.4zM379.8 324.1l4.2 7.4h-8.4zM379.5 313.7l4.2 7.4h-8.4zM379.2 318.8l4.2 7.4h-8.4zM378.3 321.7l4.2 7.4h-8.4zM367.7 320.6l4.2 7.4h-8.4zM376.7 318.5l4.2 7.4h-8.4zM378.9 317.6l4.2 7.4h-8.4zM356.5 316.6l4.2 7.4h-8.4zM381.3 315l4.2 7.4h-8.4zM382.1 315.3l4.2 7.4h-8.4zM377.9 314l4.2 7.4h-8.4zM385.9 313.2l4.2 7.4h-8.4zM378.4 317.3l4.2 7.4h-8.4zM377.7 310.7l4.2 7.4h-8.4zM369.9 310.8l4.2 7.4h-8.4zM385.7 311l4.2 7.4h-8.4zM382.6 306l4.2 7.4h-8.4zM377.4 310.2l4.2 7.4h-8.4zM382.9 309.3l4.2 7.4h-8.4zM384.2 307.8l4.2 7.4h-8.4zM381.4 309l4.2 7.4h-8.4zM382 295.4l4.2 7.4h-8.4zM380.8 304.9l4.2 7.4h-8.4zM387.3 303.9l4.2 7.4h-8.4zM383.6 298.6l4.2 7.4h-8.4zM374.6 302.4l4.2 7.4h-8.4zM379.4 304.7l4.2 7.4h-8.4zM385.5 303.4l4.2 7.4h-8.4zM382 299.2l4.2 7.4h-8.4zM384.9 301.1l4.2 7.4h-8.4zM384.7 300l4.2 7.4h-8.4zM383.8 300.9l4.2 7.4h-8.4zM385 302.8l4.2 7.4h-8.4zM373.8 292.2l4.2 7.4h-8.4zM384.1 298l4.2 7.4h-8.4zM382.8 296.1l4.2 7.4h-8.4zM382.2 297.1l4.2 7.4h-8.4zM390.4 303l4.2 7.4h-8.4zM389.2 295.1l4.2 7.4h-8.4zM385.4 302.4l4.2 7.4h-8.4zM390 296.5l4.2 7.4h-8.4zM390.8 291.3l4.2 7.4h-8.4zM389.4 298.1l4.2 7.4h-8.4zM388.5 291.1l4.2 7.4h-8.4zM386.1 290.8l4.2 7.4h-8.4zM393.1 288.2l4.2 7.4h-8.4zM391.1 295.2l4.2 7.4h-8.4zM387.9 282.7l4.2 7.4h-8.4zM389 282.4l4.2 7.4h-8.4zM393.8 282.5l4.2 7.4h-8.4zM375.5 281.3l4.2 7.4h-8.4zM399.4 275.8l4.2 7.4h-8.4zM394.1 279.1l4.2 7.4h-8.4zM396.5 276l4.2 7.4h-8.4zM395.8 273l4.2 7.4h-8.4zM392.5 277.4l4.2 7.4h-8.4zM396.9 274.4l4.2 7.4h-8.4zM380.3 269.8l4.2 7.4h-8.4zM395.4 278.9l4.2 7.4h-8.4zM397.3 272.4l4.2 7.4h-8.4zM403.5 272.2l4.2 7.4h-8.4zM401 278.5l4.2 7.4h-8.4zM405.4 269l4.2 7.4h-8.4zM407.1 269.6l4.2 7.4h-8.4zM403.6 274.6l4.2 7.4h-8.4zM400.4 273.4l4.2 7.4h-8.4zM405.6 266.7l4.2 7.4h-8.4zM408 266.2l4.2 7.4h-8.4zM403.1 269.6l4.2 7.4h-8.4zM403.5 266l4.2 7.4h-8.4zM408.4 269.7l4.2 7.4h-8.4zM403.4 268.3l4.2 7.4h-8.4zM406.6 264.7l4.2 7.4h-8.4zM412.9 262l4.2 7.4h-8.4zM408.2 268.9l4.2 7.4h-8.4zM403.1 267.7l4.2 7.4h-8.4zM412 257.7l4.2 7.4h-8.4zM412.3 267.5l4.2 7.4h-8.4zM411.7 265.6l4.2 7.4h-8.4zM409.9 262.6l4.2 7.4h-8.4zM403.7 261.5l4.2 7.4h-8.4zM408 261.6l4.2 7.4h-8.4zM414.3 260.6l4.2 7.4h-8.4zM407.7 258.2l4.2 7.4h-8.4zM416.4 257.4l4.2 7.4h-8.4zM412.4 253.5l4.2 7.4h-8.4zM417 256.6l4.2 7.4h-8.4zM418.5 251l4.2 7.4h-8.4zM419.6 247.2l4.2 7.4h-8.4zM421.1 250.2l4.2 7.4h-8.4zM414.2 249.2l4.2 7.4h-8.4zM421.8 249.9l4.2 7.4h-8.4zM421.2 243.9l4.2 7.4h-8.4zM418.9 244.1l4.2 7.4h-8.4zM421.5 251.4l4.2 7.4h-8.4zM421 243.4l4.2 7.4h-8.4zM423.7 250.2l4.2 7.4h-8.4zM425.6 242.8l4.2 7.4h-8.4zM417.1 245.6l4.2 7.4h-8.4zM427 239.5l4.2 7.4h-8.4zM425.7 240.4l4.2 7.4h-8.4zM422.5 239.3l4.2 7.4h-8.4zM421.6 236.4l4.2 7.4h-8.4zM425.1 233.3l4.2 7.4h-8.4zM429.9 237.8l4.2 7.4h-8.4zM429.9 235.3l4.2 7.4h-8.4zM431.3 235.7l4.2 7.4h-8.4zM422.2 233.3l4.2 7.4h-8.4zM430.3 231.2l4.2 7.4h-8.4zM429 231.7l4.2 7.4h-8.4zM430.9 236.9l4.2 7.4h-8.4zM432 232l4.2 7.4h-8.4zM426.5 233.4l4.2 7.4h-8.4zM427.8 228.9l4.2 7.4h-8.4zM428.5 230.6l4.2 7.4h-8.4zM425.9 222.7l4.2 7.4h-8.4zM435.4 224.1l4.2 7.4h-8.4zM434.3 229.5l4.2 7.4h-8.4zM430.9 228.7l4.2 7.4h-8.4zM428.4 228.9l4.2 7.4h-8.4zM408.9 221.6l4.2 7.4h-8.4zM426.6 226.3l4.2 7.4h-8.4zM430.9 225.8l4.2 7.4h-8.4zM431.9 224.7l4.2 7.4h-8.4zM431.9 214.8l4.2 7.4h-8.4zM434.4 217.8l4.2 7.4h-8.4zM438.3 216.8l4.2 7.4h-8.4zM430.5 217.4l4.2 7.4h-8.4zM432.3 214.4l4.2 7.4h-8.4zM430.7 218.6l4.2 7.4h-8.4zM433.5 213.6l4.2 7.4h-8.4zM429.6 214.1l4.2 7.4h-8.4zM437.3 210.6l4.2 7.4h-8.4zM433.4 211l4.2 7.4h-8.4zM430 210.8l4.2 7.4h-8.4zM443.2 203.6l4.2 7.4h-8.4zM433.1 211.3l4.2 7.4h-8.4zM440.2 205.4l4.2 7.4h-8.4zM440.3 204.7l4.2 7.4h-8.4zM441 206.5l4.2 7.4h-8.4zM438 202.8l4.2 7.4h-8.4zM435 207.7l4.2 7.4h-8.4zM436.2 203.1l4.2 7.4h-8.4zM440.6 199.9l4.2 7.4h-8.4zM441.6 200.5l4.2 7.4h-8.4zM437.9 199.2l4.2 7.4h-8.4zM444.4 199.4l4.2 7.4h-8.4zM440.6 201.2l4.2 7.4h-8.4zM432.6 192.8l4.2 7.4h-8.4zM436.8 189.1l4.2 7.4h-8.4zM443.4 194.2l4.2 7.4h-8.4zM442.8 199.3l4.2 7.4h-8.4zM445.4 193.6l4.2 7.4h-8.4zM443.8 196.5l4.2 7.4h-8.4zM442.1 193l4.2 7.4h-8.4zM440.6 177.4l4.2 7.4h-8.4zM445.1 193.6l4.2 7.4h-8.4zM443.7 196.9l4.2 7.4h-8.4zM445.4 188.5l4.2 7.4h-8.4zM453.4 191.2l4.2 7.4h-8.4zM452.2 184.4l4.2 7.4h-8.4zM448.6 189.2l4.2 7.4h-8.4zM450.5 193.4l4.2 7.4h-8.4zM449.2 186.5l4.2 7.4h-8.4zM453.3 186.4l4.2 7.4h-8.4zM456 187.3l4.2 7.4h-8.4zM452.8 191.9l4.2 7.4h-8.4zM455.3 188.9l4.2 7.4h-8.4zM444 170.6l4.2 7.4h-8.4zM453.9 191.9l4.2 7.4h-8.4zM454.1 183l4.2 7.4h-8.4zM461.3 184.1l4.2 7.4h-8.4zM462.3 189.4l4.2 7.4h-8.4zM466.7 187.8l4.2 7.4h-8.4zM456.9 182.2l4.2 7.4h-8.4zM465.5 182.2l4.2 7.4h-8.4zM462.5 184l4.2 7.4h-8.4zM460.1 172.7l4.2 7.4h-8.4zM464.8 187.6l4.2 7.4h-8.4zM470.3 183.4l4.2 7.4h-8.4zM463.3 187.7l4.2 7.4h-8.4zM469.4 182.1l4.2 7.4h-8.4zM466.4 184l4.2 7.4h-8.4zM466.5 183.3l4.2 7.4h-8.4zM472.2 182.3l4.2 7.4h-8.4zM472.4 181l4.2 7.4h-8.4zM473.9 183.2l4.2 7.4h-8.4zM470.5 181.9l4.2 7.4h-8.4zM471.2 185.2l4.2 7.4h-8.4zM472.1 183.1l4.2 7.4h-8.4zM470.3 169l4.2 7.4h-8.4zM484.2 176.7l4.2 7.4h-8.4zM470.6 184.7l4.2 7.4h-8.4zM477.8 188.3l4.2 7.4h-8.4zM475.2 184.4l4.2 7.4h-8.4zM477.9 188.1l4.2 7.4h-8.4zM472.9 186.1l4.2 7.4h-8.4zM482.3 182.4l4.2 7.4h-8.4zM481.7 187.3l4.2 7.4h-8.4zM482.3 185.8l4.2 7.4h-8.4zM483.1 183.4l4.2 7.4h-8.4zM482 184.5l4.2 7.4h-8.4zM499.5 171.2l4.2 7.4h-8.4zM484.9 190.6l4.2 7.4h-8.4zM486.6 188.2l4.2 7.4h-8.4zM493 193.3l4.2 7.4h-8.4zM483.9 192.1l4.2 7.4h-8.4zM491 195.8l4.2 7.4h-8.4zM494 190.4l4.2 7.4h-8.4zM495.2 188l4.2 7.4h-8.4zM491.8 192.1l4.2 7.4h-8.4zM491.1 200.4l4.2 7.4h-8.4zM485 198.1l4.2 7.4h-8.4zM487.9 196.7l4.2 7.4h-8.4zM492.1 202.9l4.2 7.4h-8.4zM489.9 197.6l4.2 7.4h-8.4zM490 199.4l4.2 7.4h-8.4zM493.3 194.7l4.2 7.4h-8.4zM512.9 199.4l4.2 7.4h-8.4zM492 194.5l4.2 7.4h-8.4zM487.9 201.2l4.2 7.4h-8.4zM486.8 200.2l4.2 7.4h-8.4zM495.6 203.6l4.2 7.4h-8.4zM499.2 196.2l4.2 7.4h-8.4zM509.6 202.5l4.2 7.4h-8.4zM495.1 202.5l4.2 7.4h-8.4zM494 206.2l4.2 7.4h-8.4zM493.9 204.7l4.2 7.4h-8.4zM493.9 200.8l4.2 7.4h-8.4zM490 202.7l4.2 7.4h-8.4zM494.2 203l4.2 7.4h-8.4zM497.2 200.5l4.2 7.4h-8.4zM512.5 196.7l4.2 7.4h-8.4zM490.4 205.6l4.2 7.4h-8.4zM492.4 202.1l4.2 7.4h-8.4zM488.8 204.8l4.2 7.4h-8.4zM498.1 203.4l4.2 7.4h-8.4zM495.8 207.1l4.2 7.4h-8.4zM496.2 211.4l4.2 7.4h-8.4zM490.5 208.9l4.2 7.4h-8.4zM493.7 209.5l4.2 7.4h-8.4zM505.2 211.2l4.2 7.4h-8.4zM493.1 206l4.2 7.4h-8.4zM500.1 212.3l4.2 7.4h-8.4zM493.8 214.2l4.2 7.4h-8.4zM494.2 208.2l4.2 7.4h-8.4zM496.9 215.9l4.2 7.4h-8.4zM495.2 214.3l4.2 7.4h-8.4zM502.4 213.5l4.2 7.4h-8.4zM491.2 216.7l4.2 7.4h-8.4zM493.3 209.3l4.2 7.4h-8.4zM492 214.4l4.2 7.4h-8.4zM495.3 214.1l4.2 7.4h-8.4zM498.6 220.9l4.2 7.4h-8.4zM494.2 214.7l4.2 7.4h-8.4zM514 212l4.2 7.4h-8.4zM498.9 221l4.2 7.4h-8.4zM498.8 223.2l4.2 7.4h-8.4zM494.9 227l4.2 7.4h-8.4zM501.9 219l4.2 7.4h-8.4zM494.8 228l4.2 7.4h-8.4zM498.8 223.2l4.2 7.4h-8.4zM498.1 226.9l4.2 7.4h-8.4zM494.5 227.6l4.2 7.4h-8.4zM508.8 217.4l4.2 7.4h-8.4zM497.9 224.5l4.2 7.4h-8.4zM496.1 232.2l4.2 7.4h-8.4zM499.6 229l4.2 7.4h-8.4zM499.8 229.5l4.2 7.4h-8.4zM501.3 234.7l4.2 7.4h-8.4zM501.6 230.5l4.2 7.4h-8.4zM502.3 233l4.2 7.4h-8.4zM502.8 236.1l4.2 7.4h-8.4zM506.3 236.9l4.2 7.4h-8.4zM505.2 242.3l4.2 7.4h-8.4zM505.4 239.4l4.2 7.4h-8.4zM503.5 233.5l4.2 7.4h-8.4zM503.5 238.3l4.2 7.4h-8.4zM507.3 233l4.2 7.4h-8.4zM503.3 234.8l4.2 7.4h-8.4zM508.7 233.8l4.2 7.4h-8.4zM504 243.6l4.2 7.4h-8.4zM505.2 246.1l4.2 7.4h-8.4zM506.3 247l4.2 7.4h-8.4zM506.1 246.2l4.2 7.4h-8.4zM510.3 246.3l4.2 7.4h-8.4zM508.3 250.2l4.2 7.4h-8.4zM508.2 248.7l4.2 7.4h-8.4zM508.9 249.3l4.2 7.4h-8.4zM517.5 230.5l4.2 7.4h-8.4zM509.8 244l4.2 7.4h-8.4zM510 249.8l4.2 7.4h-8.4zM510.5 245.6l4.2 7.4h-8.4zM511.8 254.3l4.2 7.4h-8.4zM512.9 251.4l4.2 7.4h-8.4zM518.3 246.4l4.2 7.4h-8.4zM510.7 244.9l4.2 7.4h-8.4zM514.9 256l4.2 7.4h-8.4zM517.6 251.7l4.2 7.4h-8.4zM521.2 252.3l4.2 7.4h-8.4zM521.1 258.8l4.2 7.4h-8.4zM517.1 253.4l4.2 7.4h-8.4zM525.9 258.3l4.2 7.4h-8.4zM529.4 250.7l4.2 7.4h-8.4zM523.5 260.8l4.2 7.4h-8.4zM524.5 261.4l4.2 7.4h-8.4zM523 253.3l4.2 7.4h-8.4zM525.6 254.6l4.2 7.4h-8.4zM528.7 256.6l4.2 7.4h-8.4zM533.1 258.6l4.2 7.4h-8.4zM533.9 266.4l4.2 7.4h-8.4zM532.9 260.4l4.2 7.4h-8.4zM535.5 247.5l4.2 7.4h-8.4zM539 258l4.2 7.4h-8.4zM538.9 262.6l4.2 7.4h-8.4zM539.5 263.3l4.2 7.4h-8.4zM541.2 266.3l4.2 7.4h-8.4zM538.7 262l4.2 7.4h-8.4zM540.2 264.6l4.2 7.4h-8.4zM544.3 266.8l4.2 7.4h-8.4zM550.6 265.9l4.2 7.4h-8.4zM549.6 262.7l4.2 7.4h-8.4zM548.9 270.1l4.2 7.4h-8.4zM555.1 251l4.2 7.4h-8.4zM558.1 266l4.2 7.4h-8.4zM553.1 271.8l4.2 7.4h-8.4zM553.5 268.9l4.2 7.4h-8.4zM547.7 268.5l4.2 7.4h-8.4zM558.8 242.1l4.2 7.4h-8.4zM555.5 261.8l4.2 7.4h-8.4zM562 269.5l4.2 7.4h-8.4zM554 267.1l4.2 7.4h-8.4zM559.9 262.9l4.2 7.4h-8.4zM557.8 272.1l4.2 7.4h-8.4zM557.3 265.4l4.2 7.4h-8.4zM562.7 263.4l4.2 7.4h-8.4zM563.4 269l4.2 7.4h-8.4zM563 270.7l4.2 7.4h-8.4zM565.7 267l4.2 7.4h-8.4zM567.4 267.3l4.2 7.4h-8.4zM571 267.6l4.2 7.4h-8.4zM575.3 262.7l4.2 7.4h-8.4zM569.7 270.3l4.2 7.4h-8.4zM569.5 271.1l4.2 7.4h-8.4zM573.4 268l4.2 7.4h-8.4zM577.9 269.5l4.2 7.4h-8.4zM572.8 270.5l4.2 7.4h-8.4zM573.8 268.8l4.2 7.4h-8.4zM578.1 269.2l4.2 7.4h-8.4zM576.5 270.2l4.2 7.4h-8.4zM581.9 272.1l4.2 7.4h-8.4zM580.7 274.3l4.2 7.4h-8.4zM581.5 263.1l4.2 7.4h-8.4zM580.5 268.4l4.2 7.4h-8.4zM577.3 273.9l4.2 7.4h-8.4zM578.3 270l4.2 7.4h-8.4zM582.4 271.6l4.2 7.4h-8.4zM584.9 270.2l4.2 7.4h-8.4zM583.4 268.3l4.2 7.4h-8.4zM583 272.2l4.2 7.4h-8.4zM582.3 275l4.2 7.4h-8.4zM586.1 271.2l4.2 7.4h-8.4zM588.9 277.7l4.2 7.4h-8.4zM587.2 271.8l4.2 7.4h-8.4zM582.3 276.7l4.2 7.4h-8.4zM582.4 275.5l4.2 7.4h-8.4zM590 257.7l4.2 7.4h-8.4zM599.2 270.5l4.2 7.4h-8.4zM598.5 276l4.2 7.4h-8.4zM603.6 277.1l4.2 7.4h-8.4zM603.1 273l4.2 7.4h-8.4zM602.5 281l4.2 7.4h-8.4zM604.3 266.8l4.2 7.4h-8.4zM600.8 275.5l4.2 7.4h-8.4zM606 282.2l4.2 7.4h-8.4zM611.5 280.9l4.2 7.4h-8.4zM601.4 277.3l4.2 7.4h-8.4zM610.3 277.9l4.2 7.4h-8.4zM612.2 276.5l4.2 7.4h-8.4zM604.5 275.2l4.2 7.4h-8.4zM604.4 279l4.2 7.4h-8.4zM612.8 280.5l4.2 7.4h-8.4zM606 275.8l4.2 7.4h-8.4zM620 280.5l4.2 7.4h-8.4zM615.8 279.8l4.2 7.4h-8.4zM610 278.2l4.2 7.4h-8.4zM622.6 278l4.2 7.4h-8.4zM617.3 282.8l4.2 7.4h-8.4zM621 284l4.2 7.4h-8.4zM612.6 281.1l4.2 7.4h-8.4zM616.4 280l4.2 7.4h-8.4zM618.2 279.8l4.2 7.4h-8.4zM620.6 282.5l4.2 7.4h-8.4zM621.5 282.5l4.2 7.4h-8.4zM624 287.5l4.2 7.4h-8.4zM621.8 288.5l4.2 7.4h-8.4zM621.7 279l4.2 7.4h-8.4zM624.6 281.9l4.2 7.4h-8.4zM625.4 284.4l4.2 7.4h-8.4zM620.4 282l4.2 7.4h-8.4zM621.1 281.4l4.2 7.4h-8.4zM619.3 288.2l4.2 7.4h-8.4zM619.9 279.4l4.2 7.4h-8.4zM632.6 278.2l4.2 7.4h-8.4zM626.7 283.1l4.2 7.4h-8.4zM630 281.3l4.2 7.4h-8.4zM625.2 284.7l4.2 7.4h-8.4zM627 287l4.2 7.4h-8.4zM634.6 290.3l4.2 7.4h-8.4zM629.5 289.1l4.2 7.4h-8.4zM629 291.9l4.2 7.4h-8.4zM627.4 289.7l4.2 7.4h-8.4zM626.7 285l4.2 7.4h-8.4zM627.4 286.4l4.2 7.4h-8.4zM636.7 274.5l4.2 7.4h-8.4zM633.1 288.3l4.2 7.4h-8.4zM633.7 290.9l4.2 7.4h-8.4zM637.7 294.1l4.2 7.4h-8.4zM635.6 294.8l4.2 7.4h-8.4zM632 294.2l4.2 7.4h-8.4zM631 289.2l4.2 7.4h-8.4zM642.8 282.2l4.2 7.4h-8.4zM639.6 292.4l4.2 7.4h-8.4zM648.4 293l4.2 7.4h-8.4zM636 293.3l4.2 7.4h-8.4zM641.5 296.7l4.2 7.4h-8.4zM635.1 289.1l4.2 7.4h-8.4zM644 299.7l4.2 7.4h-8.4zM643 294l4.2 7.4h-8.4zM644.8 302.1l4.2 7.4h-8.4zM642.5 298.1l4.2 7.4h-8.4zM643.8 298.9l4.2 7.4h-8.4zM646.8 298.7l4.2 7.4h-8.4zM646.7 299.4l4.2 7.4h-8.4zM649.8 298.5l4.2 7.4h-8.4zM650.2 303.7l4.2 7.4h-8.4zM655.9 300.8l4.2 7.4h-8.4zM658.7 304.9l4.2 7.4h-8.4zM652.4 301.7l4.2 7.4h-8.4zM652.9 301.4l4.2 7.4h-8.4zM656.6 302l4.2 7.4h-8.4zM657.9 304.2l4.2 7.4h-8.4zM664.4 310l4.2 7.4h-8.4zM658.2 303.6l4.2 7.4h-8.4zM663.3 300.6l4.2 7.4h-8.4zM663.8 300.5l4.2 7.4h-8.4zM667.6 307.5l4.2 7.4h-8.4zM660.7 307.8l4.2 7.4h-8.4zM670 306.2l4.2 7.4h-8.4zM663.6 307.8l4.2 7.4h-8.4zM666.6 304.5l4.2 7.4h-8.4zM666.2 307.9l4.2 7.4h-8.4zM665.7 305l4.2 7.4h-8.4zM665.9 308.9l4.2 7.4h-8.4zM668.7 296.3l4.2 7.4h-8.4zM667.5 307.2l4.2 7.4h-8.4zM680 307.9l4.2 7.4h-8.4zM676.1 311.5l4.2 7.4h-8.4zM666.9 309.5l4.2 7.4h-8.4zM673 313.2l4.2 7.4h-8.4zM688 292l4.2 7.4h-8.4zM671.9 317.2l4.2 7.4h-8.4zM680.5 316.4l4.2 7.4h-8.4zM687.1 316.3l4.2 7.4h-8.4zM678.8 316.1l4.2 7.4h-8.4zM684.6 316.5l4.2 7.4h-8.4zM690.1 319.7l4.2 7.4h-8.4zM686 320.8l4.2 7.4h-8.4zM690.3 323.5l4.2 7.4h-8.4zM693.3 329.5l4.2 7.4h-8.4zM688.6 332l4.2 7.4h-8.4zM687 327.1l4.2 7.4h-8.4zM690.5 333l4.2 7.4h-8.4zM696.7 330.3l4.2 7.4h-8.4zM687.5 328.3l4.2 7.4h-8.4zM693.7 330.7l4.2 7.4h-8.4zM700.1 333.1l4.2 7.4h-8.4zM694.7 329l4.2 7.4h-8.4zM696 333.9l4.2 7.4h-8.4zM694.7 327.2l4.2 7.4h-8.4zM695.2 337.6l4.2 7.4h-8.4zM697.5 339l4.2 7.4h-8.4zM697.2 333.4l4.2 7.4h-8.4zM703.9 334.8l4.2 7.4h-8.4zM703.4 335.3l4.2 7.4h-8.4zM695.7 337l4.2 7.4h-8.4zM697.9 338.1l4.2 7.4h-8.4zM701.7 343.2l4.2 7.4h-8.4zM710.4 339.8l4.2 7.4h-8.4zM702.2 338.3l4.2 7.4h-8.4zM700 336.4l4.2 7.4h-8.4zM699.2 343.2l4.2 7.4h-8.4zM696.4 340.2l4.2 7.4h-8.4zM698.3 348l4.2 7.4h-8.4zM703.6 348l4.2 7.4h-8.4zM704.1 345.5l4.2 7.4h-8.4zM706 352.7l4.2 7.4h-8.4zM704.6 349.1l4.2 7.4h-8.4zM704.1 348.3l4.2 7.4h-8.4zM711 351.9l4.2 7.4h-8.4zM706.4 356.3l4.2 7.4h-8.4zM706.4 355.6l4.2 7.4h-8.4zM705.4 354.4l4.2 7.4h-8.4zM706.1 354.7l4.2 7.4h-8.4zM708.9 358.4l4.2 7.4h-8.4zM709.1 358.3l4.2 7.4h-8.4zM702.6 360.4l4.2 7.4h-8.4zM702.5 357l4.2 7.4h-8.4zM703.4 358.1l4.2 7.4h-8.4zM706.8 357.9l4.2 7.4h-8.4zM706.6 361.1l4.2 7.4h-8.4zM702.9 367.1l4.2 7.4h-8.4zM702.4 363.1l4.2 7.4h-8.4zM703.6 363.3l4.2 7.4h-8.4zM705.4 363.6l4.2 7.4h-8.4zM708.2 374l4.2 7.4h-8.4zM708.2 367l4.2 7.4h-8.4zM706.5 367.9l4.2 7.4h-8.4zM702.7 371.1l4.2 7.4h-8.4zM708.6 370.9l4.2 7.4h-8.4zM708.3 366.8l4.2 7.4h-8.4zM709.4 375l4.2 7.4h-8.4zM726.3 377.2l4.2 7.4h-8.4zM704.6 378.3l4.2 7.4h-8.4zM707.2 372.9l4.2 7.4h-8.4zM727.2 378.1l4.2 7.4h-8.4zM707.3 374.5l4.2 7.4h-8.4zM702.9 373.4l4.2 7.4h-8.4zM716.9 376.4l4.2 7.4h-8.4zM708.2 372.7l4.2 7.4h-8.4zM704.2 379.5l4.2 7.4h-8.4zM708.8 388l4.2 7.4h-8.4zM700.1 377.1l4.2 7.4h-8.4zM700.2 382.8l4.2 7.4h-8.4zM710.9 389.9l4.2 7.4h-8.4zM699.2 382.7l4.2 7.4h-8.4zM711.6 391.3l4.2 7.4h-8.4zM697.9 386.5l4.2 7.4h-8.4zM699.5 390.9l4.2 7.4h-8.4zM700.8 386.4l4.2 7.4h-8.4zM693.7 395.2l4.2 7.4h-8.4zM698 393.9l4.2 7.4h-8.4zM694.6 401.1l4.2 7.4h-8.4zM703.6 395.4l4.2 7.4h-8.4zM694.4 400.9l4.2 7.4h-8.4zM690.5 401.2l4.2 7.4h-8.4zM688.1 401.9l4.2 7.4h-8.4zM689.6 403.1l4.2 7.4h-8.4zM688.5 405.4l4.2 7.4h-8.4zM681.2 407.2l4.2 7.4h-8.4zM683 400.3l4.2 7.4h-8.4zM686.9 409.3l4.2 7.4h-8.4zM686.8 406.2l4.2 7.4h-8.4zM686 408l4.2 7.4h-8.4zM683.4 406.7l4.2 7.4h-8.4zM691.7 428.3l4.2 7.4h-8.4zM681.8 408.6l4.2 7.4h-8.4zM684.1 408.5l4.2 7.4h-8.4zM675.5 410.1l4.2 7.4h-8.4zM679 414.1l4.2 7.4h-8.4zM677.3 414.7l4.2 7.4h-8.4zM675.8 411.6l4.2 7.4h-8.4zM677 412.6l4.2 7.4h-8.4zM676.9 420.4l4.2 7.4h-8.4zM668.6 413.1l4.2 7.4h-8.4zM676.6 412.4l4.2 7.4h-8.4zM675.3 423.9l4.2 7.4h-8.4zM673.7 411.9l4.2 7.4h-8.4zM669.6 417.1l4.2 7.4h-8.4zM663.2 416.7l4.2 7.4h-8.4zM664.9 414.4l4.2 7.4h-8.4zM667.8 416.8l4.2 7.4h-8.4zM668.1 413.9l4.2 7.4h-8.4zM665 419.4l4.2 7.4h-8.4zM663 417.2l4.2 7.4h-8.4zM671.7 420.4l4.2 7.4h-8.4zM662.5 416l4.2 7.4h-8.4zM653.1 416.6l4.2 7.4h-8.4zM663.4 419.7l4.2 7.4h-8.4zM654.8 416.6l4.2 7.4h-8.4zM655.8 423.2l4.2 7.4h-8.4zM652.3 417.6l4.2 7.4h-8.4zM658 423.2l4.2 7.4h-8.4zM650.7 420.3l4.2 7.4h-8.4zM648.2 419.7l4.2 7.4h-8.4zM650.3 424l4.2 7.4h-8.4zM650.3 424.4l4.2 7.4h-8.4zM643.8 420.3l4.2 7.4h-8.4zM646.9 424.7l4.2 7.4h-8.4zM649.1 425.2l4.2 7.4h-8.4zM643.4 424.7l4.2 7.4h-8.4zM645.3 428.3l4.2 7.4h-8.4zM648 422l4.2 7.4h-8.4zM638.6 424.1l4.2 7.4h-8.4zM638.1 426.4l4.2 7.4h-8.4zM643.1 423.8l4.2 7.4h-8.4zM641.6 425l4.2 7.4h-8.4zM638.4 427.2l4.2 7.4h-8.4zM640.3 418.9l4.2 7.4h-8.4zM639.3 424.4l4.2 7.4h-8.4zM637.2 419.2l4.2 7.4h-8.4zM636.7 425.4l4.2 7.4h-8.4zM632.5 423.5l4.2 7.4h-8.4zM632.5 432.4l4.2 7.4h-8.4zM634 424l4.2 7.4h-8.4zM635.1 421.1l4.2 7.4h-8.4zM633 425.2l4.2 7.4h-8.4zM626.4 423.2l4.2 7.4h-8.4zM629.8 420.6l4.2 7.4h-8.4zM625.5 421.9l4.2 7.4h-8.4zM623 420.8l4.2 7.4h-8.4zM620.5 426l4.2 7.4h-8.4zM625 427.9l4.2 7.4h-8.4zM626.8 424.8l4.2 7.4h-8.4zM621.5 428.7l4.2 7.4h-8.4zM625.5 420.5l4.2 7.4h-8.4zM626.8 425.2l4.2 7.4h-8.4zM624.8 425.7l4.2 7.4h-8.4zM624.6 429.1l4.2 7.4h-8.4zM623.7 422.8l4.2 7.4h-8.4zM628.7 418.4l4.2 7.4h-8.4zM621.7 424.9l4.2 7.4h-8.4zM614.1 421.3l4.2 7.4h-8.4zM616.8 421l4.2 7.4h-8.4zM613.5 423.7l4.2 7.4h-8.4zM611.3 416.5l4.2 7.4h-8.4zM613.2 419.7l4.2 7.4h-8.4zM612.8 422.3l4.2 7.4h-8.4zM611.2 420l4.2 7.4h-8.4zM610.7 416.4l4.2 7.4h-8.4zM606.6 421l4.2 7.4h-8.4zM603.9 418.1l4.2 7.4h-8.4zM611.1 423.5l4.2 7.4h-8.4zM605.8 416.3l4.2 7.4h-8.4zM603.2 417l4.2 7.4h-8.4zM605.8 420.1l4.2 7.4h-8.4zM612.2 417.3l4.2 7.4h-8.4zM603.8 421.9l4.2 7.4h-8.4zM606.2 420.3l4.2 7.4h-8.4zM598.9 419.2l4.2 7.4h-8.4zM598.4 426.4l4.2 7.4h-8.4zM604.8 416.2l4.2 7.4h-8.4zM597.1 420.4l4.2 7.4h-8.4zM597.1 418.2l4.2 7.4h-8.4zM598.4 415l4.2 7.4h-8.4zM593.9 421.2l4.2 7.4h-8.4zM592.4 420.9l4.2 7.4h-8.4zM587.6 446.8l4.2 7.4h-8.4zM588.7 416.3l4.2 7.4h-8.4zM590.1 416.1l4.2 7.4h-8.4zM586 416.6l4.2 7.4h-8.4zM581.8 419.7l4.2 7.4h-8.4zM585.6 418.5l4.2 7.4h-8.4zM580.7 420.5l4.2 7.4h-8.4zM577 417.8l4.2 7.4h-8.4zM587.4 417.1l4.2 7.4h-8.4zM576.4 420.8l4.2 7.4h-8.4zM566.8 436.9l4.2 7.4h-8.4zM579.4 418.1l4.2 7.4h-8.4zM576.7 417.6l4.2 7.4h-8.4zM572.4 414.4l4.2 7.4h-8.4zM580 414l4.2 7.4h-8.4zM578.4 413.1l4.2 7.4h-8.4zM571.2 421.8l4.2 7.4h-8.4zM572 412l4.2 7.4h-8.4zM568.4 420.6l4.2 7.4h-8.4zM575.8 411.9l4.2 7.4h-8.4zM569.3 423.6l4.2 7.4h-8.4zM568.2 415.4l4.2 7.4h-8.4zM573.9 412.6l4.2 7.4h-8.4zM567 415.4l4.2 7.4h-8.4zM565.7 417.2l4.2 7.4h-8.4zM565.7 420.9l4.2 7.4h-8.4zM564.6 413.2l4.2 7.4h-8.4zM562.9 417.9l4.2 7.4h-8.4zM564.8 419.1l4.2 7.4h-8.4zM561.7 417.7l4.2 7.4h-8.4zM554.9 412.1l4.2 7.4h-8.4zM556 416.3l4.2 7.4h-8.4zM557.2 415.7l4.2 7.4h-8.4zM552.6 415.4l4.2 7.4h-8.4zM554.4 417.7l4.2 7.4h-8.4zM549.2 423.8l4.2 7.4h-8.4zM553.2 412.8l4.2 7.4h-8.4zM550.9 424.4l4.2 7.4h-8.4zM551.6 419.5l4.2 7.4h-8.4zM548.5 416.5l4.2 7.4h-8.4zM547.3 416.1l4.2 7.4h-8.4zM542.8 423.6l4.2 7.4h-8.4zM544 417l4.2 7.4h-8.4zM533.7 418.6l4.2 7.4h-8.4zM536.8 419.9l4.2 7.4h-8.4zM532.8 421.7l4.2 7.4h-8.4zM528.1 420.7l4.2 7.4h-8.4zM538.1 417.8l4.2 7.4h-8.4zM535.5 415.9l4.2 7.4h-8.4zM532.6 416.2l4.2 7.4h-8.4zM538.9 416.4l4.2 7.4h-8.4zM532.1 417.6l4.2 7.4h-8.4zM531.9 418.2l4.2 7.4h-8.4zM530.7 411.7l4.2 7.4h-8.4zM528.9 423.1l4.2 7.4h-8.4zM519 416.3l4.2 7.4h-8.4zM524 418.7l4.2 7.4h-8.4zM524.7 413.9l4.2 7.4h-8.4zM521.2 418.2l4.2 7.4h-8.4zM518 416.9l4.2 7.4h-8.4zM515.1 417.2l4.2 7.4h-8.4zM516.4 416.4l4.2 7.4h-8.4zM525.3 414.7l4.2 7.4h-8.4zM515.1 422.5l4.2 7.4h-8.4zM516.9 420.7l4.2 7.4h-8.4zM514.8 420.4l4.2 7.4h-8.4zM518.8 419.1l4.2 7.4h-8.4zM514.5 421.2l4.2 7.4h-8.4zM517.9 419.4l4.2 7.4h-8.4zM514.8 423l4.2 7.4h-8.4zM514.5 424.2l4.2 7.4h-8.4zM508.5 418.7l4.2 7.4h-8.4zM513.1 422l4.2 7.4h-8.4zM507.9 418.1l4.2 7.4h-8.4zM515.1 421l4.2 7.4h-8.4zM512.1 426.7l4.2 7.4h-8.4zM516.6 436.6l4.2 7.4h-8.4zM511.2 419.6l4.2 7.4h-8.4zM510 422.5l4.2 7.4h-8.4zM507.2 422.3l4.2 7.4h-8.4zM510.7 430l4.2 7.4h-8.4zM507.2 425.1l4.2 7.4h-8.4zM504.6 422.6l4.2 7.4h-8.4zM505.6 423.2l4.2 7.4h-8.4zM506.8 423.2l4.2 7.4h-8.4zM500.2 421.5l4.2 7.4h-8.4zM504.5 421.4l4.2 7.4h-8.4zM504.8 429.7l4.2 7.4h-8.4zM498.8 422l4.2 7.4h-8.4zM505.4 424.1l4.2 7.4h-8.4zM506.4 424.1l4.2 7.4h-8.4zM503.6 430.2l4.2 7.4h-8.4zM501.1 420.1l4.2 7.4h-8.4zM502.2 428.9l4.2 7.4h-8.4zM493.5 423.8l4.2 7.4h-8.4zM499.9 426.9l4.2 7.4h-8.4zM495.5 425l4.2 7.4h-8.4zM493.9 424.8l4.2 7.4h-8.4zM489.5 429.8l4.2 7.4h-8.4zM493.1 430.7l4.2 7.4h-8.4zM482.4 429.7l4.2 7.4h-8.4zM495.1 444.2l4.2 7.4h-8.4zM488.7 427l4.2 7.4h-8.4zM482.9 432.3l4.2 7.4h-8.4zM483.7 430.7l4.2 7.4h-8.4zM483.1 435.9l4.2 7.4h-8.4zM485.4 428.6l4.2 7.4h-8.4zM479.9 430.8l4.2 7.4h-8.4zM477.6 429.5l4.2 7.4h-8.4zM480.1 428.8l4.2 7.4h-8.4zM480.2 434.9l4.2 7.4h-8.4zM481.6 435.3l4.2 7.4h-8.4zM480.8 434.8l4.2 7.4h-8.4zM482.2 437.6l4.2 7.4h-8.4zM478.7 437.1l4.2 7.4h-8.4zM480.2 431.8l4.2 7.4h-8.4zM470.3 428.1l4.2 7.4h-8.4zM477.4 430.9l4.2 7.4h-8.4zM470.2 431.2l4.2 7.4h-8.4zM471.2 430.9l4.2 7.4h-8.4zM472.9 434l4.2 7.4h-8.4zM466.9 432.5l4.2 7.4h-8.4zM467 444l4.2 7.4h-8.4zM467.8 430.5l4.2 7.4h-8.4zM465.5 432.4l4.2 7.4h-8.4zM468.2 434.4l4.2 7.4h-8.4zM467.7 429.8l4.2 7.4h-8.4zM466.1 432.1l4.2 7.4h-8.4zM465.1 435.5l4.2 7.4h-8.4zM461 433.7l4.2 7.4h-8.4zM469 436.7l4.2 7.4h-8.4zM466.7 430.2l4.2 7.4h-8.4zM462.6 433.6l4.2 7.4h-8.4zM460.2 433.3l4.2 7.4h-8.4zM461.1 436.6l4.2 7.4h-8.4zM458.8 431.5l4.2 7.4h-8.4zM460.8 434.9l4.2 7.4h-8.4zM459.3 432.9l4.2 7.4h-8.4zM462 437.5l4.2 7.4h-8.4zM459.4 432.3l4.2 7.4h-8.4zM461 432.2l4.2 7.4h-8.4zM455.3 434.9l4.2 7.4h-8.4zM452.8 434.4l4.2 7.4h-8.4zM453.4 433.9l4.2 7.4h-8.4zM456.4 449.4l4.2 7.4h-8.4zM453.3 432.9l4.2 7.4h-8.4zM451 430.9l4.2 7.4h-8.4zM449.5 431.9l4.2 7.4h-8.4zM453.5 443.3l4.2 7.4h-8.4zM453.7 432.6l4.2 7.4h-8.4zM452.5 435.8l4.2 7.4h-8.4zM448.2 428.5l4.2 7.4h-8.4zM448.1 435.1l4.2 7.4h-8.4zM445 431.6l4.2 7.4h-8.4zM445.7 431.2l4.2 7.4h-8.4zM450.8 428.9l4.2 7.4h-8.4zM444.6 445.3l4.2 7.4h-8.4zM448.2 431.6l4.2 7.4h-8.4zM442.8 429.7l4.2 7.4h-8.4zM445.1 434.6l4.2 7.4h-8.4zM445.1 427.7l4.2 7.4h-8.4zM439.1 429.2l4.2 7.4h-8.4zM441.8 430.6l4.2 7.4h-8.4zM437.9 429.7l4.2 7.4h-8.4zM435.7 421.4l4.2 7.4h-8.4zM433.8 428.1l4.2 7.4h-8.4zM436.3 425.8l4.2 7.4h-8.4zM433.3 430.5l4.2 7.4h-8.4zM431.7 427.9l4.2 7.4h-8.4zM434.1 428.1l4.2 7.4h-8.4zM431.1 437.3l4.2 7.4h-8.4zM430.1 422.5l4.2 7.4h-8.4zM435.2 426.7l4.2 7.4h-8.4zM428.1 428.3l4.2 7.4h-8.4zM432.5 422.8l4.2 7.4h-8.4zM428.2 424.1l4.2 7.4h-8.4zM426.2 425.4l4.2 7.4h-8.4zM430.1 420.5l4.2 7.4h-8.4zM429.8 423.8l4.2 7.4h-8.4zM424.3 423.8l4.2 7.4h-8.4zM422.2 430.8l4.2 7.4h-8.4zM425.2 419.1l4.2 7.4h-8.4zM427.1 418.1l4.2 7.4h-8.4zM419.3 411.9l4.2 7.4h-8.4zM422.5 415l4.2 7.4h-8.4zM418.5 409.6l4.2 7.4h-8.4zM416.9 415.2l4.2 7.4h-8.4zM419.8 412.2l4.2 7.4h-8.4zM416.6 412.5l4.2 7.4h-8.4zM413.4 416.6l4.2 7.4h-8.4zM416.4 409.9l4.2 7.4h-8.4zM415.3 408.6l4.2 7.4h-8.4zM411.5 406.7l4.2 7.4h-8.4zM414.9 405l4.2 7.4h-8.4zM417 409.5l4.2 7.4h-8.4zM410.7 406.4l4.2 7.4h-8.4zM406.9 403.1l4.2 7.4h-8.4zM410.9 405.2l4.2 7.4h-8.4zM413.4 401.8l4.2 7.4h-8.4zM406.7 402.2l4.2 7.4h-8.4zM405.4 402.6l4.2 7.4h-8.4zM402.3 400l4.2 7.4h-8.4zM409.3 397.7l4.2 7.4h-8.4zM405.7 401.6l4.2 7.4h-8.4zM398.9 393.1l4.2 7.4h-8.4zM403.8 396.5l4.2 7.4h-8.4zM393.5 407.9l4.2 7.4h-8.4zM395.2 390.9l4.2 7.4h-8.4zM398.8 392.7l4.2 7.4h-8.4zM403.1 394.2l4.2 7.4h-8.4zM397.6 399.1l4.2 7.4h-8.4zM396.5 390.3l4.2 7.4h-8.4zM393 398l4.2 7.4h-8.4zM395.9 392.9l4.2 7.4h-8.4zM386.8 395.1l4.2 7.4h-8.4zM396.6 394l4.2 7.4h-8.4zM390.3 384l4.2 7.4h-8.4zM393.9 386.9l4.2 7.4h-8.4zM388 389.8l4.2 7.4h-8.4zM392.2 386.4l4.2 7.4h-8.4zM388.3 389.9l4.2 7.4h-8.4zM395.1 382.4l4.2 7.4h-8.4zM394.7 386.6l4.2 7.4h-8.4zM387.5 381.7l4.2 7.4h-8.4zM390.8 382.9l4.2 7.4h-8.4zM386.7 383.5l4.2 7.4h-8.4zM392.1 379.2l4.2 7.4h-8.4zM385.8 382.3l4.2 7.4h-8.4zM391 377.7l4.2 7.4h-8.4zM391.4 379.9l4.2 7.4h-8.4zM389.3 379.7l4.2 7.4h-8.4zM388.4 378.2l4.2 7.4h-8.4zM392.6 375.6l4.2 7.4h-8.4zM384.6 376.4l4.2 7.4h-8.4zM390.9 370.4l4.2 7.4h-8.4zM390.3 367l4.2 7.4h-8.4zM373.3 359.1l4.2 7.4h-8.4zM388.2 369.8l4.2 7.4h-8.4zM388.6 369.2l4.2 7.4h-8.4zM390 368.9l4.2 7.4h-8.4zM362.5 371.2l4.2 7.4h-8.4zM388 363.4l4.2 7.4h-8.4zM391.7 367.5l4.2 7.4h-8.4zM382.8 366.5l4.2 7.4h-8.4zM390.1 362.6l4.2 7.4h-8.4zM385.3 358.4l4.2 7.4h-8.4zM386.9 360l4.2 7.4h-8.4zM389.6 363.1l4.2 7.4h-8.4zM382.8 362.4l4.2 7.4h-8.4zM383.1 357.4l4.2 7.4h-8.4zM383.1 355.1l4.2 7.4h-8.4zM382.3 365.3l4.2 7.4h-8.4zM384.5 362.4l4.2 7.4h-8.4zM384.8 356.6l4.2 7.4h-8.4zM385.4 359l4.2 7.4h-8.4zM387.5 359.1l4.2 7.4h-8.4zM385.7 355l4.2 7.4h-8.4zM388.8 355.9l4.2 7.4h-8.4zM384.9 349.2l4.2 7.4h-8.4zM381.8 353.8l4.2 7.4h-8.4zM374.3 351.2l4.2 7.4h-8.4zM385.3 352.2l4.2 7.4h-8.4zM375.7 350.4l4.2 7.4h-8.4zM384.3 346.4l4.2 7.4h-8.4zM386.1 348.2l4.2 7.4h-8.4zM383.6 346.3l4.2 7.4h-8.4zM389.4 348.2l4.2 7.4h-8.4zM387.5 345.3l4.2 7.4h-8.4zM382.4 349.2l4.2 7.4h-8.4zM383.8 346.9l4.2 7.4h-8.4zM388.1 350.6l4.2 7.4h-8.4zM386.2 350.4l4.2 7.4h-8.4zM385.4 344.4l4.2 7.4h-8.4zM383.4 342.8l4.2 7.4h-8.4zM386.4 342.3l4.2 7.4h-8.4zM383.7 343.2l4.2 7.4h-8.4zM382.4 336.7l4.2 7.4h-8.4zM423.3 184.7l4.2 7.4h-8.4zM413.4 186.5l4.2 7.4h-8.4zM442.6 186.5l4.2 7.4h-8.4zM450.5 185.7l4.2 7.4h-8.4zM454.7 176.5l4.2 7.4h-8.4zM434.4 198.3l4.2 7.4h-8.4zM406.4 176.1l4.2 7.4h-8.4zM433.1 189.7l4.2 7.4h-8.4zM454 183.5l4.2 7.4h-8.4zM425.8 184.4l4.2 7.4h-8.4zM443.9 180.5l4.2 7.4h-8.4zM467.9 187.4l4.2 7.4h-8.4zM533.4 256.5l4.2 7.4h-8.4zM530 243.4l4.2 7.4h-8.4zM522.9 239.3l4.2 7.4h-8.4zM552.3 243.6l4.2 7.4h-8.4zM515.9 230.2l4.2 7.4h-8.4zM532.9 218.6l4.2 7.4h-8.4zM517.7 243l4.2 7.4h-8.4zM568.9 254.1l4.2 7.4h-8.4zM629.5 249.2l4.2 7.4h-8.4zM487.3 209.7l4.2 7.4h-8.4zM541.1 240.9l4.2 7.4h-8.4zM551.7 256.8l4.2 7.4h-8.4zM557.9 236.2l4.2 7.4h-8.4zM461.4 239.4l4.2 7.4h-8.4zM575.6 248.7l4.2 7.4h-8.4zM579.5 271.4l4.2 7.4h-8.4zM504.6 237.8l4.2 7.4h-8.4zM520.1 248.2l4.2 7.4h-8.4zM632.3 259.9l4.2 7.4h-8.4zM623.9 269.9l4.2 7.4h-8.4zM588.3 249.9l4.2 7.4h-8.4zM520.1 238l4.2 7.4h-8.4zM518.9 248.3l4.2 7.4h-8.4zM561.5 265.3l4.2 7.4h-8.4zM559.4 233.1l4.2 7.4h-8.4zM490.3 232.4l4.2 7.4h-8.4zM562.3 250.4l4.2 7.4h-8.4zM581.4 265.7l4.2 7.4h-8.4zM518 249.5l4.2 7.4h-8.4zM574.2 248l4.2 7.4h-8.4zM585.9 242.7l4.2 7.4h-8.4zM552.5 247.5l4.2 7.4h-8.4zM589.7 275.9l4.2 7.4h-8.4zM553.6 251.6l4.2 7.4h-8.4zM550.9 255.5l4.2 7.4h-8.4zM711.4 337.8l4.2 7.4h-8.4zM731.9 378.2l4.2 7.4h-8.4zM708.2 392.1l4.2 7.4h-8.4zM717.6 300.7l4.2 7.4h-8.4zM713.4 384.4l4.2 7.4h-8.4zM706.7 364.5l4.2 7.4h-8.4zM720.5 369.6l4.2 7.4h-8.4zM721 393.3l4.2 7.4h-8.4zM712.6 347l4.2 7.4h-8.4zM720.4 365.2l4.2 7.4h-8.4zM713.4 340.6l4.2 7.4h-8.4zM726.2 366.9l4.2 7.4h-8.4zM716.5 330.9l4.2 7.4h-8.4zM702.4 362.1l4.2 7.4h-8.4zM724.6 363.2l4.2 7.4h-8.4zM707.9 392.7l4.2 7.4h-8.4zM708 371l4.2 7.4h-8.4zM709.8 397.5l4.2 7.4h-8.4zM709.8 351.4l4.2 7.4h-8.4zM717.7 428.7l4.2 7.4h-8.4zM703.1 375.4l4.2 7.4h-8.4zM720.5 339.2l4.2 7.4h-8.4zM703.5 342.9l4.2 7.4h-8.4zM725.1 407.1l4.2 7.4h-8.4zM693.4 410.8l4.2 7.4h-8.4zM708.5 372.3l4.2 7.4h-8.4zM713.9 347.2l4.2 7.4h-8.4zM711.8 346.1l4.2 7.4h-8.4zM702 369.2l4.2 7.4h-8.4zM707.6 414.4l4.2 7.4h-8.4zM711.2 345l4.2 7.4h-8.4zM716.5 401.3l4.2 7.4h-8.4zM716.7 388.9l4.2 7.4h-8.4zM718.9 340.5l4.2 7.4h-8.4zM720.9 373.5l4.2 7.4h-8.4zM719 395.3l4.2 7.4h-8.4zM714.2 374.9l4.2 7.4h-8.4zM728.3 371.5l4.2 7.4h-8.4zM725 344l4.2 7.4h-8.4zM414.4 303.6l4.2 7.4h-8.4zM413.5 311.6l4.2 7.4h-8.4zM403.1 290.1l4.2 7.4h-8.4zM414 291.8l4.2 7.4h-8.4zM407 288l4.2 7.4h-8.4zM390.3 298l4.2 7.4h-8.4zM407.7 277.1l4.2 7.4h-8.4zM386.6 307l4.2 7.4h-8.4zM393.9 283.3l4.2 7.4h-8.4zM427.7 231.9l4.2 7.4h-8.4zM384.4 345.7l4.2 7.4h-8.4zM421.3 269.5l4.2 7.4h-8.4zM394.3 314.6l4.2 7.4h-8.4zM436.9 217.9l4.2 7.4h-8.4zM403.2 263.1l4.2 7.4h-8.4zM398.8 329.3l4.2 7.4h-8.4zM334.6 437.3l4.2 7.4h-8.4zM392 320.7l4.2 7.4h-8.4zM414.8 260.8l4.2 7.4h-8.4zM395.3 310.8l4.2 7.4h-8.4zM392.3 294.6l4.2 7.4h-8.4zM427.9 252.8l4.2 7.4h-8.4zM366.8 345.8l4.2 7.4h-8.4zM389.8 291.5l4.2 7.4h-8.4zM388.1 293.6l4.2 7.4h-8.4zM721 308.3l4.2 7.4h-8.4zM737 333.3l4.2 7.4h-8.4zM743 328.3l4.2 7.4h-8.4zM828 231.3l4.2 7.4h-8.4zM762 361.3l4.2 7.4h-8.4zM752 340.3l4.2 7.4h-8.4zM749 230.3l4.2 7.4h-8.4zM762 241.3l4.2 7.4h-8.4z" fill="#00f"/>
<path d="M121.3 3.0H1263.2M1261.4 1.2V930.9M129.8 1.2V930.9M112.3 913.4H1263.2M224.1 913.4v9.5M318.4 913.4v17.5M412.7 913.4v9.5M507.0 913.4v17.5M601.3 913.4v9.5M695.6 913.4v17.5M789.9 913.4v9.5M884.2 913.4v17.5M978.5 913.4v9.5M1072.8 913.4v17.5M1167.1 913.4v9.5M129.8 843.3h-8.5M129.8 773.3h-17.5M129.8 703.2h-8.5M129.8 633.2h-17.5M129.8 563.1h-8.5M129.8 493.1h-17.5M129.8 423.1h-8.5M129.8 353.0h-17.5M129.8 282.9h-8.5M129.8 212.9h-17.5M129.8 142.9h-8.5M129.8 72.8h-17.5" fill="none" stroke="#000" stroke-width="3.45"/>
<text x="130.4" y="973.8" font-size="41.5" text-anchor="middle"><tspan font-size="37.5">−</tspan>4</text>
<text x="319.0" y="973.8" font-size="41.5" text-anchor="middle"><tspan font-size="37.5">−</tspan>2</text>
<text x="506.8" y="973.8" font-size="41.5" text-anchor="middle">0</text>
<text x="695.4" y="973.8" font-size="41.5" text-anchor="middle">2</text>
<text x="884.0" y="973.8" font-size="41.5" text-anchor="middle">4</text>
<text x="1072.6" y="973.8" font-size="41.5" text-anchor="middle">6</text>
<text x="1261.2" y="973.8" font-size="41.5" text-anchor="middle">8</text>
<text x="100.4" y="925.4" font-size="41.5" text-anchor="end"><tspan font-size="37.5">−</tspan>8</text>
<text x="100.4" y="785.3" font-size="41.5" text-anchor="end"><tspan font-size="37.5">−</tspan>6</text>
<text x="100.4" y="645.2" font-size="41.5" text-anchor="end"><tspan font-size="37.5">−</tspan>4</text>
<text x="100.4" y="505.1" font-size="41.5" text-anchor="end"><tspan font-size="37.5">−</tspan>2</text>
<text x="100.4" y="365.0" font-size="41.5" text-anchor="end">0</text>
<text x="100.4" y="224.9" font-size="41.5" text-anchor="end">2</text>
<text x="100.4" y="84.8" font-size="41.5" text-anchor="end">4</text>
<text x="695.9" y="1046.2" font-size="47.4" text-anchor="middle">projection on eigenvector 1 (nm)</text>
<text transform="translate(36.2 458.2) rotate(-90)" font-size="47.4" text-anchor="middle">projection on eigenvector 2 (nm)</text>
<rect x="922.5" y="4.5" width="338.9" height="180.8" fill="#fff" stroke="#333" stroke-width="1.3"/>
<text x="1255" y="52.2" font-size="48.0" text-anchor="end">N1@1AI9</text>
<text x="1255" y="110.7" font-size="48.0" text-anchor="end">N2@1AI9</text>
<text x="1255" y="169.2" font-size="48.0" text-anchor="end">N3@1AI9</text>
<rect x="977.7" y="32.6" width="8" height="8" fill="#000"/>
<circle cx="981.6" cy="94.8" r="3.6" fill="#f00"/>
<path d="M981.6 148l4.6 7.6h-9.2z" fill="#00f"/>
</svg></body></html>
